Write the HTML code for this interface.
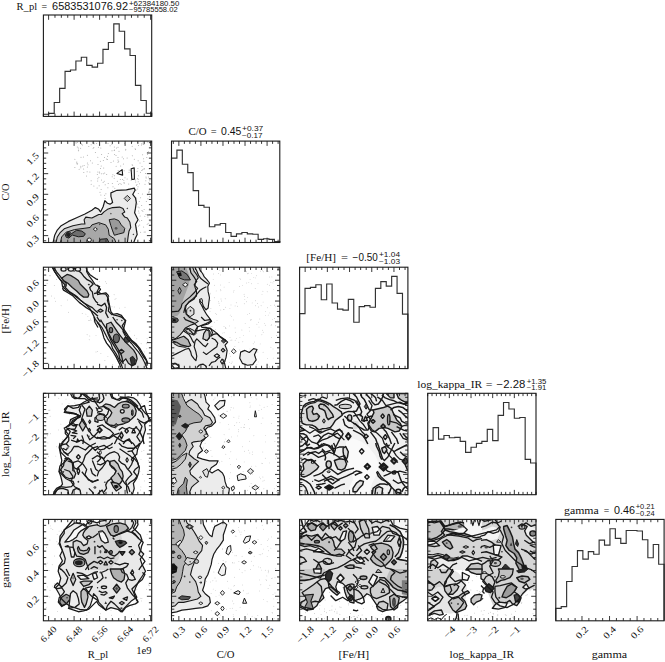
<!DOCTYPE html><html><head><meta charset="utf-8"><style>html,body{margin:0;padding:0;background:#fff;width:665px;height:662px;overflow:hidden;position:relative}</style></head><body><svg width="665" height="662" viewBox="0 0 665 662" style="position:absolute;left:0;top:0">
<rect width="665" height="662" fill="#fff"/>
<path d="M43.40,116.40L43.40,114.29L48.81,114.29L48.81,113.42L54.23,113.42L54.23,102.53L59.64,102.53L59.64,88.35L65.06,88.35L65.06,71.40L70.48,71.40L70.47,70.01L75.89,70.01L75.89,61.02L81.31,61.02L81.31,57.22L86.72,57.22L86.72,65.34L92.14,65.34L92.13,67.07L97.55,67.07L97.55,63.27L102.97,63.27L102.97,49.43L108.38,49.43L108.38,42.51L113.80,42.51L113.79,23.84L119.21,23.84L119.21,31.27L124.63,31.27L124.62,48.91L130.04,48.91L130.04,55.49L135.45,55.49L135.46,85.41L140.87,85.41L140.87,100.45L146.28,100.45L146.28,113.25L151.70,113.25L151.70,116.40" stroke="#333" stroke-width="1.15" fill="none" stroke-linejoin="miter"/>
<path d="M48.60,116.40v-4.8M48.60,15.00v4.8M54.97,116.40v-2.8M54.97,15.00v2.8M61.35,116.40v-2.8M61.35,15.00v2.8M67.72,116.40v-2.8M67.72,15.00v2.8M74.10,116.40v-4.8M74.10,15.00v4.8M80.47,116.40v-2.8M80.47,15.00v2.8M86.85,116.40v-2.8M86.85,15.00v2.8M93.22,116.40v-2.8M93.22,15.00v2.8M99.60,116.40v-4.8M99.60,15.00v4.8M105.97,116.40v-2.8M105.97,15.00v2.8M112.35,116.40v-2.8M112.35,15.00v2.8M118.72,116.40v-2.8M118.72,15.00v2.8M125.10,116.40v-4.8M125.10,15.00v4.8M131.47,116.40v-2.8M131.47,15.00v2.8M137.85,116.40v-2.8M137.85,15.00v2.8M144.22,116.40v-2.8M144.22,15.00v2.8M150.60,116.40v-4.8M150.60,15.00v4.8" stroke="#222" stroke-width="0.9" fill="none"/>
<rect x="43.40" y="15.00" width="108.3" height="101.4" fill="none" stroke="#1a1a1a" stroke-width="1.1"/>
<svg x="43.40" y="141.10" width="108.3" height="101.4" viewBox="43.40 141.10 108.3 101.4" overflow="hidden">
<circle cx="132.7" cy="165.3" r="0.5" fill="#a8a8a8"/><circle cx="112.3" cy="183.4" r="0.5" fill="#a8a8a8"/><circle cx="124.2" cy="215.1" r="0.5" fill="#a8a8a8"/><circle cx="81.7" cy="144.1" r="0.5" fill="#a8a8a8"/><circle cx="138.2" cy="181.8" r="0.5" fill="#a8a8a8"/><circle cx="132.6" cy="141.7" r="0.5" fill="#a8a8a8"/><circle cx="143.2" cy="144.3" r="0.5" fill="#a8a8a8"/><circle cx="146.0" cy="177.0" r="0.5" fill="#a8a8a8"/><circle cx="91.1" cy="180.8" r="0.5" fill="#a8a8a8"/><circle cx="76.8" cy="162.1" r="0.5" fill="#a8a8a8"/><circle cx="107.9" cy="187.7" r="0.5" fill="#a8a8a8"/><circle cx="92.3" cy="163.0" r="0.5" fill="#a8a8a8"/><circle cx="91.2" cy="184.3" r="0.5" fill="#a8a8a8"/><circle cx="96.6" cy="143.5" r="0.5" fill="#a8a8a8"/><circle cx="138.3" cy="193.4" r="0.5" fill="#a8a8a8"/><circle cx="123.5" cy="158.8" r="0.5" fill="#a8a8a8"/><circle cx="150.1" cy="221.7" r="0.5" fill="#a8a8a8"/><circle cx="83.8" cy="172.5" r="0.5" fill="#a8a8a8"/><circle cx="129.5" cy="207.8" r="0.5" fill="#a8a8a8"/><circle cx="145.8" cy="180.8" r="0.5" fill="#a8a8a8"/><circle cx="137.7" cy="204.0" r="0.5" fill="#a8a8a8"/><circle cx="141.7" cy="220.4" r="0.5" fill="#a8a8a8"/><circle cx="113.0" cy="196.4" r="0.5" fill="#a8a8a8"/><circle cx="77.2" cy="164.1" r="0.5" fill="#a8a8a8"/><circle cx="135.3" cy="180.1" r="0.5" fill="#a8a8a8"/><circle cx="128.1" cy="204.4" r="0.5" fill="#a8a8a8"/><circle cx="103.1" cy="182.4" r="0.5" fill="#a8a8a8"/><circle cx="114.2" cy="178.2" r="0.5" fill="#a8a8a8"/><circle cx="111.8" cy="144.2" r="0.5" fill="#a8a8a8"/><circle cx="149.4" cy="196.8" r="0.5" fill="#a8a8a8"/><circle cx="104.5" cy="157.4" r="0.5" fill="#a8a8a8"/><circle cx="133.2" cy="191.8" r="0.5" fill="#a8a8a8"/><circle cx="140.0" cy="163.1" r="0.5" fill="#a8a8a8"/><circle cx="118.5" cy="184.3" r="0.5" fill="#a8a8a8"/><circle cx="147.4" cy="142.0" r="0.5" fill="#a8a8a8"/><circle cx="134.2" cy="218.0" r="0.5" fill="#a8a8a8"/><circle cx="142.0" cy="210.6" r="0.5" fill="#a8a8a8"/><circle cx="136.1" cy="189.9" r="0.5" fill="#a8a8a8"/><circle cx="117.3" cy="181.2" r="0.5" fill="#a8a8a8"/><circle cx="118.0" cy="160.1" r="0.5" fill="#a8a8a8"/><circle cx="113.0" cy="186.7" r="0.5" fill="#a8a8a8"/><circle cx="101.7" cy="173.7" r="0.5" fill="#a8a8a8"/><circle cx="115.6" cy="199.6" r="0.5" fill="#a8a8a8"/><circle cx="121.2" cy="184.2" r="0.5" fill="#a8a8a8"/><circle cx="76.7" cy="162.9" r="0.5" fill="#a8a8a8"/><circle cx="140.1" cy="216.0" r="0.5" fill="#a8a8a8"/><circle cx="135.2" cy="217.6" r="0.5" fill="#a8a8a8"/><circle cx="125.8" cy="149.2" r="0.5" fill="#a8a8a8"/><circle cx="75.9" cy="142.8" r="0.5" fill="#a8a8a8"/><circle cx="132.1" cy="164.7" r="0.5" fill="#a8a8a8"/><circle cx="100.8" cy="147.9" r="0.5" fill="#a8a8a8"/><circle cx="87.4" cy="166.9" r="0.5" fill="#a8a8a8"/><circle cx="128.7" cy="183.9" r="0.5" fill="#a8a8a8"/><circle cx="99.1" cy="185.7" r="0.5" fill="#a8a8a8"/><circle cx="106.6" cy="159.0" r="0.5" fill="#a8a8a8"/><circle cx="113.4" cy="161.0" r="0.5" fill="#a8a8a8"/><circle cx="76.2" cy="143.1" r="0.5" fill="#a8a8a8"/><circle cx="126.2" cy="192.3" r="0.5" fill="#a8a8a8"/><circle cx="135.3" cy="189.7" r="0.5" fill="#a8a8a8"/><circle cx="104.6" cy="195.2" r="0.5" fill="#a8a8a8"/><circle cx="79.1" cy="169.3" r="0.5" fill="#a8a8a8"/><circle cx="148.2" cy="223.2" r="0.5" fill="#a8a8a8"/><circle cx="131.2" cy="180.3" r="0.5" fill="#a8a8a8"/><circle cx="93.8" cy="142.2" r="0.5" fill="#a8a8a8"/><circle cx="141.4" cy="145.0" r="0.5" fill="#a8a8a8"/><circle cx="136.9" cy="231.2" r="0.5" fill="#a8a8a8"/><circle cx="118.0" cy="157.5" r="0.5" fill="#a8a8a8"/><circle cx="140.6" cy="232.3" r="0.5" fill="#a8a8a8"/><circle cx="128.1" cy="188.9" r="0.5" fill="#a8a8a8"/><circle cx="103.3" cy="173.8" r="0.5" fill="#a8a8a8"/><circle cx="107.5" cy="159.6" r="0.5" fill="#a8a8a8"/><circle cx="97.1" cy="188.1" r="0.5" fill="#a8a8a8"/><circle cx="143.0" cy="143.1" r="0.5" fill="#a8a8a8"/><circle cx="89.9" cy="172.0" r="0.5" fill="#a8a8a8"/><circle cx="149.7" cy="214.5" r="0.5" fill="#a8a8a8"/><circle cx="100.4" cy="161.3" r="0.5" fill="#a8a8a8"/><circle cx="125.9" cy="219.6" r="0.5" fill="#a8a8a8"/><circle cx="145.5" cy="173.5" r="0.5" fill="#a8a8a8"/><circle cx="141.7" cy="205.6" r="0.5" fill="#a8a8a8"/><circle cx="81.0" cy="157.3" r="0.5" fill="#a8a8a8"/><circle cx="143.9" cy="161.3" r="0.5" fill="#a8a8a8"/><circle cx="132.3" cy="197.5" r="0.5" fill="#a8a8a8"/><circle cx="138.6" cy="175.8" r="0.5" fill="#a8a8a8"/><circle cx="100.5" cy="168.6" r="0.5" fill="#a8a8a8"/><circle cx="140.6" cy="197.8" r="0.5" fill="#a8a8a8"/><circle cx="147.2" cy="224.2" r="0.5" fill="#a8a8a8"/><circle cx="82.5" cy="145.1" r="0.5" fill="#a8a8a8"/><circle cx="134.5" cy="218.8" r="0.5" fill="#a8a8a8"/><circle cx="134.1" cy="176.7" r="0.5" fill="#a8a8a8"/><circle cx="118.0" cy="162.3" r="0.5" fill="#a8a8a8"/><circle cx="80.8" cy="166.3" r="0.5" fill="#a8a8a8"/><circle cx="142.4" cy="194.1" r="0.5" fill="#a8a8a8"/><circle cx="145.0" cy="184.2" r="0.5" fill="#a8a8a8"/><circle cx="137.6" cy="142.6" r="0.5" fill="#a8a8a8"/><circle cx="125.6" cy="150.0" r="0.5" fill="#a8a8a8"/><circle cx="77.6" cy="163.8" r="0.5" fill="#a8a8a8"/><circle cx="149.8" cy="180.7" r="0.5" fill="#a8a8a8"/><circle cx="83.4" cy="157.1" r="0.5" fill="#a8a8a8"/><circle cx="143.8" cy="168.9" r="0.5" fill="#a8a8a8"/><circle cx="93.9" cy="186.0" r="0.5" fill="#a8a8a8"/><circle cx="77.6" cy="142.4" r="0.5" fill="#a8a8a8"/><circle cx="149.3" cy="169.0" r="0.5" fill="#a8a8a8"/><circle cx="120.0" cy="183.4" r="0.5" fill="#a8a8a8"/><circle cx="98.4" cy="147.3" r="0.5" fill="#a8a8a8"/><circle cx="144.1" cy="232.0" r="0.5" fill="#a8a8a8"/><circle cx="148.4" cy="151.8" r="0.5" fill="#a8a8a8"/><circle cx="149.1" cy="192.1" r="0.5" fill="#a8a8a8"/><circle cx="126.9" cy="203.2" r="0.5" fill="#a8a8a8"/><circle cx="98.0" cy="164.4" r="0.5" fill="#a8a8a8"/><circle cx="80.8" cy="167.7" r="0.5" fill="#a8a8a8"/><circle cx="149.4" cy="183.3" r="0.5" fill="#a8a8a8"/><circle cx="124.2" cy="201.5" r="0.5" fill="#a8a8a8"/><circle cx="146.2" cy="177.9" r="0.5" fill="#a8a8a8"/><circle cx="97.9" cy="172.0" r="0.5" fill="#a8a8a8"/><circle cx="142.6" cy="169.7" r="0.5" fill="#a8a8a8"/><circle cx="100.0" cy="192.2" r="0.5" fill="#a8a8a8"/><circle cx="118.6" cy="197.1" r="0.5" fill="#a8a8a8"/><circle cx="93.2" cy="143.4" r="0.5" fill="#a8a8a8"/><circle cx="93.1" cy="148.2" r="0.5" fill="#a8a8a8"/><circle cx="116.5" cy="148.1" r="0.5" fill="#a8a8a8"/><circle cx="135.1" cy="148.7" r="0.5" fill="#a8a8a8"/><circle cx="146.8" cy="157.6" r="0.5" fill="#a8a8a8"/><circle cx="137.1" cy="171.3" r="0.5" fill="#a8a8a8"/><circle cx="144.5" cy="168.8" r="0.5" fill="#a8a8a8"/><circle cx="142.6" cy="154.7" r="0.5" fill="#a8a8a8"/><circle cx="143.9" cy="144.4" r="0.5" fill="#a8a8a8"/><circle cx="135.7" cy="226.1" r="0.5" fill="#a8a8a8"/><circle cx="138.6" cy="211.1" r="0.5" fill="#a8a8a8"/><circle cx="127.1" cy="158.1" r="0.5" fill="#a8a8a8"/><circle cx="107.5" cy="156.2" r="0.5" fill="#a8a8a8"/><circle cx="129.0" cy="203.8" r="0.5" fill="#a8a8a8"/><circle cx="93.8" cy="147.5" r="0.5" fill="#a8a8a8"/><circle cx="147.9" cy="216.9" r="0.5" fill="#a8a8a8"/><circle cx="116.4" cy="192.0" r="0.5" fill="#a8a8a8"/><circle cx="139.4" cy="183.8" r="0.5" fill="#a8a8a8"/><circle cx="104.7" cy="173.1" r="0.5" fill="#a8a8a8"/><circle cx="94.2" cy="143.7" r="0.5" fill="#a8a8a8"/><circle cx="123.8" cy="180.3" r="0.5" fill="#a8a8a8"/><circle cx="118.0" cy="147.3" r="0.5" fill="#a8a8a8"/><circle cx="101.6" cy="154.4" r="0.5" fill="#a8a8a8"/><circle cx="84.1" cy="165.6" r="0.5" fill="#a8a8a8"/><circle cx="137.7" cy="178.6" r="0.5" fill="#a8a8a8"/><circle cx="105.1" cy="198.6" r="0.5" fill="#a8a8a8"/><circle cx="92.4" cy="142.2" r="0.5" fill="#a8a8a8"/><circle cx="114.8" cy="188.2" r="0.5" fill="#a8a8a8"/><circle cx="124.0" cy="182.4" r="0.5" fill="#a8a8a8"/><circle cx="126.8" cy="209.7" r="0.5" fill="#a8a8a8"/><circle cx="111.0" cy="162.5" r="0.5" fill="#a8a8a8"/><circle cx="105.9" cy="193.7" r="0.5" fill="#a8a8a8"/><circle cx="143.6" cy="227.1" r="0.5" fill="#a8a8a8"/><circle cx="78.3" cy="148.1" r="0.5" fill="#a8a8a8"/><circle cx="141.8" cy="170.6" r="0.5" fill="#a8a8a8"/><circle cx="127.3" cy="220.7" r="0.5" fill="#a8a8a8"/><circle cx="130.6" cy="196.9" r="0.5" fill="#a8a8a8"/><circle cx="139.7" cy="225.1" r="0.5" fill="#a8a8a8"/><circle cx="147.6" cy="194.8" r="0.5" fill="#a8a8a8"/><circle cx="88.0" cy="164.8" r="0.5" fill="#a8a8a8"/><circle cx="132.2" cy="146.3" r="0.5" fill="#a8a8a8"/><circle cx="126.4" cy="208.4" r="0.5" fill="#a8a8a8"/><circle cx="101.1" cy="189.5" r="0.5" fill="#a8a8a8"/><circle cx="136.1" cy="200.1" r="0.5" fill="#a8a8a8"/><circle cx="147.6" cy="154.4" r="0.5" fill="#a8a8a8"/><circle cx="133.6" cy="220.0" r="0.5" fill="#a8a8a8"/><circle cx="124.8" cy="206.8" r="0.5" fill="#a8a8a8"/><circle cx="148.5" cy="177.1" r="0.5" fill="#a8a8a8"/><circle cx="135.7" cy="181.9" r="0.5" fill="#a8a8a8"/><circle cx="87.1" cy="171.8" r="0.5" fill="#a8a8a8"/><circle cx="147.6" cy="152.6" r="0.5" fill="#a8a8a8"/><circle cx="120.3" cy="179.5" r="0.5" fill="#a8a8a8"/><circle cx="83.6" cy="169.0" r="0.5" fill="#a8a8a8"/><circle cx="74.9" cy="159.2" r="0.5" fill="#a8a8a8"/><circle cx="108.0" cy="143.4" r="0.5" fill="#a8a8a8"/><circle cx="122.3" cy="198.0" r="0.5" fill="#a8a8a8"/><circle cx="138.1" cy="160.7" r="0.5" fill="#a8a8a8"/><circle cx="134.8" cy="216.9" r="0.5" fill="#a8a8a8"/><circle cx="148.7" cy="192.3" r="0.5" fill="#a8a8a8"/><circle cx="133.1" cy="194.7" r="0.5" fill="#a8a8a8"/><circle cx="103.7" cy="168.0" r="0.5" fill="#a8a8a8"/><circle cx="118.1" cy="170.5" r="0.5" fill="#a8a8a8"/><circle cx="112.9" cy="174.8" r="0.5" fill="#a8a8a8"/><circle cx="114.8" cy="141.5" r="0.5" fill="#a8a8a8"/><circle cx="108.2" cy="183.4" r="0.5" fill="#a8a8a8"/><circle cx="97.8" cy="178.7" r="0.5" fill="#a8a8a8"/><circle cx="134.2" cy="205.2" r="0.5" fill="#a8a8a8"/><circle cx="112.0" cy="201.9" r="0.5" fill="#a8a8a8"/><circle cx="103.3" cy="160.5" r="0.5" fill="#a8a8a8"/><circle cx="74.9" cy="167.4" r="0.5" fill="#a8a8a8"/><circle cx="137.7" cy="189.1" r="0.5" fill="#a8a8a8"/><circle cx="149.7" cy="184.5" r="0.5" fill="#a8a8a8"/><circle cx="138.1" cy="179.6" r="0.5" fill="#a8a8a8"/><circle cx="97.8" cy="157.3" r="0.5" fill="#a8a8a8"/><circle cx="121.8" cy="191.0" r="0.5" fill="#a8a8a8"/><circle cx="101.9" cy="141.8" r="0.5" fill="#a8a8a8"/><circle cx="104.2" cy="181.2" r="0.5" fill="#a8a8a8"/><circle cx="119.1" cy="209.9" r="0.5" fill="#a8a8a8"/><circle cx="142.9" cy="211.3" r="0.5" fill="#a8a8a8"/><circle cx="123.3" cy="202.0" r="0.5" fill="#a8a8a8"/><circle cx="122.5" cy="179.4" r="0.5" fill="#a8a8a8"/><circle cx="122.5" cy="200.6" r="0.5" fill="#a8a8a8"/><circle cx="145.9" cy="214.5" r="0.5" fill="#a8a8a8"/><circle cx="139.0" cy="213.1" r="0.5" fill="#a8a8a8"/><circle cx="136.6" cy="198.0" r="0.5" fill="#a8a8a8"/><circle cx="101.2" cy="166.1" r="0.5" fill="#a8a8a8"/><circle cx="116.0" cy="155.6" r="0.5" fill="#a8a8a8"/><circle cx="138.0" cy="186.7" r="0.5" fill="#a8a8a8"/><circle cx="110.1" cy="145.7" r="0.5" fill="#a8a8a8"/><circle cx="106.7" cy="174.6" r="0.5" fill="#a8a8a8"/><circle cx="124.6" cy="143.3" r="0.5" fill="#a8a8a8"/><circle cx="127.1" cy="179.0" r="0.5" fill="#a8a8a8"/><circle cx="127.0" cy="197.9" r="0.5" fill="#a8a8a8"/><circle cx="90.5" cy="160.8" r="0.5" fill="#a8a8a8"/><circle cx="142.0" cy="166.6" r="0.5" fill="#a8a8a8"/><circle cx="114.4" cy="175.8" r="0.5" fill="#a8a8a8"/><circle cx="128.9" cy="217.5" r="0.5" fill="#a8a8a8"/><circle cx="140.5" cy="172.2" r="0.5" fill="#a8a8a8"/><circle cx="128.4" cy="220.2" r="0.5" fill="#a8a8a8"/><circle cx="121.9" cy="171.0" r="0.5" fill="#a8a8a8"/><circle cx="134.3" cy="159.2" r="0.5" fill="#a8a8a8"/><circle cx="122.2" cy="156.9" r="0.5" fill="#a8a8a8"/><circle cx="148.6" cy="182.8" r="0.5" fill="#a8a8a8"/><circle cx="144.1" cy="209.4" r="0.5" fill="#a8a8a8"/><circle cx="120.7" cy="165.9" r="0.5" fill="#a8a8a8"/><circle cx="114.6" cy="154.4" r="0.5" fill="#a8a8a8"/><circle cx="129.2" cy="170.0" r="0.5" fill="#a8a8a8"/><circle cx="112.0" cy="150.8" r="0.5" fill="#a8a8a8"/><circle cx="88.8" cy="146.6" r="0.5" fill="#a8a8a8"/><circle cx="91.1" cy="144.7" r="0.5" fill="#a8a8a8"/><circle cx="128.1" cy="217.5" r="0.5" fill="#a8a8a8"/><circle cx="147.9" cy="198.7" r="0.5" fill="#a8a8a8"/><circle cx="112.2" cy="176.7" r="0.5" fill="#a8a8a8"/><circle cx="87.4" cy="163.1" r="0.5" fill="#a8a8a8"/><circle cx="137.0" cy="184.6" r="0.5" fill="#a8a8a8"/><circle cx="118.7" cy="161.2" r="0.5" fill="#a8a8a8"/><circle cx="129.0" cy="172.3" r="0.5" fill="#a8a8a8"/><circle cx="150.2" cy="145.8" r="0.5" fill="#a8a8a8"/><circle cx="135.3" cy="221.5" r="0.5" fill="#a8a8a8"/><circle cx="98.9" cy="177.2" r="0.5" fill="#a8a8a8"/><circle cx="132.3" cy="155.7" r="0.5" fill="#a8a8a8"/><circle cx="144.1" cy="142.9" r="0.5" fill="#a8a8a8"/><circle cx="138.5" cy="226.0" r="0.5" fill="#a8a8a8"/><circle cx="77.3" cy="147.1" r="0.5" fill="#a8a8a8"/><circle cx="138.5" cy="145.5" r="0.5" fill="#a8a8a8"/><circle cx="95.4" cy="152.4" r="0.5" fill="#a8a8a8"/><circle cx="81.5" cy="144.0" r="0.5" fill="#a8a8a8"/><circle cx="123.1" cy="210.9" r="0.5" fill="#a8a8a8"/><circle cx="126.8" cy="220.4" r="0.5" fill="#a8a8a8"/><circle cx="125.0" cy="177.8" r="0.5" fill="#a8a8a8"/><circle cx="123.4" cy="164.1" r="0.5" fill="#a8a8a8"/><circle cx="119.5" cy="174.1" r="0.5" fill="#a8a8a8"/><circle cx="120.6" cy="193.7" r="0.5" fill="#a8a8a8"/><circle cx="114.3" cy="147.1" r="0.5" fill="#a8a8a8"/><circle cx="101.5" cy="180.0" r="0.5" fill="#a8a8a8"/><circle cx="128.9" cy="210.8" r="0.5" fill="#a8a8a8"/><circle cx="129.5" cy="211.6" r="0.5" fill="#a8a8a8"/><circle cx="139.6" cy="221.0" r="0.5" fill="#a8a8a8"/><circle cx="78.6" cy="150.0" r="0.5" fill="#a8a8a8"/><circle cx="136.4" cy="185.2" r="0.5" fill="#a8a8a8"/><circle cx="108.3" cy="153.4" r="0.5" fill="#a8a8a8"/><circle cx="141.7" cy="143.8" r="0.5" fill="#a8a8a8"/><circle cx="114.5" cy="149.9" r="0.5" fill="#a8a8a8"/><circle cx="135.5" cy="149.5" r="0.5" fill="#a8a8a8"/><circle cx="130.3" cy="170.7" r="0.5" fill="#a8a8a8"/><circle cx="136.0" cy="221.3" r="0.5" fill="#a8a8a8"/><circle cx="97.7" cy="181.1" r="0.5" fill="#a8a8a8"/><circle cx="99.7" cy="173.1" r="0.5" fill="#a8a8a8"/><circle cx="119.0" cy="151.2" r="0.5" fill="#a8a8a8"/><circle cx="124.2" cy="183.3" r="0.5" fill="#a8a8a8"/><circle cx="149.8" cy="208.6" r="0.5" fill="#a8a8a8"/><circle cx="138.1" cy="206.9" r="0.5" fill="#a8a8a8"/><circle cx="137.9" cy="168.6" r="0.5" fill="#a8a8a8"/><circle cx="86.5" cy="176.0" r="0.5" fill="#a8a8a8"/><circle cx="114.2" cy="150.5" r="0.5" fill="#a8a8a8"/><circle cx="100.9" cy="195.1" r="0.5" fill="#a8a8a8"/><circle cx="124.1" cy="170.7" r="0.5" fill="#a8a8a8"/><circle cx="97.3" cy="174.4" r="0.5" fill="#a8a8a8"/><circle cx="112.7" cy="190.6" r="0.5" fill="#a8a8a8"/><circle cx="99.4" cy="172.0" r="0.5" fill="#a8a8a8"/><circle cx="145.2" cy="231.9" r="0.5" fill="#a8a8a8"/><circle cx="136.6" cy="227.8" r="0.5" fill="#a8a8a8"/><circle cx="144.8" cy="216.2" r="0.5" fill="#a8a8a8"/><circle cx="134.2" cy="207.0" r="0.5" fill="#a8a8a8"/><circle cx="131.4" cy="175.2" r="0.5" fill="#a8a8a8"/><circle cx="146.3" cy="201.5" r="0.5" fill="#a8a8a8"/><circle cx="105.2" cy="184.8" r="0.5" fill="#a8a8a8"/><circle cx="149.1" cy="191.1" r="0.5" fill="#a8a8a8"/><circle cx="87.4" cy="155.3" r="0.5" fill="#a8a8a8"/><circle cx="126.9" cy="194.0" r="0.5" fill="#a8a8a8"/><circle cx="143.6" cy="158.7" r="0.5" fill="#a8a8a8"/><circle cx="78.4" cy="150.7" r="0.5" fill="#a8a8a8"/><circle cx="116.1" cy="166.3" r="0.5" fill="#a8a8a8"/><circle cx="82.7" cy="165.9" r="0.5" fill="#a8a8a8"/><circle cx="122.7" cy="190.6" r="0.5" fill="#a8a8a8"/><circle cx="80.6" cy="148.3" r="0.5" fill="#a8a8a8"/><circle cx="139.3" cy="201.5" r="0.5" fill="#a8a8a8"/><circle cx="139.1" cy="207.7" r="0.5" fill="#a8a8a8"/><polygon points="52.97,243.02 54.70,235.25 57.29,230.06 60.75,226.09 68.53,221.42 77.18,217.45 84.96,213.99 91.88,210.19 95.33,207.60 98.79,209.33 100.52,211.92 103.12,206.74 104.85,200.69 107.44,203.28 110.03,204.14 112.63,202.42 110.90,196.37 110.90,192.91 116.95,190.32 126.46,189.80 134.24,188.07 135.11,190.32 132.69,194.47 135.45,197.92 136.32,202.42 135.45,208.46 134.59,212.78 138.05,219.70 135.45,224.19 136.32,229.37 137.18,234.56 135.45,238.01 133.55,243.02" fill="#ececec" stroke="#1a1a1a" stroke-width="1.2" stroke-linejoin="round"/><polygon points="55.91,243.02 57.29,236.98 60.40,232.31 64.21,228.85 72.85,225.74 81.50,224.02 84.96,224.02 84.09,219.70 85.82,217.10 91.88,217.97 98.79,214.51 101.39,214.51 103.98,211.92 107.44,209.33 112.63,207.60 119.54,207.08 123.00,208.46 124.73,211.92 122.14,213.65 124.73,217.10 127.32,217.97 129.92,222.29 130.78,227.47 129.05,230.93 128.19,236.11 127.32,243.02" fill="#cdcdcd" stroke="#1a1a1a" stroke-width="1.1" stroke-linejoin="round"/><polygon points="60.40,243.02 61.62,236.98 65.94,232.31 74.58,229.55 84.09,228.34 90.15,227.47 91.88,224.88 98.79,222.63 105.71,224.88 108.30,229.20 109.17,235.25 114.36,238.70 116.09,243.02" fill="#a8a8a8" stroke="#1a1a1a" stroke-width="1.0" stroke-linejoin="round"/><polygon points="109.17,219.70 114.36,218.83 118.68,220.56 121.27,224.88 124.73,228.34 123.87,232.66 118.68,234.04 114.36,235.25 112.63,230.93 110.90,225.74" fill="#9a9a9a" stroke="#1a1a1a" stroke-width="1.0" stroke-linejoin="round"/><polygon points="65.29,234.61 68.78,231.12 71.40,233.74 76.63,230.25 81.86,231.12 85.35,233.74 83.61,236.35 78.37,236.79 72.27,235.04 68.78,238.10 66.16,237.22" fill="#6e6e6e" stroke="#1a1a1a" stroke-width="1.0" stroke-linejoin="round"/><polygon points="65.73,235.04 68.34,231.99 70.96,234.17 68.78,237.66" fill="#1e1e1e"/><polygon points="98.45,243.02 100.52,239.22 107.09,238.70 109.17,243.02" fill="#6a6a6a" stroke="#1a1a1a" stroke-width="1.0" stroke-linejoin="round"/><ellipse cx="89.28" cy="239.91" rx="2.08" ry="1.90" fill="#efefef" stroke="#1a1a1a" stroke-width="0.9"/><polygon points="93.26,229.20 95.33,227.47 97.41,229.20 95.33,230.93" fill="#eeeeee" stroke="#1a1a1a" stroke-width="0.9" stroke-linejoin="round"/><ellipse cx="116.09" cy="228.34" rx="1.38" ry="1.38" fill="#555"/><polygon points="110.03,213.65 110.90,212.78 111.76,213.65 110.90,214.51" fill="#444"/><polygon points="126.46,208.46 127.32,207.60 128.19,208.46 127.32,209.33" fill="#444"/><polygon points="98.79,224.36 99.66,223.50 100.52,224.36 99.66,225.23" fill="#444"/><polygon points="132.51,234.38 133.38,233.52 134.24,234.38 133.38,235.25" fill="#444"/><polygon points="124.21,198.44 127.32,195.33 130.44,198.44 127.32,201.55" fill="#c4c4c4" stroke="#1a1a1a" stroke-width="0.9" stroke-linejoin="round"/><polygon points="116.95,173.42 122.14,169.62 122.66,175.15" fill="#f4f4f4" stroke="#1a1a1a" stroke-width="1.1" stroke-linejoin="round"/><polygon points="131.13,168.76 134.24,167.89 134.41,179.13 131.82,179.47" fill="#f4f4f4" stroke="#1a1a1a" stroke-width="1.1" stroke-linejoin="round"/>
</svg>
<path d="M48.60,242.50v-4.8M48.60,141.10v4.8M54.97,242.50v-2.8M54.97,141.10v2.8M61.35,242.50v-2.8M61.35,141.10v2.8M67.72,242.50v-2.8M67.72,141.10v2.8M74.10,242.50v-4.8M74.10,141.10v4.8M80.47,242.50v-2.8M80.47,141.10v2.8M86.85,242.50v-2.8M86.85,141.10v2.8M93.22,242.50v-2.8M93.22,141.10v2.8M99.60,242.50v-4.8M99.60,141.10v4.8M105.97,242.50v-2.8M105.97,141.10v2.8M112.35,242.50v-2.8M112.35,141.10v2.8M118.72,242.50v-2.8M118.72,141.10v2.8M125.10,242.50v-4.8M125.10,141.10v4.8M131.47,242.50v-2.8M131.47,141.10v2.8M137.85,242.50v-2.8M137.85,141.10v2.8M144.22,242.50v-2.8M144.22,141.10v2.8M150.60,242.50v-4.8M150.60,141.10v4.8M43.40,240.78h2.8M151.70,240.78h-2.8M43.40,235.62h4.8M151.70,235.62h-4.8M43.40,230.45h2.8M151.70,230.45h-2.8M43.40,225.29h2.8M151.70,225.29h-2.8M43.40,220.13h2.8M151.70,220.13h-2.8M43.40,214.96h4.8M151.70,214.96h-4.8M43.40,209.80h2.8M151.70,209.80h-2.8M43.40,204.64h2.8M151.70,204.64h-2.8M43.40,199.48h2.8M151.70,199.48h-2.8M43.40,194.31h4.8M151.70,194.31h-4.8M43.40,189.15h2.8M151.70,189.15h-2.8M43.40,183.99h2.8M151.70,183.99h-2.8M43.40,178.82h2.8M151.70,178.82h-2.8M43.40,173.66h4.8M151.70,173.66h-4.8M43.40,168.50h2.8M151.70,168.50h-2.8M43.40,163.34h2.8M151.70,163.34h-2.8M43.40,158.17h2.8M151.70,158.17h-2.8M43.40,153.01h4.8M151.70,153.01h-4.8M43.40,147.85h2.8M151.70,147.85h-2.8M43.40,142.68h2.8M151.70,142.68h-2.8" stroke="#222" stroke-width="0.9" fill="none"/>
<rect x="43.40" y="141.10" width="108.3" height="101.4" fill="none" stroke="#1a1a1a" stroke-width="1.1"/>
<path d="M171.50,242.50L171.50,158.10L176.91,158.10L176.91,150.16L182.33,150.16L182.33,164.24L187.75,164.24L187.75,172.55L193.16,172.55L193.16,190.60L198.57,190.60L198.57,205.40L203.99,205.40L203.99,207.20L209.41,207.20L209.41,226.70L214.82,226.70L214.82,224.89L220.23,224.89L220.24,223.45L225.65,223.45L225.65,232.47L231.06,232.47L231.06,236.44L236.48,236.44L236.48,233.92L241.90,233.92L241.89,232.47L247.31,232.47L247.31,233.92L252.72,233.92L252.72,234.28L258.14,234.28L258.14,239.33L263.56,239.33L263.56,238.79L268.97,238.79L268.97,239.33L274.39,239.33L274.38,241.50L279.80,241.50L279.80,242.50" stroke="#333" stroke-width="1.15" fill="none" stroke-linejoin="miter"/>
<path d="M173.34,242.50v-2.8M173.34,141.10v2.8M178.85,242.50v-4.8M178.85,141.10v4.8M184.37,242.50v-2.8M184.37,141.10v2.8M189.88,242.50v-2.8M189.88,141.10v2.8M195.40,242.50v-2.8M195.40,141.10v2.8M200.91,242.50v-4.8M200.91,141.10v4.8M206.42,242.50v-2.8M206.42,141.10v2.8M211.94,242.50v-2.8M211.94,141.10v2.8M217.45,242.50v-2.8M217.45,141.10v2.8M222.97,242.50v-4.8M222.97,141.10v4.8M228.48,242.50v-2.8M228.48,141.10v2.8M233.99,242.50v-2.8M233.99,141.10v2.8M239.51,242.50v-2.8M239.51,141.10v2.8M245.02,242.50v-4.8M245.02,141.10v4.8M250.54,242.50v-2.8M250.54,141.10v2.8M256.05,242.50v-2.8M256.05,141.10v2.8M261.57,242.50v-2.8M261.57,141.10v2.8M267.08,242.50v-4.8M267.08,141.10v4.8M272.59,242.50v-2.8M272.59,141.10v2.8M278.11,242.50v-2.8M278.11,141.10v2.8" stroke="#222" stroke-width="0.9" fill="none"/>
<rect x="171.50" y="141.10" width="108.3" height="101.4" fill="none" stroke="#1a1a1a" stroke-width="1.1"/>
<svg x="43.40" y="267.20" width="108.3" height="101.4" viewBox="43.40 267.20 108.3 101.4" overflow="hidden">
<circle cx="146.9" cy="363.3" r="0.45" fill="#b0b0b0"/><circle cx="49.6" cy="275.7" r="0.45" fill="#b0b0b0"/><circle cx="133.9" cy="341.8" r="0.45" fill="#b0b0b0"/><circle cx="116.0" cy="298.4" r="0.45" fill="#b0b0b0"/><circle cx="109.1" cy="328.7" r="0.45" fill="#b0b0b0"/><circle cx="106.4" cy="283.2" r="0.45" fill="#b0b0b0"/><circle cx="90.1" cy="307.0" r="0.45" fill="#b0b0b0"/><circle cx="121.7" cy="368.0" r="0.45" fill="#b0b0b0"/><circle cx="91.6" cy="294.3" r="0.45" fill="#b0b0b0"/><circle cx="47.3" cy="269.9" r="0.45" fill="#b0b0b0"/><circle cx="93.8" cy="299.4" r="0.45" fill="#b0b0b0"/><circle cx="100.4" cy="324.0" r="0.45" fill="#b0b0b0"/><circle cx="69.0" cy="269.5" r="0.45" fill="#b0b0b0"/><circle cx="78.7" cy="281.0" r="0.45" fill="#b0b0b0"/><circle cx="140.2" cy="347.9" r="0.45" fill="#b0b0b0"/><circle cx="123.0" cy="359.1" r="0.45" fill="#b0b0b0"/><circle cx="126.0" cy="347.2" r="0.45" fill="#b0b0b0"/><circle cx="125.1" cy="339.7" r="0.45" fill="#b0b0b0"/><circle cx="93.4" cy="320.9" r="0.45" fill="#b0b0b0"/><circle cx="97.7" cy="351.5" r="0.45" fill="#b0b0b0"/><circle cx="104.9" cy="360.5" r="0.45" fill="#b0b0b0"/><circle cx="121.8" cy="316.5" r="0.45" fill="#b0b0b0"/><circle cx="67.5" cy="300.0" r="0.45" fill="#b0b0b0"/><circle cx="147.1" cy="338.7" r="0.45" fill="#b0b0b0"/><circle cx="98.0" cy="319.6" r="0.45" fill="#b0b0b0"/><circle cx="114.0" cy="326.7" r="0.45" fill="#b0b0b0"/><circle cx="77.2" cy="288.2" r="0.45" fill="#b0b0b0"/><circle cx="132.3" cy="340.7" r="0.45" fill="#b0b0b0"/><circle cx="114.1" cy="294.8" r="0.45" fill="#b0b0b0"/><circle cx="89.2" cy="339.8" r="0.45" fill="#b0b0b0"/><circle cx="85.2" cy="271.5" r="0.45" fill="#b0b0b0"/><circle cx="110.1" cy="342.4" r="0.45" fill="#b0b0b0"/><circle cx="55.7" cy="301.3" r="0.45" fill="#b0b0b0"/><circle cx="126.4" cy="342.2" r="0.45" fill="#b0b0b0"/><circle cx="141.1" cy="343.8" r="0.45" fill="#b0b0b0"/><circle cx="136.8" cy="338.7" r="0.45" fill="#b0b0b0"/><circle cx="94.6" cy="290.0" r="0.45" fill="#b0b0b0"/><circle cx="115.0" cy="299.2" r="0.45" fill="#b0b0b0"/><circle cx="106.8" cy="307.0" r="0.45" fill="#b0b0b0"/><circle cx="99.2" cy="281.7" r="0.45" fill="#b0b0b0"/><circle cx="109.1" cy="309.7" r="0.45" fill="#b0b0b0"/><circle cx="58.7" cy="272.9" r="0.45" fill="#b0b0b0"/><circle cx="47.1" cy="283.5" r="0.45" fill="#b0b0b0"/><circle cx="144.6" cy="368.0" r="0.45" fill="#b0b0b0"/><circle cx="68.6" cy="312.2" r="0.45" fill="#b0b0b0"/><circle cx="111.0" cy="348.3" r="0.45" fill="#b0b0b0"/><circle cx="89.2" cy="320.5" r="0.45" fill="#b0b0b0"/><circle cx="44.0" cy="270.7" r="0.45" fill="#b0b0b0"/><circle cx="87.7" cy="278.4" r="0.45" fill="#b0b0b0"/><circle cx="54.3" cy="285.5" r="0.45" fill="#b0b0b0"/><circle cx="68.5" cy="289.2" r="0.45" fill="#b0b0b0"/><circle cx="99.8" cy="314.2" r="0.45" fill="#b0b0b0"/><circle cx="147.7" cy="341.0" r="0.45" fill="#b0b0b0"/><circle cx="90.4" cy="319.0" r="0.45" fill="#b0b0b0"/><circle cx="88.7" cy="320.4" r="0.45" fill="#b0b0b0"/><circle cx="63.1" cy="276.6" r="0.45" fill="#b0b0b0"/><circle cx="109.5" cy="296.5" r="0.45" fill="#b0b0b0"/><circle cx="54.4" cy="298.1" r="0.45" fill="#b0b0b0"/><circle cx="134.5" cy="335.3" r="0.45" fill="#b0b0b0"/><circle cx="87.9" cy="316.4" r="0.45" fill="#b0b0b0"/><circle cx="51.4" cy="296.0" r="0.45" fill="#b0b0b0"/><circle cx="85.9" cy="314.1" r="0.45" fill="#b0b0b0"/><circle cx="125.0" cy="307.2" r="0.45" fill="#b0b0b0"/><circle cx="56.6" cy="279.5" r="0.45" fill="#b0b0b0"/><circle cx="112.8" cy="364.5" r="0.45" fill="#b0b0b0"/><circle cx="114.8" cy="345.9" r="0.45" fill="#b0b0b0"/><circle cx="121.8" cy="317.6" r="0.45" fill="#b0b0b0"/><circle cx="82.2" cy="313.5" r="0.45" fill="#b0b0b0"/><circle cx="100.4" cy="315.6" r="0.45" fill="#b0b0b0"/><circle cx="146.8" cy="348.7" r="0.45" fill="#b0b0b0"/><circle cx="144.4" cy="351.9" r="0.45" fill="#b0b0b0"/><circle cx="75.6" cy="290.6" r="0.45" fill="#b0b0b0"/><circle cx="96.4" cy="293.4" r="0.45" fill="#b0b0b0"/><circle cx="89.8" cy="336.0" r="0.45" fill="#b0b0b0"/><circle cx="50.7" cy="275.8" r="0.45" fill="#b0b0b0"/><circle cx="140.4" cy="367.4" r="0.45" fill="#b0b0b0"/><circle cx="75.5" cy="290.6" r="0.45" fill="#b0b0b0"/><circle cx="116.1" cy="336.2" r="0.45" fill="#b0b0b0"/><circle cx="91.0" cy="320.3" r="0.45" fill="#b0b0b0"/><circle cx="146.3" cy="343.8" r="0.45" fill="#b0b0b0"/><circle cx="119.6" cy="308.1" r="0.45" fill="#b0b0b0"/><circle cx="151.2" cy="346.5" r="0.45" fill="#b0b0b0"/><circle cx="105.5" cy="281.8" r="0.45" fill="#b0b0b0"/><circle cx="91.2" cy="270.1" r="0.45" fill="#b0b0b0"/><circle cx="107.9" cy="356.6" r="0.45" fill="#b0b0b0"/><circle cx="95.7" cy="308.2" r="0.45" fill="#b0b0b0"/><circle cx="120.4" cy="362.1" r="0.45" fill="#b0b0b0"/><circle cx="119.8" cy="315.0" r="0.45" fill="#b0b0b0"/><circle cx="124.2" cy="333.9" r="0.45" fill="#b0b0b0"/><circle cx="125.9" cy="353.5" r="0.45" fill="#b0b0b0"/><circle cx="87.1" cy="334.8" r="0.45" fill="#b0b0b0"/><circle cx="120.5" cy="356.7" r="0.45" fill="#b0b0b0"/><circle cx="113.8" cy="349.9" r="0.45" fill="#b0b0b0"/><circle cx="122.4" cy="328.6" r="0.45" fill="#b0b0b0"/><circle cx="141.5" cy="356.8" r="0.45" fill="#b0b0b0"/><circle cx="124.0" cy="326.6" r="0.45" fill="#b0b0b0"/><circle cx="90.5" cy="292.8" r="0.45" fill="#b0b0b0"/><circle cx="104.7" cy="314.5" r="0.45" fill="#b0b0b0"/><circle cx="51.3" cy="267.4" r="0.45" fill="#b0b0b0"/><circle cx="96.0" cy="352.0" r="0.45" fill="#b0b0b0"/><circle cx="114.7" cy="343.7" r="0.45" fill="#b0b0b0"/><circle cx="96.0" cy="335.6" r="0.45" fill="#b0b0b0"/><circle cx="79.7" cy="294.2" r="0.45" fill="#b0b0b0"/><circle cx="116.5" cy="347.0" r="0.45" fill="#b0b0b0"/><circle cx="61.1" cy="305.8" r="0.45" fill="#b0b0b0"/><circle cx="93.8" cy="297.0" r="0.45" fill="#b0b0b0"/><circle cx="101.7" cy="305.9" r="0.45" fill="#b0b0b0"/><circle cx="95.8" cy="321.7" r="0.45" fill="#b0b0b0"/><circle cx="113.4" cy="347.8" r="0.45" fill="#b0b0b0"/><circle cx="114.2" cy="307.0" r="0.45" fill="#b0b0b0"/><circle cx="112.0" cy="306.8" r="0.45" fill="#b0b0b0"/><circle cx="100.9" cy="353.4" r="0.45" fill="#b0b0b0"/><circle cx="129.8" cy="330.9" r="0.45" fill="#b0b0b0"/><circle cx="76.8" cy="290.7" r="0.45" fill="#b0b0b0"/><polygon points="52.10,265.73 54.70,271.78 58.16,276.96 61.62,281.28 62.48,286.46 65.94,289.92 71.13,293.38 77.18,297.70 81.50,301.15 85.82,304.61 90.15,308.93 92.74,314.11 95.33,319.30 98.79,323.62 102.25,327.94 104.85,333.12 107.44,338.30 110.90,343.49 112.63,348.67 116.09,353.86 118.68,359.04 121.27,364.22 123.00,369.75 147.56,369.75 144.62,362.50 142.02,357.31 138.56,352.13 134.24,346.94 131.65,343.49 128.19,340.03 125.60,336.58 123.00,331.39 125.60,321.02 123.00,317.57 117.81,315.84 113.49,314.98 110.90,311.52 109.17,303.74 108.30,298.56 105.71,294.24 100.52,293.38 97.06,291.65 99.66,286.46 95.33,284.74 91.88,279.55 89.28,276.10 86.69,271.78 86.69,265.73" fill="#e6e6e6"/><polyline points="52.21,267.49 54.83,271.85 58.32,277.08 60.93,280.57 63.55,283.19 65.29,284.93 62.68,288.42 63.55,290.16 67.91,292.78 72.27,295.40 75.76,298.89 79.25,302.37 82.74,304.99 86.22,307.61 90.58,310.22 94.07,312.84 98.00,316.33" fill="none" stroke="#1a1a1a" stroke-width="1.3" stroke-linejoin="round"/><polyline points="53.95,267.49 56.57,271.85 60.06,276.21 62.68,279.70 66.16,283.19 66.16,285.80 65.29,287.55 69.65,291.91 74.01,294.53 77.50,297.14 80.99,300.63 84.48,303.25 88.84,305.86 92.33,307.61 95.82,311.10 98.00,312.84" fill="none" stroke="#1a1a1a" stroke-width="1.3" stroke-linejoin="round"/><polyline points="86.22,267.49 87.10,270.98 89.71,274.47 93.20,277.08 95.82,278.83 98.00,279.70" fill="none" stroke="#1a1a1a" stroke-width="1.3" stroke-linejoin="round"/><polyline points="70.53,267.49 76.63,269.23 80.99,272.72 83.61,276.21 87.10,279.70 90.58,281.44 93.20,284.06 89.71,287.55 90.58,290.16 92.33,291.91 93.20,297.14 95.82,301.50 98.00,303.25" fill="none" stroke="#1a1a1a" stroke-width="1.3" stroke-linejoin="round"/><polyline points="94.07,293.65 96.69,292.78 98.00,293.65" fill="none" stroke="#1a1a1a" stroke-width="1.3" stroke-linejoin="round"/><polygon points="61.80,277.95 67.04,274.47 70.53,275.34 74.89,277.95 78.37,280.57 80.12,284.06 83.61,287.55 87.10,291.04 88.84,294.53 87.97,297.14 83.61,297.14 80.12,294.53 76.63,291.04 72.27,287.55 67.91,283.19 63.55,280.57" fill="#ababab" stroke="#1a1a1a" stroke-width="1.3" stroke-linejoin="round"/><ellipse cx="63.55" cy="269.23" rx="2.62" ry="1.92" fill="#f4f4f4" stroke="#1a1a1a" stroke-width="1.2"/><ellipse cx="70.96" cy="269.23" rx="2.62" ry="1.92" fill="#f4f4f4" stroke="#1a1a1a" stroke-width="1.2"/><ellipse cx="77.94" cy="269.23" rx="2.62" ry="1.92" fill="#f4f4f4" stroke="#1a1a1a" stroke-width="1.2"/><ellipse cx="88.84" cy="284.50" rx="1.05" ry="0.87" fill="#333"/><polyline points="97.00,284.93 100.49,289.29 98.74,291.91 97.00,292.78" fill="none" stroke="#1a1a1a" stroke-width="1.3" stroke-linejoin="round"/><polyline points="97.00,294.53 105.72,292.78 108.34,295.40 107.47,300.63 109.21,305.86 108.34,311.10 111.83,314.58 117.06,313.71 121.42,315.46 123.16,317.99" fill="none" stroke="#1a1a1a" stroke-width="1.3" stroke-linejoin="round"/><polyline points="97.00,304.12 101.36,305.86 104.85,303.25 106.59,307.61 105.72,312.84 108.34,317.99" fill="none" stroke="#1a1a1a" stroke-width="1.3" stroke-linejoin="round"/><polygon points="97.87,310.66 100.49,309.09 103.11,310.66 100.49,312.23" fill="#bbb" stroke="#1a1a1a" stroke-width="1.2" stroke-linejoin="round"/><polyline points="94.07,317.00 94.95,322.23 98.00,327.47" fill="none" stroke="#1a1a1a" stroke-width="1.3" stroke-linejoin="round"/><polygon points="106.59,323.98 110.95,322.23 114.44,327.47 117.93,332.70 121.42,337.06 124.91,341.42 128.40,344.91 133.63,350.14 136.25,354.50 137.12,358.86 135.37,364.10 131.89,365.84 128.40,363.22 125.78,358.86 122.29,362.35 119.68,358.86 118.80,353.63 116.19,349.27 113.57,344.91 110.95,340.55 108.34,334.44 106.59,329.21" fill="#bdbdbd" stroke="#1a1a1a" stroke-width="1.3" stroke-linejoin="round"/><polyline points="97.00,322.23 99.62,325.72 102.23,331.83 103.98,337.93 106.59,343.16 110.08,347.53 113.57,352.76 116.19,357.12 117.93,360.61 119.68,364.10 120.55,367.58" fill="none" stroke="#1a1a1a" stroke-width="1.3" stroke-linejoin="round"/><polyline points="100.49,319.62 103.11,323.98 106.59,329.21 109.21,334.44 111.83,339.68 114.44,343.16 117.06,347.53 119.68,351.89 121.42,355.37 122.29,358.86 123.16,364.10" fill="none" stroke="#1a1a1a" stroke-width="1.3" stroke-linejoin="round"/><polyline points="112.70,317.00 116.19,322.23 119.68,325.72 123.16,330.08 125.78,334.44 128.40,337.93 131.89,341.42 134.50,344.04 137.99,347.53 140.61,351.89 143.22,356.25 145.84,359.74 147.58,362.35 146.71,365.84" fill="none" stroke="#1a1a1a" stroke-width="1.3" stroke-linejoin="round"/><polyline points="121.42,317.00 125.78,320.49 122.29,325.72 124.91,330.95 128.40,336.19 131.89,340.55 136.25,344.04 139.74,348.40 142.35,352.76 144.97,357.12 146.71,360.61 145.84,364.10" fill="none" stroke="#1a1a1a" stroke-width="1.3" stroke-linejoin="round"/><polyline points="97.00,317.00 98.74,319.62 100.49,322.23" fill="none" stroke="#1a1a1a" stroke-width="1.3" stroke-linejoin="round"/><ellipse cx="110.95" cy="330.08" rx="1.74" ry="2.62" fill="#777" stroke="#1a1a1a" stroke-width="1.1"/><ellipse cx="116.36" cy="338.37" rx="3.05" ry="4.36" fill="#666" stroke="#1a1a1a" stroke-width="1.1"/><polygon points="124.04,337.93 127.53,337.06 130.14,339.68 128.40,342.29 124.91,341.86" fill="#444" stroke="#1a1a1a" stroke-width="1.0" stroke-linejoin="round"/><polygon points="118.80,351.45 121.42,349.27 124.04,351.45 121.42,353.63" fill="#999" stroke="#1a1a1a" stroke-width="1.2" stroke-linejoin="round"/><polygon points="130.14,357.99 132.76,356.25 135.37,359.74 134.50,364.10 131.45,364.53" fill="#333" stroke="#1a1a1a" stroke-width="1.0" stroke-linejoin="round"/><ellipse cx="117.06" cy="319.79" rx="0.70" ry="0.70" fill="#222"/><ellipse cx="121.86" cy="320.49" rx="0.70" ry="0.70" fill="#222"/><polygon points="52.10,265.73 54.70,271.78 58.16,276.96 61.62,281.28 62.48,286.46 65.94,289.92 71.13,293.38 77.18,297.70 81.50,301.15 85.82,304.61 90.15,308.93 92.74,314.11 95.33,319.30 98.79,323.62 102.25,327.94 104.85,333.12 107.44,338.30 110.90,343.49 112.63,348.67 116.09,353.86 118.68,359.04 121.27,364.22 123.00,369.75 147.56,369.75 144.62,362.50 142.02,357.31 138.56,352.13 134.24,346.94 131.65,343.49 128.19,340.03 125.60,336.58 123.00,331.39 125.60,321.02 123.00,317.57 117.81,315.84 113.49,314.98 110.90,311.52 109.17,303.74 108.30,298.56 105.71,294.24 100.52,293.38 97.06,291.65 99.66,286.46 95.33,284.74 91.88,279.55 89.28,276.10 86.69,271.78 86.69,265.73" fill="none" stroke="#1a1a1a" stroke-width="1.2" stroke-linejoin="round"/>
</svg>
<path d="M48.60,368.60v-4.8M48.60,267.20v4.8M54.97,368.60v-2.8M54.97,267.20v2.8M61.35,368.60v-2.8M61.35,267.20v2.8M67.72,368.60v-2.8M67.72,267.20v2.8M74.10,368.60v-4.8M74.10,267.20v4.8M80.47,368.60v-2.8M80.47,267.20v2.8M86.85,368.60v-2.8M86.85,267.20v2.8M93.22,368.60v-2.8M93.22,267.20v2.8M99.60,368.60v-4.8M99.60,267.20v4.8M105.97,368.60v-2.8M105.97,267.20v2.8M112.35,368.60v-2.8M112.35,267.20v2.8M118.72,368.60v-2.8M118.72,267.20v2.8M125.10,368.60v-4.8M125.10,267.20v4.8M131.47,368.60v-2.8M131.47,267.20v2.8M137.85,368.60v-2.8M137.85,267.20v2.8M144.22,368.60v-2.8M144.22,267.20v2.8M150.60,368.60v-4.8M150.60,267.20v4.8M43.40,368.60h2.8M151.70,368.60h-2.8M43.40,363.40h4.8M151.70,363.40h-4.8M43.40,358.21h2.8M151.70,358.21h-2.8M43.40,353.01h2.8M151.70,353.01h-2.8M43.40,347.81h2.8M151.70,347.81h-2.8M43.40,342.62h4.8M151.70,342.62h-4.8M43.40,337.42h2.8M151.70,337.42h-2.8M43.40,332.22h2.8M151.70,332.22h-2.8M43.40,327.03h2.8M151.70,327.03h-2.8M43.40,321.83h4.8M151.70,321.83h-4.8M43.40,316.64h2.8M151.70,316.64h-2.8M43.40,311.44h2.8M151.70,311.44h-2.8M43.40,306.24h2.8M151.70,306.24h-2.8M43.40,301.05h4.8M151.70,301.05h-4.8M43.40,295.85h2.8M151.70,295.85h-2.8M43.40,290.65h2.8M151.70,290.65h-2.8M43.40,285.46h2.8M151.70,285.46h-2.8M43.40,280.26h4.8M151.70,280.26h-4.8M43.40,275.06h2.8M151.70,275.06h-2.8M43.40,269.87h2.8M151.70,269.87h-2.8" stroke="#222" stroke-width="0.9" fill="none"/>
<rect x="43.40" y="267.20" width="108.3" height="101.4" fill="none" stroke="#1a1a1a" stroke-width="1.1"/>
<svg x="171.50" y="267.20" width="108.3" height="101.4" viewBox="171.50 267.20 108.3 101.4" overflow="hidden">
<circle cx="214.3" cy="322.3" r="0.45" fill="#b8b8b8"/><circle cx="225.7" cy="328.4" r="0.45" fill="#b8b8b8"/><circle cx="247.6" cy="273.8" r="0.45" fill="#b8b8b8"/><circle cx="195.1" cy="352.1" r="0.45" fill="#b8b8b8"/><circle cx="216.2" cy="290.9" r="0.45" fill="#b8b8b8"/><circle cx="279.3" cy="314.8" r="0.45" fill="#b8b8b8"/><circle cx="265.7" cy="315.4" r="0.45" fill="#b8b8b8"/><circle cx="248.8" cy="282.4" r="0.45" fill="#b8b8b8"/><circle cx="248.4" cy="355.2" r="0.45" fill="#b8b8b8"/><circle cx="238.8" cy="342.3" r="0.45" fill="#b8b8b8"/><circle cx="251.5" cy="273.6" r="0.45" fill="#b8b8b8"/><circle cx="259.0" cy="327.1" r="0.45" fill="#b8b8b8"/><circle cx="219.8" cy="270.3" r="0.45" fill="#b8b8b8"/><circle cx="268.2" cy="315.1" r="0.45" fill="#b8b8b8"/><circle cx="255.6" cy="356.3" r="0.45" fill="#b8b8b8"/><circle cx="255.2" cy="360.5" r="0.45" fill="#b8b8b8"/><circle cx="227.8" cy="348.3" r="0.45" fill="#b8b8b8"/><circle cx="232.1" cy="362.0" r="0.45" fill="#b8b8b8"/><circle cx="269.3" cy="277.0" r="0.45" fill="#b8b8b8"/><circle cx="205.6" cy="289.1" r="0.45" fill="#b8b8b8"/><circle cx="276.7" cy="311.4" r="0.45" fill="#b8b8b8"/><circle cx="247.7" cy="297.6" r="0.45" fill="#b8b8b8"/><circle cx="237.4" cy="306.3" r="0.45" fill="#b8b8b8"/><circle cx="224.0" cy="326.5" r="0.45" fill="#b8b8b8"/><circle cx="244.0" cy="358.8" r="0.45" fill="#b8b8b8"/><circle cx="252.4" cy="361.3" r="0.45" fill="#b8b8b8"/><circle cx="267.4" cy="367.6" r="0.45" fill="#b8b8b8"/><circle cx="251.5" cy="283.7" r="0.45" fill="#b8b8b8"/><circle cx="267.8" cy="365.0" r="0.45" fill="#b8b8b8"/><circle cx="271.5" cy="324.8" r="0.45" fill="#b8b8b8"/><circle cx="255.2" cy="288.5" r="0.45" fill="#b8b8b8"/><circle cx="265.3" cy="325.3" r="0.45" fill="#b8b8b8"/><circle cx="218.4" cy="273.5" r="0.45" fill="#b8b8b8"/><circle cx="267.2" cy="367.5" r="0.45" fill="#b8b8b8"/><circle cx="201.5" cy="348.3" r="0.45" fill="#b8b8b8"/><circle cx="229.1" cy="282.4" r="0.45" fill="#b8b8b8"/><circle cx="219.1" cy="345.1" r="0.45" fill="#b8b8b8"/><circle cx="268.8" cy="271.6" r="0.45" fill="#b8b8b8"/><circle cx="246.6" cy="271.7" r="0.45" fill="#b8b8b8"/><circle cx="255.6" cy="300.7" r="0.45" fill="#b8b8b8"/><circle cx="269.5" cy="366.6" r="0.45" fill="#b8b8b8"/><circle cx="237.3" cy="368.4" r="0.45" fill="#b8b8b8"/><circle cx="220.5" cy="274.9" r="0.45" fill="#b8b8b8"/><circle cx="245.4" cy="270.3" r="0.45" fill="#b8b8b8"/><circle cx="210.9" cy="308.5" r="0.45" fill="#b8b8b8"/><circle cx="246.3" cy="283.0" r="0.45" fill="#b8b8b8"/><circle cx="197.6" cy="355.1" r="0.45" fill="#b8b8b8"/><circle cx="220.9" cy="364.4" r="0.45" fill="#b8b8b8"/><circle cx="270.8" cy="305.4" r="0.45" fill="#b8b8b8"/><circle cx="233.4" cy="319.9" r="0.45" fill="#b8b8b8"/><circle cx="249.2" cy="327.5" r="0.45" fill="#b8b8b8"/><circle cx="241.9" cy="330.0" r="0.45" fill="#b8b8b8"/><circle cx="274.6" cy="318.5" r="0.45" fill="#b8b8b8"/><circle cx="230.9" cy="340.2" r="0.45" fill="#b8b8b8"/><circle cx="214.3" cy="297.7" r="0.45" fill="#b8b8b8"/><circle cx="277.8" cy="320.0" r="0.45" fill="#b8b8b8"/><circle cx="241.0" cy="268.3" r="0.45" fill="#b8b8b8"/><circle cx="229.6" cy="325.9" r="0.45" fill="#b8b8b8"/><circle cx="195.7" cy="329.6" r="0.45" fill="#b8b8b8"/><circle cx="248.2" cy="273.2" r="0.45" fill="#b8b8b8"/><circle cx="247.7" cy="314.4" r="0.45" fill="#b8b8b8"/><circle cx="252.2" cy="302.9" r="0.45" fill="#b8b8b8"/><circle cx="254.6" cy="342.0" r="0.45" fill="#b8b8b8"/><circle cx="195.8" cy="273.3" r="0.45" fill="#b8b8b8"/><circle cx="251.9" cy="364.8" r="0.45" fill="#b8b8b8"/><circle cx="215.5" cy="313.4" r="0.45" fill="#b8b8b8"/><circle cx="244.8" cy="299.6" r="0.45" fill="#b8b8b8"/><circle cx="225.2" cy="298.8" r="0.45" fill="#b8b8b8"/><circle cx="225.6" cy="327.5" r="0.45" fill="#b8b8b8"/><circle cx="219.7" cy="305.4" r="0.45" fill="#b8b8b8"/><circle cx="260.2" cy="269.8" r="0.45" fill="#b8b8b8"/><circle cx="242.8" cy="341.7" r="0.45" fill="#b8b8b8"/><circle cx="220.5" cy="289.7" r="0.45" fill="#b8b8b8"/><circle cx="262.9" cy="291.3" r="0.45" fill="#b8b8b8"/><circle cx="210.0" cy="311.3" r="0.45" fill="#b8b8b8"/><circle cx="253.8" cy="277.4" r="0.45" fill="#b8b8b8"/><circle cx="221.6" cy="301.0" r="0.45" fill="#b8b8b8"/><circle cx="265.4" cy="311.6" r="0.45" fill="#b8b8b8"/><circle cx="267.3" cy="284.3" r="0.45" fill="#b8b8b8"/><circle cx="222.8" cy="333.1" r="0.45" fill="#b8b8b8"/><circle cx="269.8" cy="312.9" r="0.45" fill="#b8b8b8"/><circle cx="213.2" cy="279.4" r="0.45" fill="#b8b8b8"/><circle cx="239.4" cy="286.5" r="0.45" fill="#b8b8b8"/><circle cx="263.1" cy="352.2" r="0.45" fill="#b8b8b8"/><circle cx="209.7" cy="295.4" r="0.45" fill="#b8b8b8"/><circle cx="263.2" cy="332.2" r="0.45" fill="#b8b8b8"/><circle cx="263.1" cy="302.1" r="0.45" fill="#b8b8b8"/><circle cx="205.1" cy="296.7" r="0.45" fill="#b8b8b8"/><circle cx="262.0" cy="294.6" r="0.45" fill="#b8b8b8"/><circle cx="223.6" cy="309.4" r="0.45" fill="#b8b8b8"/><circle cx="229.9" cy="308.6" r="0.45" fill="#b8b8b8"/><circle cx="272.9" cy="282.9" r="0.45" fill="#b8b8b8"/><circle cx="194.3" cy="362.8" r="0.45" fill="#b8b8b8"/><circle cx="269.4" cy="367.2" r="0.45" fill="#b8b8b8"/><circle cx="231.2" cy="363.5" r="0.45" fill="#b8b8b8"/><circle cx="273.5" cy="289.6" r="0.45" fill="#b8b8b8"/><circle cx="257.9" cy="352.0" r="0.45" fill="#b8b8b8"/><circle cx="250.8" cy="319.8" r="0.45" fill="#b8b8b8"/><circle cx="218.7" cy="301.7" r="0.45" fill="#b8b8b8"/><circle cx="213.4" cy="274.0" r="0.45" fill="#b8b8b8"/><circle cx="244.4" cy="296.2" r="0.45" fill="#b8b8b8"/><circle cx="263.4" cy="271.7" r="0.45" fill="#b8b8b8"/><circle cx="271.4" cy="337.5" r="0.45" fill="#b8b8b8"/><circle cx="273.2" cy="358.1" r="0.45" fill="#b8b8b8"/><circle cx="271.1" cy="325.6" r="0.45" fill="#b8b8b8"/><circle cx="195.1" cy="342.7" r="0.45" fill="#b8b8b8"/><circle cx="208.7" cy="297.5" r="0.45" fill="#b8b8b8"/><circle cx="250.8" cy="320.4" r="0.45" fill="#b8b8b8"/><circle cx="229.4" cy="362.4" r="0.45" fill="#b8b8b8"/><circle cx="246.4" cy="301.7" r="0.45" fill="#b8b8b8"/><circle cx="215.6" cy="354.5" r="0.45" fill="#b8b8b8"/><circle cx="234.9" cy="346.5" r="0.45" fill="#b8b8b8"/><circle cx="224.1" cy="287.1" r="0.45" fill="#b8b8b8"/><circle cx="239.8" cy="350.0" r="0.45" fill="#b8b8b8"/><circle cx="208.6" cy="347.4" r="0.45" fill="#b8b8b8"/><circle cx="273.0" cy="348.9" r="0.45" fill="#b8b8b8"/><circle cx="264.6" cy="267.9" r="0.45" fill="#b8b8b8"/><circle cx="247.9" cy="354.6" r="0.45" fill="#b8b8b8"/><circle cx="198.2" cy="294.6" r="0.45" fill="#b8b8b8"/><circle cx="217.0" cy="320.6" r="0.45" fill="#b8b8b8"/><circle cx="230.2" cy="315.1" r="0.45" fill="#b8b8b8"/><circle cx="260.5" cy="267.3" r="0.45" fill="#b8b8b8"/><circle cx="198.6" cy="280.0" r="0.45" fill="#b8b8b8"/><circle cx="204.6" cy="274.1" r="0.45" fill="#b8b8b8"/><circle cx="277.5" cy="353.8" r="0.45" fill="#b8b8b8"/><circle cx="201.3" cy="318.0" r="0.45" fill="#b8b8b8"/><circle cx="221.0" cy="299.0" r="0.45" fill="#b8b8b8"/><circle cx="224.1" cy="332.7" r="0.45" fill="#b8b8b8"/><circle cx="244.3" cy="303.7" r="0.45" fill="#b8b8b8"/><circle cx="210.3" cy="300.5" r="0.45" fill="#b8b8b8"/><circle cx="204.6" cy="323.5" r="0.45" fill="#b8b8b8"/><circle cx="255.4" cy="305.7" r="0.45" fill="#b8b8b8"/><circle cx="200.8" cy="285.2" r="0.45" fill="#b8b8b8"/><circle cx="226.0" cy="328.4" r="0.45" fill="#b8b8b8"/><circle cx="261.1" cy="305.7" r="0.45" fill="#b8b8b8"/><circle cx="262.7" cy="330.3" r="0.45" fill="#b8b8b8"/><circle cx="231.0" cy="304.9" r="0.45" fill="#b8b8b8"/><circle cx="236.5" cy="338.4" r="0.45" fill="#b8b8b8"/><circle cx="230.0" cy="337.5" r="0.45" fill="#b8b8b8"/><circle cx="233.5" cy="292.0" r="0.45" fill="#b8b8b8"/><circle cx="239.9" cy="337.6" r="0.45" fill="#b8b8b8"/><circle cx="200.1" cy="310.2" r="0.45" fill="#b8b8b8"/><circle cx="230.5" cy="356.3" r="0.45" fill="#b8b8b8"/><circle cx="274.3" cy="305.1" r="0.45" fill="#b8b8b8"/><circle cx="270.9" cy="347.3" r="0.45" fill="#b8b8b8"/><circle cx="216.4" cy="314.2" r="0.45" fill="#b8b8b8"/><circle cx="204.5" cy="349.6" r="0.45" fill="#b8b8b8"/><circle cx="250.7" cy="357.1" r="0.45" fill="#b8b8b8"/><circle cx="261.9" cy="334.8" r="0.45" fill="#b8b8b8"/><circle cx="256.9" cy="324.3" r="0.45" fill="#b8b8b8"/><circle cx="202.8" cy="326.7" r="0.45" fill="#b8b8b8"/><circle cx="194.4" cy="281.7" r="0.45" fill="#b8b8b8"/><circle cx="260.3" cy="271.6" r="0.45" fill="#b8b8b8"/><circle cx="201.8" cy="277.2" r="0.45" fill="#b8b8b8"/><circle cx="269.5" cy="285.3" r="0.45" fill="#b8b8b8"/><circle cx="196.0" cy="352.5" r="0.45" fill="#b8b8b8"/><circle cx="204.3" cy="352.7" r="0.45" fill="#b8b8b8"/><circle cx="251.7" cy="351.9" r="0.45" fill="#b8b8b8"/><circle cx="275.6" cy="325.8" r="0.45" fill="#b8b8b8"/><circle cx="262.4" cy="270.8" r="0.45" fill="#b8b8b8"/><circle cx="259.8" cy="319.0" r="0.45" fill="#b8b8b8"/><circle cx="255.3" cy="277.9" r="0.45" fill="#b8b8b8"/><circle cx="258.2" cy="361.9" r="0.45" fill="#b8b8b8"/><circle cx="199.2" cy="300.0" r="0.45" fill="#b8b8b8"/><circle cx="242.3" cy="351.1" r="0.45" fill="#b8b8b8"/><circle cx="214.7" cy="285.3" r="0.45" fill="#b8b8b8"/><circle cx="215.4" cy="329.6" r="0.45" fill="#b8b8b8"/><circle cx="258.6" cy="307.0" r="0.45" fill="#b8b8b8"/><circle cx="225.5" cy="307.3" r="0.45" fill="#b8b8b8"/><circle cx="224.0" cy="309.5" r="0.45" fill="#b8b8b8"/><circle cx="201.1" cy="317.9" r="0.45" fill="#b8b8b8"/><circle cx="277.4" cy="309.0" r="0.45" fill="#b8b8b8"/><circle cx="258.0" cy="283.4" r="0.45" fill="#b8b8b8"/><circle cx="253.2" cy="343.8" r="0.45" fill="#b8b8b8"/><circle cx="251.7" cy="319.6" r="0.45" fill="#b8b8b8"/><circle cx="235.4" cy="332.3" r="0.45" fill="#b8b8b8"/><circle cx="270.9" cy="282.3" r="0.45" fill="#b8b8b8"/><circle cx="202.2" cy="343.0" r="0.45" fill="#b8b8b8"/><circle cx="272.6" cy="319.6" r="0.45" fill="#b8b8b8"/><circle cx="231.9" cy="340.0" r="0.45" fill="#b8b8b8"/><circle cx="209.9" cy="294.2" r="0.45" fill="#b8b8b8"/><circle cx="211.0" cy="326.5" r="0.45" fill="#b8b8b8"/><circle cx="220.9" cy="290.7" r="0.45" fill="#b8b8b8"/><circle cx="253.2" cy="363.8" r="0.45" fill="#b8b8b8"/><circle cx="219.3" cy="338.7" r="0.45" fill="#b8b8b8"/><circle cx="229.4" cy="353.7" r="0.45" fill="#b8b8b8"/><circle cx="244.1" cy="294.2" r="0.45" fill="#b8b8b8"/><circle cx="212.6" cy="269.5" r="0.45" fill="#b8b8b8"/><circle cx="235.1" cy="305.9" r="0.45" fill="#b8b8b8"/><circle cx="208.7" cy="303.7" r="0.45" fill="#b8b8b8"/><circle cx="221.6" cy="345.6" r="0.45" fill="#b8b8b8"/><circle cx="206.3" cy="367.7" r="0.45" fill="#b8b8b8"/><circle cx="235.1" cy="327.9" r="0.45" fill="#b8b8b8"/><circle cx="234.1" cy="351.8" r="0.45" fill="#b8b8b8"/><circle cx="264.4" cy="323.6" r="0.45" fill="#b8b8b8"/><circle cx="235.2" cy="340.2" r="0.45" fill="#b8b8b8"/><circle cx="267.4" cy="307.7" r="0.45" fill="#b8b8b8"/><circle cx="256.9" cy="364.5" r="0.45" fill="#b8b8b8"/><circle cx="234.0" cy="290.4" r="0.45" fill="#b8b8b8"/><circle cx="214.1" cy="339.9" r="0.45" fill="#b8b8b8"/><circle cx="251.9" cy="364.4" r="0.45" fill="#b8b8b8"/><circle cx="267.2" cy="291.7" r="0.45" fill="#b8b8b8"/><circle cx="210.2" cy="293.3" r="0.45" fill="#b8b8b8"/><circle cx="210.0" cy="338.6" r="0.45" fill="#b8b8b8"/><circle cx="267.6" cy="358.4" r="0.45" fill="#b8b8b8"/><circle cx="215.8" cy="354.9" r="0.45" fill="#b8b8b8"/><circle cx="220.8" cy="310.0" r="0.45" fill="#b8b8b8"/><circle cx="256.5" cy="275.8" r="0.45" fill="#b8b8b8"/><circle cx="201.9" cy="351.7" r="0.45" fill="#b8b8b8"/><circle cx="219.0" cy="303.3" r="0.45" fill="#b8b8b8"/><circle cx="243.7" cy="335.6" r="0.45" fill="#b8b8b8"/><circle cx="194.5" cy="301.1" r="0.45" fill="#b8b8b8"/><circle cx="231.4" cy="316.4" r="0.45" fill="#b8b8b8"/><circle cx="212.0" cy="326.5" r="0.45" fill="#b8b8b8"/><circle cx="275.9" cy="306.8" r="0.45" fill="#b8b8b8"/><circle cx="240.6" cy="279.2" r="0.45" fill="#b8b8b8"/><circle cx="217.5" cy="334.6" r="0.45" fill="#b8b8b8"/><circle cx="203.6" cy="357.1" r="0.45" fill="#b8b8b8"/><circle cx="271.9" cy="276.9" r="0.45" fill="#b8b8b8"/><circle cx="274.7" cy="305.1" r="0.45" fill="#b8b8b8"/><circle cx="260.2" cy="343.9" r="0.45" fill="#b8b8b8"/><circle cx="219.3" cy="335.7" r="0.45" fill="#b8b8b8"/><circle cx="250.0" cy="348.9" r="0.45" fill="#b8b8b8"/><circle cx="216.7" cy="343.6" r="0.45" fill="#b8b8b8"/><circle cx="276.4" cy="335.4" r="0.45" fill="#b8b8b8"/><circle cx="239.9" cy="278.6" r="0.45" fill="#b8b8b8"/><circle cx="236.3" cy="302.8" r="0.45" fill="#b8b8b8"/><circle cx="255.5" cy="335.9" r="0.45" fill="#b8b8b8"/><circle cx="242.5" cy="285.6" r="0.45" fill="#b8b8b8"/><circle cx="249.3" cy="331.1" r="0.45" fill="#b8b8b8"/><circle cx="209.3" cy="357.4" r="0.45" fill="#b8b8b8"/><circle cx="250.1" cy="279.6" r="0.45" fill="#b8b8b8"/><circle cx="273.9" cy="281.5" r="0.45" fill="#b8b8b8"/><circle cx="222.4" cy="340.2" r="0.45" fill="#b8b8b8"/><circle cx="245.2" cy="323.4" r="0.45" fill="#b8b8b8"/><circle cx="249.5" cy="313.5" r="0.45" fill="#b8b8b8"/><circle cx="220.7" cy="285.0" r="0.45" fill="#b8b8b8"/><circle cx="199.8" cy="339.7" r="0.45" fill="#b8b8b8"/><circle cx="258.6" cy="322.2" r="0.45" fill="#b8b8b8"/><circle cx="257.4" cy="303.5" r="0.45" fill="#b8b8b8"/><polygon points="198.26,265.73 199.99,270.05 202.58,273.50 204.31,276.96 206.91,279.55 209.50,283.01 207.77,286.46 208.12,291.65 209.50,297.70 208.64,303.74 208.12,308.06 206.04,309.79 203.45,306.34 201.72,301.15 199.99,299.42 199.64,302.02 201.72,305.47 204.31,310.66 206.91,314.98 210.37,319.30 211.23,321.02 206.04,323.62 197.40,327.07 194.80,331.39 202.58,329.66 209.50,328.28 213.31,330.53 216.76,333.12 219.88,336.23 225.06,339.69 227.66,342.11 225.06,345.22 227.14,350.40 226.10,357.31 224.37,362.50 226.10,369.75 169.73,369.75 169.73,265.73" fill="#ebebeb" stroke="#1a1a1a" stroke-width="1.15" stroke-linejoin="round"/><polygon points="192.21,265.73 193.94,270.91 196.53,274.37 198.26,277.82 195.67,281.28 194.80,286.46 196.53,291.65 196.53,295.97 193.07,298.56 188.75,302.02 186.16,305.47 185.29,309.79 186.16,314.11 189.62,317.57 193.07,319.30 196.53,320.16 198.26,321.37 194.80,323.62 190.48,325.34 185.29,327.94 183.22,331.05 180.10,334.85 175.78,338.65 169.73,340.03 169.73,265.73" fill="#c8c8c8" stroke="#1a1a1a" stroke-width="1.1" stroke-linejoin="round"/><polygon points="169.73,265.73 185.29,265.73 187.89,271.78 190.13,277.82 188.75,284.74 186.16,291.65 183.56,298.56 181.49,305.47 180.10,312.38 177.51,315.84 169.73,317.57" fill="#a2a2a2"/><polygon points="176.65,271.78 181.83,270.91 187.02,274.37 190.48,279.90 184.43,279.90 179.76,278.17" fill="#777" stroke="#1a1a1a" stroke-width="1.0" stroke-linejoin="round"/><polygon points="177.51,272.99 180.97,272.29 181.83,275.75 178.72,276.44" fill="#111"/><polygon points="182.53,284.74 185.29,282.66 188.06,284.74 185.29,286.81" fill="#f4f4f4" stroke="#1a1a1a" stroke-width="0.9" stroke-linejoin="round"/><polygon points="177.86,290.78 179.59,287.33 181.31,290.78 179.59,294.24" fill="#999" stroke="#1a1a1a" stroke-width="0.9" stroke-linejoin="round"/><ellipse cx="174.57" cy="320.16" rx="3.80" ry="2.42" fill="#555" stroke="#1a1a1a" stroke-width="0.9"/><ellipse cx="174.23" cy="320.16" rx="1.73" ry="1.04" fill="#111"/><polygon points="173.19,340.90 180.10,337.96 185.29,337.09 190.83,345.22 185.29,347.29 178.38,346.25 174.05,343.83" fill="#b0b0b0" stroke="#1a1a1a" stroke-width="1.0" stroke-linejoin="round"/><polygon points="178.38,340.03 182.70,338.65 185.29,342.62 181.83,343.49" fill="#777"/><polygon points="185.29,330.53 189.62,328.28 193.94,330.53 196.53,333.12 193.94,335.19 188.75,333.12" fill="#d0d0d0" stroke="#1a1a1a" stroke-width="1.0" stroke-linejoin="round"/><ellipse cx="175.78" cy="365.95" rx="3.46" ry="2.07" fill="#f6f6f6" stroke="#1a1a1a" stroke-width="0.9"/><polygon points="186.68,309.79 190.13,306.34 193.94,309.27 193.94,314.11 190.13,316.70 186.68,314.11" fill="#dcdcdc" stroke="#1a1a1a" stroke-width="1.0" stroke-linejoin="round"/><ellipse cx="190.48" cy="310.66" rx="0.86" ry="0.86" fill="#333"/><polygon points="199.64,299.42 201.72,298.56 202.58,301.15 201.20,302.88" fill="#f2f2f2" stroke="#1a1a1a" stroke-width="1.0" stroke-linejoin="round"/><polygon points="203.45,338.30 205.18,332.26 208.64,329.32 210.37,332.26 209.50,338.30 206.04,340.90" fill="#d0d0d0" stroke="#1a1a1a" stroke-width="1.0" stroke-linejoin="round"/><polygon points="221.26,340.90 223.68,338.82 226.10,340.90 223.68,342.97" fill="#555" stroke="#1a1a1a" stroke-width="0.9" stroke-linejoin="round"/><polygon points="221.61,350.40 223.33,348.67 225.06,350.40 223.33,352.13" fill="#bbb" stroke="#1a1a1a" stroke-width="0.9" stroke-linejoin="round"/><polygon points="214.86,355.58 217.28,353.86 219.70,355.58 217.28,357.31" fill="#ddd" stroke="#1a1a1a" stroke-width="0.9" stroke-linejoin="round"/><polygon points="221.26,361.63 222.99,359.21 224.72,361.63 222.99,364.05" fill="#ccc" stroke="#1a1a1a" stroke-width="0.9" stroke-linejoin="round"/><polygon points="231.29,351.26 233.71,348.85 236.13,351.26 233.71,353.68" fill="#f2f2f2" stroke="#1a1a1a" stroke-width="0.9" stroke-linejoin="round"/><polygon points="240.63,352.13 244.95,350.40 249.27,352.47 253.60,348.67 257.05,349.54 254.46,354.72 256.19,359.90 252.73,364.57 247.54,365.26 242.36,363.36 239.76,358.18" fill="#efefef" stroke="#1a1a1a" stroke-width="1.15" stroke-linejoin="round"/><polyline points="195.04,267.49 196.78,270.98 198.53,275.34 201.14,278.83 204.63,281.44 208.12,284.06" fill="none" stroke="#1a1a1a" stroke-width="1.2" stroke-linejoin="round"/><polyline points="183.70,312.84 185.44,305.86 188.93,302.37 194.16,298.89 195.91,295.40 200.27,290.16 202.89,288.42 206.37,286.68" fill="none" stroke="#1a1a1a" stroke-width="1.2" stroke-linejoin="round"/><polyline points="189.80,267.49 190.85,272.72 194.16,277.08 196.78,281.44 194.16,284.93 197.65,288.42 194.16,292.78 189.80,297.14 185.44,300.63 181.95,304.12 181.08,307.61 178.47,311.10 171.49,311.97" fill="none" stroke="#1a1a1a" stroke-width="1.2" stroke-linejoin="round"/><polygon points="171.49,340.55 176.72,338.80 183.70,336.19 188.06,339.68 190.68,345.78 188.06,346.65 181.08,344.91 176.72,342.29" fill="#b4b4b4" stroke="#1a1a1a" stroke-width="1.2" stroke-linejoin="round"/><polygon points="202.89,338.80 203.76,333.57 206.37,329.65 208.99,330.95 209.43,337.06 207.25,340.55" fill="#d0d0d0" stroke="#1a1a1a" stroke-width="1.2" stroke-linejoin="round"/><polyline points="183.70,317.00 185.44,319.62 189.80,321.36 194.16,323.11 197.65,326.59 196.78,330.08 195.04,332.70 193.29,334.44 190.68,330.95 188.06,328.34 184.57,329.21 183.70,330.95 186.32,332.70 188.93,334.44 190.68,337.06 192.42,340.55 194.16,343.16" fill="none" stroke="#1a1a1a" stroke-width="1.2" stroke-linejoin="round"/><polyline points="171.49,356.25 176.72,353.63 181.95,351.01 185.44,349.27 188.93,348.40 190.68,351.89 191.55,355.37 194.16,358.86 195.91,360.61 196.78,356.25 195.91,351.89 194.16,346.65 195.04,341.42 196.78,338.80 199.40,341.42 202.89,344.91 205.50,346.65 208.12,343.16" fill="none" stroke="#1a1a1a" stroke-width="1.2" stroke-linejoin="round"/><polyline points="201.14,317.00 204.63,320.49 209.86,319.62 211.61,321.36 208.12,323.98 204.63,324.85 201.14,325.72 202.01,327.47 206.37,327.47 210.74,328.34 212.48,332.70 210.74,336.19 213.35,334.44 216.84,333.57 220.33,337.06 223.82,339.68 226.00,340.55" fill="none" stroke="#1a1a1a" stroke-width="1.2" stroke-linejoin="round"/><polyline points="202.89,351.89 206.37,354.50 209.86,351.89 213.35,349.27 216.84,346.65 217.71,343.16 215.10,339.68 211.61,337.93" fill="none" stroke="#1a1a1a" stroke-width="1.2" stroke-linejoin="round"/><polyline points="196.78,367.58 199.40,364.97 202.89,364.10 205.50,365.84 206.37,367.58" fill="none" stroke="#1a1a1a" stroke-width="1.2" stroke-linejoin="round"/><polyline points="208.99,365.84 211.61,362.35 215.10,361.48 217.71,358.86 220.33,357.12" fill="none" stroke="#1a1a1a" stroke-width="1.2" stroke-linejoin="round"/><polyline points="171.49,364.10 174.98,363.22 178.47,365.84 179.34,368.46" fill="none" stroke="#1a1a1a" stroke-width="1.2" stroke-linejoin="round"/><polygon points="214.22,355.81 216.84,353.89 219.46,355.81 216.84,357.73" fill="#eee" stroke="#1a1a1a" stroke-width="1.1" stroke-linejoin="round"/><polygon points="221.20,350.14 222.95,348.40 224.69,350.14 222.95,351.89" fill="#eee" stroke="#1a1a1a" stroke-width="1.1" stroke-linejoin="round"/><polygon points="220.50,361.48 222.07,359.04 223.64,361.48 222.07,363.92" fill="#eee" stroke="#1a1a1a" stroke-width="1.1" stroke-linejoin="round"/><ellipse cx="189.80" cy="330.52" rx="0.78" ry="0.78" fill="#333"/>
</svg>
<path d="M173.34,368.60v-2.8M173.34,267.20v2.8M178.85,368.60v-4.8M178.85,267.20v4.8M184.37,368.60v-2.8M184.37,267.20v2.8M189.88,368.60v-2.8M189.88,267.20v2.8M195.40,368.60v-2.8M195.40,267.20v2.8M200.91,368.60v-4.8M200.91,267.20v4.8M206.42,368.60v-2.8M206.42,267.20v2.8M211.94,368.60v-2.8M211.94,267.20v2.8M217.45,368.60v-2.8M217.45,267.20v2.8M222.97,368.60v-4.8M222.97,267.20v4.8M228.48,368.60v-2.8M228.48,267.20v2.8M233.99,368.60v-2.8M233.99,267.20v2.8M239.51,368.60v-2.8M239.51,267.20v2.8M245.02,368.60v-4.8M245.02,267.20v4.8M250.54,368.60v-2.8M250.54,267.20v2.8M256.05,368.60v-2.8M256.05,267.20v2.8M261.57,368.60v-2.8M261.57,267.20v2.8M267.08,368.60v-4.8M267.08,267.20v4.8M272.59,368.60v-2.8M272.59,267.20v2.8M278.11,368.60v-2.8M278.11,267.20v2.8M171.50,368.60h2.8M279.80,368.60h-2.8M171.50,363.40h4.8M279.80,363.40h-4.8M171.50,358.21h2.8M279.80,358.21h-2.8M171.50,353.01h2.8M279.80,353.01h-2.8M171.50,347.81h2.8M279.80,347.81h-2.8M171.50,342.62h4.8M279.80,342.62h-4.8M171.50,337.42h2.8M279.80,337.42h-2.8M171.50,332.22h2.8M279.80,332.22h-2.8M171.50,327.03h2.8M279.80,327.03h-2.8M171.50,321.83h4.8M279.80,321.83h-4.8M171.50,316.64h2.8M279.80,316.64h-2.8M171.50,311.44h2.8M279.80,311.44h-2.8M171.50,306.24h2.8M279.80,306.24h-2.8M171.50,301.05h4.8M279.80,301.05h-4.8M171.50,295.85h2.8M279.80,295.85h-2.8M171.50,290.65h2.8M279.80,290.65h-2.8M171.50,285.46h2.8M279.80,285.46h-2.8M171.50,280.26h4.8M279.80,280.26h-4.8M171.50,275.06h2.8M279.80,275.06h-2.8M171.50,269.87h2.8M279.80,269.87h-2.8" stroke="#222" stroke-width="0.9" fill="none"/>
<rect x="171.50" y="267.20" width="108.3" height="101.4" fill="none" stroke="#1a1a1a" stroke-width="1.1"/>
<path d="M299.60,368.60L299.60,313.61L305.01,313.61L305.01,288.34L310.43,288.34L310.43,287.44L315.84,287.44L315.84,284.73L321.26,284.73L321.26,299.71L326.68,299.71L326.67,284.01L332.09,284.01L332.09,302.96L337.50,302.96L337.50,309.10L342.92,309.10L342.92,310.18L348.33,310.18L348.33,299.35L353.75,299.35L353.75,322.27L359.16,322.27L359.16,306.57L364.58,306.57L364.58,305.67L370.00,305.67L369.99,307.29L375.41,307.29L375.41,288.34L380.82,288.34L380.82,281.66L386.24,281.66L386.24,286.17L391.65,286.17L391.65,276.43L397.07,276.43L397.07,293.39L402.48,293.39L402.48,314.15L407.90,314.15L407.90,368.60" stroke="#333" stroke-width="1.15" fill="none" stroke-linejoin="miter"/>
<path d="M299.60,368.60v-2.8M299.60,267.20v2.8M305.15,368.60v-4.8M305.15,267.20v4.8M310.70,368.60v-2.8M310.70,267.20v2.8M316.25,368.60v-2.8M316.25,267.20v2.8M321.80,368.60v-2.8M321.80,267.20v2.8M327.35,368.60v-4.8M327.35,267.20v4.8M332.90,368.60v-2.8M332.90,267.20v2.8M338.45,368.60v-2.8M338.45,267.20v2.8M344.00,368.60v-2.8M344.00,267.20v2.8M349.55,368.60v-4.8M349.55,267.20v4.8M355.10,368.60v-2.8M355.10,267.20v2.8M360.65,368.60v-2.8M360.65,267.20v2.8M366.20,368.60v-2.8M366.20,267.20v2.8M371.75,368.60v-4.8M371.75,267.20v4.8M377.30,368.60v-2.8M377.30,267.20v2.8M382.85,368.60v-2.8M382.85,267.20v2.8M388.40,368.60v-2.8M388.40,267.20v2.8M393.95,368.60v-4.8M393.95,267.20v4.8M399.50,368.60v-2.8M399.50,267.20v2.8M405.05,368.60v-2.8M405.05,267.20v2.8" stroke="#222" stroke-width="0.9" fill="none"/>
<rect x="299.60" y="267.20" width="108.3" height="101.4" fill="none" stroke="#1a1a1a" stroke-width="1.1"/>
<svg x="43.40" y="393.30" width="108.3" height="101.4" viewBox="43.40 393.30 108.3 101.4" overflow="hidden">
<circle cx="69.0" cy="403.6" r="0.45" fill="#b0b0b0"/><circle cx="86.3" cy="408.8" r="0.45" fill="#b0b0b0"/><circle cx="50.7" cy="433.8" r="0.45" fill="#b0b0b0"/><circle cx="142.8" cy="474.3" r="0.45" fill="#b0b0b0"/><circle cx="126.3" cy="415.6" r="0.45" fill="#b0b0b0"/><circle cx="101.6" cy="421.2" r="0.45" fill="#b0b0b0"/><circle cx="62.1" cy="403.9" r="0.45" fill="#b0b0b0"/><circle cx="66.7" cy="487.2" r="0.45" fill="#b0b0b0"/><circle cx="133.2" cy="474.9" r="0.45" fill="#b0b0b0"/><circle cx="130.1" cy="412.7" r="0.45" fill="#b0b0b0"/><circle cx="77.0" cy="456.7" r="0.45" fill="#b0b0b0"/><circle cx="122.7" cy="479.8" r="0.45" fill="#b0b0b0"/><circle cx="138.7" cy="401.9" r="0.45" fill="#b0b0b0"/><circle cx="109.0" cy="461.2" r="0.45" fill="#b0b0b0"/><circle cx="98.2" cy="411.1" r="0.45" fill="#b0b0b0"/><circle cx="94.7" cy="402.2" r="0.45" fill="#b0b0b0"/><circle cx="144.6" cy="480.9" r="0.45" fill="#b0b0b0"/><circle cx="102.7" cy="423.6" r="0.45" fill="#b0b0b0"/><circle cx="141.8" cy="451.2" r="0.45" fill="#b0b0b0"/><circle cx="139.0" cy="479.1" r="0.45" fill="#b0b0b0"/><circle cx="98.5" cy="435.1" r="0.45" fill="#b0b0b0"/><circle cx="108.3" cy="436.8" r="0.45" fill="#b0b0b0"/><circle cx="60.9" cy="424.1" r="0.45" fill="#b0b0b0"/><circle cx="131.4" cy="397.5" r="0.45" fill="#b0b0b0"/><circle cx="48.5" cy="456.6" r="0.45" fill="#b0b0b0"/><circle cx="73.8" cy="447.3" r="0.45" fill="#b0b0b0"/><circle cx="94.5" cy="427.9" r="0.45" fill="#b0b0b0"/><circle cx="151.4" cy="412.9" r="0.45" fill="#b0b0b0"/><circle cx="88.1" cy="413.7" r="0.45" fill="#b0b0b0"/><circle cx="111.9" cy="421.1" r="0.45" fill="#b0b0b0"/><circle cx="82.0" cy="468.9" r="0.45" fill="#b0b0b0"/><circle cx="78.2" cy="449.8" r="0.45" fill="#b0b0b0"/><circle cx="141.3" cy="403.4" r="0.45" fill="#b0b0b0"/><circle cx="50.1" cy="416.3" r="0.45" fill="#b0b0b0"/><circle cx="126.3" cy="455.5" r="0.45" fill="#b0b0b0"/><circle cx="69.2" cy="426.7" r="0.45" fill="#b0b0b0"/><circle cx="62.7" cy="439.7" r="0.45" fill="#b0b0b0"/><circle cx="48.1" cy="463.8" r="0.45" fill="#b0b0b0"/><circle cx="140.4" cy="490.0" r="0.45" fill="#b0b0b0"/><circle cx="123.0" cy="490.5" r="0.45" fill="#b0b0b0"/><circle cx="45.4" cy="422.4" r="0.45" fill="#b0b0b0"/><circle cx="148.0" cy="471.7" r="0.45" fill="#b0b0b0"/><circle cx="87.9" cy="488.8" r="0.45" fill="#b0b0b0"/><circle cx="110.6" cy="476.1" r="0.45" fill="#b0b0b0"/><circle cx="75.2" cy="412.5" r="0.45" fill="#b0b0b0"/><circle cx="91.5" cy="406.9" r="0.45" fill="#b0b0b0"/><circle cx="84.8" cy="490.7" r="0.45" fill="#b0b0b0"/><circle cx="79.3" cy="394.1" r="0.45" fill="#b0b0b0"/><circle cx="48.3" cy="410.3" r="0.45" fill="#b0b0b0"/><circle cx="128.3" cy="429.9" r="0.45" fill="#b0b0b0"/><circle cx="74.9" cy="403.0" r="0.45" fill="#b0b0b0"/><circle cx="149.7" cy="436.1" r="0.45" fill="#b0b0b0"/><circle cx="66.0" cy="399.1" r="0.45" fill="#b0b0b0"/><circle cx="49.4" cy="410.2" r="0.45" fill="#b0b0b0"/><circle cx="116.7" cy="408.3" r="0.45" fill="#b0b0b0"/><circle cx="47.9" cy="442.9" r="0.45" fill="#b0b0b0"/><circle cx="70.4" cy="494.3" r="0.45" fill="#b0b0b0"/><circle cx="56.7" cy="446.8" r="0.45" fill="#b0b0b0"/><circle cx="127.2" cy="434.6" r="0.45" fill="#b0b0b0"/><circle cx="150.4" cy="441.6" r="0.45" fill="#b0b0b0"/><circle cx="69.6" cy="434.8" r="0.45" fill="#b0b0b0"/><circle cx="47.4" cy="435.8" r="0.45" fill="#b0b0b0"/><circle cx="70.4" cy="483.3" r="0.45" fill="#b0b0b0"/><circle cx="133.4" cy="443.7" r="0.45" fill="#b0b0b0"/><circle cx="46.9" cy="418.9" r="0.45" fill="#b0b0b0"/><circle cx="69.7" cy="414.2" r="0.45" fill="#b0b0b0"/><circle cx="68.5" cy="481.3" r="0.45" fill="#b0b0b0"/><circle cx="58.8" cy="398.3" r="0.45" fill="#b0b0b0"/><circle cx="143.9" cy="450.5" r="0.45" fill="#b0b0b0"/><circle cx="150.7" cy="434.0" r="0.45" fill="#b0b0b0"/><circle cx="141.0" cy="459.4" r="0.45" fill="#b0b0b0"/><circle cx="129.1" cy="468.7" r="0.45" fill="#b0b0b0"/><circle cx="97.0" cy="402.5" r="0.45" fill="#b0b0b0"/><circle cx="66.3" cy="481.7" r="0.45" fill="#b0b0b0"/><circle cx="140.9" cy="486.9" r="0.45" fill="#b0b0b0"/><circle cx="79.9" cy="459.7" r="0.45" fill="#b0b0b0"/><circle cx="130.0" cy="458.3" r="0.45" fill="#b0b0b0"/><circle cx="131.7" cy="446.7" r="0.45" fill="#b0b0b0"/><circle cx="114.3" cy="462.7" r="0.45" fill="#b0b0b0"/><circle cx="72.5" cy="486.7" r="0.45" fill="#b0b0b0"/><circle cx="147.0" cy="400.7" r="0.45" fill="#b0b0b0"/><circle cx="148.6" cy="490.7" r="0.45" fill="#b0b0b0"/><circle cx="115.8" cy="397.6" r="0.45" fill="#b0b0b0"/><circle cx="140.8" cy="406.1" r="0.45" fill="#b0b0b0"/><circle cx="148.3" cy="460.8" r="0.45" fill="#b0b0b0"/><circle cx="50.0" cy="410.1" r="0.45" fill="#b0b0b0"/><circle cx="112.2" cy="450.8" r="0.45" fill="#b0b0b0"/><circle cx="124.3" cy="487.2" r="0.45" fill="#b0b0b0"/><circle cx="67.1" cy="393.4" r="0.45" fill="#b0b0b0"/><circle cx="143.3" cy="394.4" r="0.45" fill="#b0b0b0"/><circle cx="138.3" cy="404.9" r="0.45" fill="#b0b0b0"/><circle cx="131.1" cy="472.5" r="0.45" fill="#b0b0b0"/><circle cx="138.5" cy="449.0" r="0.45" fill="#b0b0b0"/><circle cx="138.6" cy="413.6" r="0.45" fill="#b0b0b0"/><circle cx="116.1" cy="426.6" r="0.45" fill="#b0b0b0"/><circle cx="140.0" cy="471.6" r="0.45" fill="#b0b0b0"/><circle cx="94.5" cy="446.5" r="0.45" fill="#b0b0b0"/><circle cx="46.3" cy="396.6" r="0.45" fill="#b0b0b0"/><circle cx="107.8" cy="442.7" r="0.45" fill="#b0b0b0"/><circle cx="137.1" cy="454.8" r="0.45" fill="#b0b0b0"/><circle cx="58.5" cy="429.9" r="0.45" fill="#b0b0b0"/><circle cx="126.5" cy="446.2" r="0.45" fill="#b0b0b0"/><circle cx="44.6" cy="478.1" r="0.45" fill="#b0b0b0"/><circle cx="133.0" cy="401.7" r="0.45" fill="#b0b0b0"/><circle cx="102.3" cy="431.8" r="0.45" fill="#b0b0b0"/><circle cx="128.7" cy="424.7" r="0.45" fill="#b0b0b0"/><circle cx="68.8" cy="442.5" r="0.45" fill="#b0b0b0"/><circle cx="148.1" cy="402.8" r="0.45" fill="#b0b0b0"/><circle cx="55.8" cy="456.1" r="0.45" fill="#b0b0b0"/><circle cx="139.3" cy="445.1" r="0.45" fill="#b0b0b0"/><polygon points="71.99,391.73 73.72,396.91 78.91,398.64 84.96,398.64 89.28,402.10 83.23,403.82 74.58,405.55 67.67,406.42 64.21,412.46 70.26,413.33 76.31,414.19 79.77,415.92 76.31,419.38 72.85,422.83 68.53,426.29 64.21,428.02 65.94,431.47 68.53,434.93 65.94,438.38 62.48,441.84 59.89,447.02 60.75,452.21 64.21,455.66 67.67,459.12 64.21,462.58 59.89,466.03 59.02,471.22 60.75,476.40 61.62,479.86 62.48,484.18 59.02,488.50 54.70,491.95 52.45,495.75 131.99,495.75 134.24,488.50 133.38,483.31 136.84,478.13 138.56,472.94 139.43,467.76 137.70,462.58 133.38,457.39 136.84,453.94 137.70,448.75 140.29,443.57 142.89,440.11 143.75,434.93 145.48,429.74 144.62,424.56 148.94,420.24 148.08,415.92 144.62,412.46 142.02,409.01 139.43,403.82 136.84,400.37 133.38,397.78 128.19,396.91 123.00,397.78 119.54,400.37 116.09,399.50 112.63,396.91 110.90,391.73" fill="#ededed"/><polyline points="70.53,393.49 72.27,396.98 74.89,398.72 78.37,398.29 80.99,396.11 81.86,393.49" fill="none" stroke="#1a1a1a" stroke-width="1.3" stroke-linejoin="round"/><polyline points="81.86,393.49 86.22,396.98 88.84,399.59 92.33,401.34 98.00,402.21" fill="none" stroke="#1a1a1a" stroke-width="1.3" stroke-linejoin="round"/><polyline points="83.61,393.49 87.10,396.11 90.58,398.72 94.07,399.59 98.00,400.03" fill="none" stroke="#1a1a1a" stroke-width="1.3" stroke-linejoin="round"/><polyline points="98.00,397.85 92.33,398.72 87.10,400.47 83.61,402.21 80.12,404.83 78.37,407.44 73.14,408.32 67.91,405.70 64.42,409.19 66.16,411.80 71.40,412.68 76.63,414.42 78.37,416.16 74.01,417.91 70.53,419.65 69.65,423.14 73.14,425.76 76.63,425.76 74.89,429.25 71.40,429.25 68.78,428.37 65.29,430.99 65.29,433.61 68.78,437.10 68.78,440.58 66.16,443.99" fill="none" stroke="#1a1a1a" stroke-width="1.3" stroke-linejoin="round"/><polyline points="80.99,405.70 79.25,410.06 80.99,414.42 80.12,417.04 75.76,418.78 72.27,420.53 71.40,423.14 74.89,424.45 78.37,424.89" fill="none" stroke="#1a1a1a" stroke-width="1.3" stroke-linejoin="round"/><polyline points="71.40,429.25 76.63,430.99 72.27,432.74 77.50,433.61" fill="none" stroke="#1a1a1a" stroke-width="1.3" stroke-linejoin="round"/><polyline points="70.53,435.35 75.76,436.22 73.14,438.84" fill="none" stroke="#1a1a1a" stroke-width="1.3" stroke-linejoin="round"/><polyline points="81.86,435.35 83.61,440.58 82.74,443.99" fill="none" stroke="#1a1a1a" stroke-width="1.3" stroke-linejoin="round"/><polyline points="87.10,434.48 89.71,439.71 94.07,436.22 98.00,431.86" fill="none" stroke="#1a1a1a" stroke-width="1.3" stroke-linejoin="round"/><polyline points="95.82,407.44 98.00,410.06" fill="none" stroke="#1a1a1a" stroke-width="1.3" stroke-linejoin="round"/><polygon points="79.25,424.89 82.74,418.78 86.22,424.89 82.74,430.99" fill="#c6c6c6" stroke="#1a1a1a" stroke-width="1.3" stroke-linejoin="round"/><polygon points="86.22,410.06 89.28,406.13 92.33,410.06 91.46,416.16 87.10,416.16" fill="#c6c6c6" stroke="#1a1a1a" stroke-width="1.3" stroke-linejoin="round"/><polygon points="94.95,417.91 98.00,416.16 98.00,422.27 94.95,421.40" fill="#c6c6c6" stroke="#1a1a1a" stroke-width="1.3" stroke-linejoin="round"/><polygon points="88.67,421.83 89.71,420.09 90.76,421.83 89.71,423.58" fill="#f4f4f4" stroke="#1a1a1a" stroke-width="1.1" stroke-linejoin="round"/><polygon points="88.06,430.12 89.28,428.37 90.50,430.12 89.28,431.86" fill="#f4f4f4" stroke="#1a1a1a" stroke-width="1.1" stroke-linejoin="round"/><ellipse cx="89.01" cy="436.22" rx="0.78" ry="0.78" fill="#333"/><polygon points="77.50,438.84 79.25,441.46 76.63,442.33" fill="#f4f4f4" stroke="#1a1a1a" stroke-width="1.1" stroke-linejoin="round"/><polyline points="110.08,393.49 111.83,397.85 117.06,399.59 121.42,397.85 126.65,398.72 131.89,402.21 136.25,405.70 138.86,410.06 142.35,406.57 144.53,405.70 145.84,410.93 147.58,415.29 150.20,419.65 151.51,420.53" fill="none" stroke="#1a1a1a" stroke-width="1.3" stroke-linejoin="round"/><polyline points="119.68,396.98 124.91,397.41 130.14,399.59 134.50,403.08 137.99,406.57" fill="none" stroke="#1a1a1a" stroke-width="1.3" stroke-linejoin="round"/><polyline points="137.12,418.78 140.61,421.40 144.10,423.14 147.58,421.40 151.51,419.65" fill="none" stroke="#1a1a1a" stroke-width="1.3" stroke-linejoin="round"/><polyline points="97.00,401.34 99.62,403.08 102.23,401.34 103.98,398.72 103.11,395.23 102.23,393.49" fill="none" stroke="#1a1a1a" stroke-width="1.3" stroke-linejoin="round"/><polyline points="98.74,393.49 99.62,398.72 97.87,401.34" fill="none" stroke="#1a1a1a" stroke-width="1.3" stroke-linejoin="round"/><polyline points="97.00,426.63 102.23,424.89 105.72,427.50 110.08,430.12 113.57,433.61 110.08,437.10 105.72,438.84 101.36,438.84 97.00,437.10" fill="none" stroke="#1a1a1a" stroke-width="1.3" stroke-linejoin="round"/><polyline points="118.80,430.12 122.29,427.50 125.78,429.25 129.27,427.50 133.63,429.25 137.12,426.63" fill="none" stroke="#1a1a1a" stroke-width="1.3" stroke-linejoin="round"/><polyline points="135.37,426.63 138.86,430.12 140.61,433.61 142.35,437.10 144.10,443.99" fill="none" stroke="#1a1a1a" stroke-width="1.3" stroke-linejoin="round"/><polyline points="114.44,443.99 117.06,438.84 119.68,435.35" fill="none" stroke="#1a1a1a" stroke-width="1.3" stroke-linejoin="round"/><polyline points="97.00,412.68 100.49,413.55 103.98,414.42 106.59,417.91" fill="none" stroke="#1a1a1a" stroke-width="1.3" stroke-linejoin="round"/><polyline points="123.16,443.99 125.78,440.58 129.27,438.84 131.89,443.99" fill="none" stroke="#1a1a1a" stroke-width="1.3" stroke-linejoin="round"/><polygon points="103.11,405.70 105.72,403.95 110.08,404.83 114.44,407.44 117.93,403.95 121.42,402.21 125.78,401.34 131.01,403.08 134.50,406.57 136.25,410.93 135.37,415.29 131.89,418.78 127.53,422.27 123.16,424.01 118.80,424.89 114.44,425.76 109.21,424.89 106.59,423.14 107.47,418.78 110.08,416.16 111.83,412.68 110.08,410.06 105.72,408.32" fill="#c9c9c9" stroke="#1a1a1a" stroke-width="1.3" stroke-linejoin="round"/><ellipse cx="125.78" cy="406.13" rx="3.49" ry="1.92" fill="#8c8c8c" stroke="#1a1a1a" stroke-width="1.1"/><ellipse cx="132.32" cy="412.68" rx="0.87" ry="3.05" fill="#555" stroke="#1a1a1a" stroke-width="1.0"/><ellipse cx="125.78" cy="420.09" rx="3.92" ry="2.18" fill="#8c8c8c" stroke="#1a1a1a" stroke-width="1.1"/><polygon points="114.27,425.32 116.19,423.40 118.11,425.32 116.19,427.24" fill="#555" stroke="#1a1a1a" stroke-width="1.0" stroke-linejoin="round"/><ellipse cx="122.29" cy="411.37" rx="1.92" ry="1.74" fill="#f4f4f4" stroke="#1a1a1a" stroke-width="1.3"/><ellipse cx="99.62" cy="410.06" rx="2.62" ry="1.57" fill="#f4f4f4" stroke="#1a1a1a" stroke-width="1.1"/><ellipse cx="100.49" cy="417.47" rx="4.36" ry="3.05" fill="#cacaca" stroke="#1a1a1a" stroke-width="1.1"/><polygon points="97.00,430.12 99.62,427.50 102.23,430.12 99.62,432.74" fill="#2a2a2a" stroke="#1a1a1a" stroke-width="1.3" stroke-linejoin="round"/><polygon points="98.74,430.12 99.62,429.25 100.49,430.12 99.62,430.99" fill="#eee"/><polygon points="119.68,435.35 121.42,431.86 123.16,435.35 121.42,438.84" fill="#c4c4c4" stroke="#1a1a1a" stroke-width="1.3" stroke-linejoin="round"/><polygon points="124.91,430.99 126.65,428.81 128.40,430.99 126.65,433.17" fill="#eee" stroke="#1a1a1a" stroke-width="1.3" stroke-linejoin="round"/><polygon points="131.89,432.74 133.63,428.81 135.37,432.74" fill="#eee" stroke="#1a1a1a" stroke-width="1.3" stroke-linejoin="round"/><polyline points="60.06,443.00 59.19,447.36 60.06,451.72 60.93,456.08 61.80,460.44 60.93,464.80 62.68,467.42 59.19,471.78 62.68,475.27 66.16,478.76 69.65,480.50 73.14,481.37 74.01,483.99 71.40,486.61 66.16,487.48 60.06,486.61 56.57,488.35 53.95,491.84 53.95,495.33" fill="none" stroke="#1a1a1a" stroke-width="1.3" stroke-linejoin="round"/><polyline points="63.55,451.72 67.91,454.34 71.40,450.85 74.01,446.49 78.37,446.49 81.86,448.23 85.35,449.98 88.84,446.49 92.33,444.74 95.82,443.00" fill="none" stroke="#1a1a1a" stroke-width="1.3" stroke-linejoin="round"/><polyline points="64.42,458.70 67.91,457.83 71.40,460.44 73.14,463.93 74.01,467.42 76.63,469.16 79.25,466.55 81.86,463.93 83.61,460.44 85.35,455.21 88.84,451.72 92.33,448.23 98.00,446.49" fill="none" stroke="#1a1a1a" stroke-width="1.3" stroke-linejoin="round"/><polyline points="81.86,471.78 85.35,476.14 88.84,479.63 92.33,482.25 95.82,480.50 98.00,479.63" fill="none" stroke="#1a1a1a" stroke-width="1.3" stroke-linejoin="round"/><polyline points="92.33,460.44 94.07,464.80 95.82,469.16 98.00,470.91" fill="none" stroke="#1a1a1a" stroke-width="1.3" stroke-linejoin="round"/><polyline points="90.58,468.29 92.33,473.53 95.82,476.14" fill="none" stroke="#1a1a1a" stroke-width="1.3" stroke-linejoin="round"/><polyline points="53.95,495.33 57.44,489.22 62.68,488.35 67.91,490.10 68.78,495.33" fill="none" stroke="#1a1a1a" stroke-width="1.3" stroke-linejoin="round"/><polyline points="71.40,495.33 73.14,490.10 76.63,488.35 80.12,490.10 80.99,495.33" fill="none" stroke="#1a1a1a" stroke-width="1.3" stroke-linejoin="round"/><polyline points="61.80,444.74 66.16,443.87 68.78,446.49 66.16,449.98 62.68,448.23" fill="none" stroke="#1a1a1a" stroke-width="1.3" stroke-linejoin="round"/><polyline points="88.84,488.35 92.33,491.84 94.07,495.33" fill="none" stroke="#1a1a1a" stroke-width="1.3" stroke-linejoin="round"/><polygon points="64.42,460.44 68.78,458.70 72.27,463.06 73.14,469.16 75.76,473.53 74.01,477.89 69.65,478.76 65.29,477.01 61.80,472.65 60.93,469.16 63.55,465.68" fill="#d4d4d4" stroke="#1a1a1a" stroke-width="1.3" stroke-linejoin="round"/><polygon points="76.46,456.95 78.37,454.77 80.29,456.95 78.37,459.13" fill="#f4f4f4" stroke="#1a1a1a" stroke-width="1.3" stroke-linejoin="round"/><polygon points="77.07,470.91 78.37,467.42 79.68,470.91 78.37,474.40" fill="#e8e8e8" stroke="#1a1a1a" stroke-width="1.3" stroke-linejoin="round"/><polygon points="72.71,470.91 73.14,462.19 74.01,470.91" fill="#aaa" stroke="#1a1a1a" stroke-width="1.0" stroke-linejoin="round"/><ellipse cx="78.37" cy="481.81" rx="0.87" ry="1.05" fill="#333"/><polygon points="60.93,471.78 64.42,470.91 63.55,473.09" fill="#222"/><polygon points="93.72,487.48 94.95,486.61 96.17,487.48 94.95,488.35" fill="#eee" stroke="#1a1a1a" stroke-width="1.0" stroke-linejoin="round"/><ellipse cx="67.91" cy="447.36" rx="1.05" ry="1.22" fill="#888"/><polyline points="97.00,448.23 100.49,449.98 103.98,449.11 107.47,446.49 110.95,444.74 112.70,443.00" fill="none" stroke="#1a1a1a" stroke-width="1.3" stroke-linejoin="round"/><polyline points="97.00,451.72 99.62,454.34 100.49,458.70 97.00,462.19" fill="none" stroke="#1a1a1a" stroke-width="1.3" stroke-linejoin="round"/><polyline points="105.72,456.08 109.21,453.47 114.44,451.72 117.93,453.47 119.68,456.95 118.80,460.44 121.42,463.06 124.91,464.80 127.53,469.16 130.14,471.78 131.89,474.40 128.40,477.89 125.78,481.37 126.65,485.74 126.65,489.22 127.53,493.58" fill="none" stroke="#1a1a1a" stroke-width="1.3" stroke-linejoin="round"/><polyline points="118.80,443.00 122.29,446.49 127.53,448.23 133.63,448.23 137.99,445.62 139.74,443.00" fill="none" stroke="#1a1a1a" stroke-width="1.3" stroke-linejoin="round"/><polyline points="127.53,451.72 131.89,450.85 134.50,455.21 137.12,460.44 138.86,466.55 135.37,469.16 133.63,471.78 137.12,476.14 134.50,479.63 130.14,482.25 127.53,484.86" fill="none" stroke="#1a1a1a" stroke-width="1.3" stroke-linejoin="round"/><polyline points="97.00,463.93 100.49,464.80 103.98,463.06 107.47,460.44 109.21,461.32 110.08,464.80 111.83,467.42 114.44,469.16 116.19,471.78 114.44,476.14 110.95,478.76 107.47,481.37 105.72,484.86 106.59,488.35 103.98,491.84" fill="none" stroke="#1a1a1a" stroke-width="1.3" stroke-linejoin="round"/><polyline points="97.00,495.33 99.62,491.84 102.23,490.10 104.85,495.33" fill="none" stroke="#1a1a1a" stroke-width="1.3" stroke-linejoin="round"/><polyline points="131.89,450.85 136.25,446.49 140.61,443.00" fill="none" stroke="#1a1a1a" stroke-width="1.3" stroke-linejoin="round"/><polyline points="99.62,456.95 103.98,458.70 105.72,456.08" fill="none" stroke="#1a1a1a" stroke-width="1.3" stroke-linejoin="round"/><polygon points="110.08,461.32 114.44,460.44 117.93,463.93 119.68,468.29 122.29,471.78 123.16,476.14 122.29,480.50 119.68,483.99 116.19,483.99 112.70,481.37 110.95,477.89 114.44,474.40 116.19,470.91 113.57,467.42 110.08,464.80" fill="#c8c8c8" stroke="#1a1a1a" stroke-width="1.3" stroke-linejoin="round"/><polygon points="110.95,482.25 117.06,483.12 121.42,487.48 116.19,490.97 113.57,487.48" fill="#bdbdbd" stroke="#1a1a1a" stroke-width="1.3" stroke-linejoin="round"/><polygon points="114.01,485.30 117.06,484.86 118.80,487.04 116.19,488.79 114.44,487.48" fill="#111"/><polygon points="125.87,460.01 127.09,457.83 128.31,460.01 127.09,462.19" fill="#eee" stroke="#1a1a1a" stroke-width="1.1" stroke-linejoin="round"/><polygon points="131.36,459.57 132.58,457.39 133.80,459.57 132.58,461.75" fill="#eee" stroke="#1a1a1a" stroke-width="1.1" stroke-linejoin="round"/><ellipse cx="100.31" cy="452.59" rx="1.05" ry="1.57" fill="#eee" stroke="#1a1a1a" stroke-width="1.0"/><ellipse cx="104.85" cy="482.25" rx="1.05" ry="0.70" fill="#555"/><polyline points="65.94,412.46 74.58,413.33 79.77,415.92 74.58,420.24 70.26,423.70 65.94,427.15 70.26,431.47 67.67,436.66 63.34,441.84 60.75,447.02 64.21,452.21 68.53,455.66" fill="none" stroke="#1a1a1a" stroke-width="1.25" stroke-linejoin="round"/><polyline points="81.50,404.69 84.96,409.01 83.23,414.19 81.50,419.38 84.96,424.56 88.42,429.74 91.88,434.93 97.06,438.38 103.98,436.66 109.17,438.38 114.36,434.93 119.54,433.20" fill="none" stroke="#1a1a1a" stroke-width="1.25" stroke-linejoin="round"/><polyline points="91.88,396.91 95.33,402.10 98.79,407.28 103.98,406.42 109.17,409.01 107.44,414.19 103.98,417.65 105.71,422.83 110.90,426.29 116.09,428.02" fill="none" stroke="#1a1a1a" stroke-width="1.25" stroke-linejoin="round"/><polyline points="71.13,440.11 76.31,441.84 81.50,440.11 86.69,443.57 91.88,447.02 95.33,450.48 98.79,447.02 103.98,445.30 109.17,448.75 112.63,447.02" fill="none" stroke="#1a1a1a" stroke-width="1.25" stroke-linejoin="round"/><polyline points="67.67,460.85 72.85,462.58 78.04,460.85 83.23,464.30 86.69,469.49 84.96,474.67 88.42,479.86 93.61,481.58 98.79,479.86" fill="none" stroke="#1a1a1a" stroke-width="1.25" stroke-linejoin="round"/><polyline points="91.88,459.12 97.06,455.66 102.25,457.39 105.71,462.58 102.25,467.76 98.79,471.22 97.06,476.40" fill="none" stroke="#1a1a1a" stroke-width="1.25" stroke-linejoin="round"/><polyline points="112.63,434.93 117.81,438.38 123.00,441.84 128.19,440.11 133.38,443.57 136.84,448.75" fill="none" stroke="#1a1a1a" stroke-width="1.25" stroke-linejoin="round"/><polyline points="119.54,448.75 124.73,452.21 129.92,455.66 133.38,459.12 131.65,464.30 128.19,469.49" fill="none" stroke="#1a1a1a" stroke-width="1.25" stroke-linejoin="round"/><polyline points="64.21,469.49 69.40,471.22 72.85,476.40 71.13,481.58 74.58,486.77 79.77,489.36" fill="none" stroke="#1a1a1a" stroke-width="1.25" stroke-linejoin="round"/><polyline points="126.46,400.37 131.65,403.82 136.84,407.28 142.02,412.46 143.75,417.65" fill="none" stroke="#1a1a1a" stroke-width="1.25" stroke-linejoin="round"/><polyline points="138.56,421.10 142.02,426.29 140.29,431.47 136.84,436.66 140.29,441.84" fill="none" stroke="#1a1a1a" stroke-width="1.25" stroke-linejoin="round"/><polyline points="117.81,472.94 121.27,478.13 124.73,483.31 128.19,486.77 129.92,491.95" fill="none" stroke="#1a1a1a" stroke-width="1.25" stroke-linejoin="round"/><polygon points="71.99,391.73 73.72,396.91 78.91,398.64 84.96,398.64 89.28,402.10 83.23,403.82 74.58,405.55 67.67,406.42 64.21,412.46 70.26,413.33 76.31,414.19 79.77,415.92 76.31,419.38 72.85,422.83 68.53,426.29 64.21,428.02 65.94,431.47 68.53,434.93 65.94,438.38 62.48,441.84 59.89,447.02 60.75,452.21 64.21,455.66 67.67,459.12 64.21,462.58 59.89,466.03 59.02,471.22 60.75,476.40 61.62,479.86 62.48,484.18 59.02,488.50 54.70,491.95 52.45,495.75 131.99,495.75 134.24,488.50 133.38,483.31 136.84,478.13 138.56,472.94 139.43,467.76 137.70,462.58 133.38,457.39 136.84,453.94 137.70,448.75 140.29,443.57 142.89,440.11 143.75,434.93 145.48,429.74 144.62,424.56 148.94,420.24 148.08,415.92 144.62,412.46 142.02,409.01 139.43,403.82 136.84,400.37 133.38,397.78 128.19,396.91 123.00,397.78 119.54,400.37 116.09,399.50 112.63,396.91 110.90,391.73" fill="none" stroke="#1a1a1a" stroke-width="1.25" stroke-linejoin="round"/>
</svg>
<path d="M48.60,494.70v-4.8M48.60,393.30v4.8M54.97,494.70v-2.8M54.97,393.30v2.8M61.35,494.70v-2.8M61.35,393.30v2.8M67.72,494.70v-2.8M67.72,393.30v2.8M74.10,494.70v-4.8M74.10,393.30v4.8M80.47,494.70v-2.8M80.47,393.30v2.8M86.85,494.70v-2.8M86.85,393.30v2.8M93.22,494.70v-2.8M93.22,393.30v2.8M99.60,494.70v-4.8M99.60,393.30v4.8M105.97,494.70v-2.8M105.97,393.30v2.8M112.35,494.70v-2.8M112.35,393.30v2.8M118.72,494.70v-2.8M118.72,393.30v2.8M125.10,494.70v-4.8M125.10,393.30v4.8M131.47,494.70v-2.8M131.47,393.30v2.8M137.85,494.70v-2.8M137.85,393.30v2.8M144.22,494.70v-2.8M144.22,393.30v2.8M150.60,494.70v-4.8M150.60,393.30v4.8M43.40,494.70h2.8M151.70,494.70h-2.8M43.40,490.64h2.8M151.70,490.64h-2.8M43.40,486.59h2.8M151.70,486.59h-2.8M43.40,482.53h2.8M151.70,482.53h-2.8M43.40,478.48h2.8M151.70,478.48h-2.8M43.40,474.42h4.8M151.70,474.42h-4.8M43.40,470.36h2.8M151.70,470.36h-2.8M43.40,466.31h2.8M151.70,466.31h-2.8M43.40,462.25h2.8M151.70,462.25h-2.8M43.40,458.20h2.8M151.70,458.20h-2.8M43.40,454.14h4.8M151.70,454.14h-4.8M43.40,450.08h2.8M151.70,450.08h-2.8M43.40,446.03h2.8M151.70,446.03h-2.8M43.40,441.97h2.8M151.70,441.97h-2.8M43.40,437.92h2.8M151.70,437.92h-2.8M43.40,433.86h4.8M151.70,433.86h-4.8M43.40,429.80h2.8M151.70,429.80h-2.8M43.40,425.75h2.8M151.70,425.75h-2.8M43.40,421.69h2.8M151.70,421.69h-2.8M43.40,417.64h2.8M151.70,417.64h-2.8M43.40,413.58h4.8M151.70,413.58h-4.8M43.40,409.52h2.8M151.70,409.52h-2.8M43.40,405.47h2.8M151.70,405.47h-2.8M43.40,401.41h2.8M151.70,401.41h-2.8M43.40,397.36h2.8M151.70,397.36h-2.8M43.40,393.30h2.8M151.70,393.30h-2.8" stroke="#222" stroke-width="0.9" fill="none"/>
<rect x="43.40" y="393.30" width="108.3" height="101.4" fill="none" stroke="#1a1a1a" stroke-width="1.1"/>
<svg x="171.50" y="393.30" width="108.3" height="101.4" viewBox="171.50 393.30 108.3 101.4" overflow="hidden">
<circle cx="250.6" cy="468.4" r="0.45" fill="#b8b8b8"/><circle cx="263.9" cy="488.7" r="0.45" fill="#b8b8b8"/><circle cx="259.6" cy="486.7" r="0.45" fill="#b8b8b8"/><circle cx="204.8" cy="440.3" r="0.45" fill="#b8b8b8"/><circle cx="275.3" cy="458.9" r="0.45" fill="#b8b8b8"/><circle cx="272.1" cy="404.6" r="0.45" fill="#b8b8b8"/><circle cx="238.8" cy="418.1" r="0.45" fill="#b8b8b8"/><circle cx="244.5" cy="451.3" r="0.45" fill="#b8b8b8"/><circle cx="203.6" cy="415.1" r="0.45" fill="#b8b8b8"/><circle cx="224.1" cy="486.1" r="0.45" fill="#b8b8b8"/><circle cx="261.6" cy="409.3" r="0.45" fill="#b8b8b8"/><circle cx="264.1" cy="407.2" r="0.45" fill="#b8b8b8"/><circle cx="250.2" cy="406.0" r="0.45" fill="#b8b8b8"/><circle cx="202.7" cy="481.5" r="0.45" fill="#b8b8b8"/><circle cx="218.7" cy="415.0" r="0.45" fill="#b8b8b8"/><circle cx="278.4" cy="481.6" r="0.45" fill="#b8b8b8"/><circle cx="224.9" cy="490.6" r="0.45" fill="#b8b8b8"/><circle cx="244.2" cy="461.9" r="0.45" fill="#b8b8b8"/><circle cx="218.4" cy="488.6" r="0.45" fill="#b8b8b8"/><circle cx="255.8" cy="491.2" r="0.45" fill="#b8b8b8"/><circle cx="271.5" cy="423.4" r="0.45" fill="#b8b8b8"/><circle cx="230.4" cy="409.9" r="0.45" fill="#b8b8b8"/><circle cx="213.8" cy="399.7" r="0.45" fill="#b8b8b8"/><circle cx="225.8" cy="454.3" r="0.45" fill="#b8b8b8"/><circle cx="202.8" cy="461.9" r="0.45" fill="#b8b8b8"/><circle cx="228.6" cy="424.6" r="0.45" fill="#b8b8b8"/><circle cx="265.7" cy="441.9" r="0.45" fill="#b8b8b8"/><circle cx="226.9" cy="441.9" r="0.45" fill="#b8b8b8"/><circle cx="256.9" cy="398.9" r="0.45" fill="#b8b8b8"/><circle cx="277.8" cy="395.4" r="0.45" fill="#b8b8b8"/><circle cx="260.4" cy="478.8" r="0.45" fill="#b8b8b8"/><circle cx="204.0" cy="473.0" r="0.45" fill="#b8b8b8"/><circle cx="230.8" cy="451.8" r="0.45" fill="#b8b8b8"/><circle cx="203.3" cy="397.9" r="0.45" fill="#b8b8b8"/><circle cx="216.5" cy="490.0" r="0.45" fill="#b8b8b8"/><circle cx="217.7" cy="469.8" r="0.45" fill="#b8b8b8"/><circle cx="274.3" cy="488.7" r="0.45" fill="#b8b8b8"/><circle cx="229.1" cy="429.1" r="0.45" fill="#b8b8b8"/><circle cx="243.1" cy="471.8" r="0.45" fill="#b8b8b8"/><circle cx="210.9" cy="469.0" r="0.45" fill="#b8b8b8"/><circle cx="264.1" cy="480.3" r="0.45" fill="#b8b8b8"/><circle cx="205.4" cy="489.0" r="0.45" fill="#b8b8b8"/><circle cx="209.6" cy="427.7" r="0.45" fill="#b8b8b8"/><circle cx="249.7" cy="486.2" r="0.45" fill="#b8b8b8"/><circle cx="228.8" cy="486.9" r="0.45" fill="#b8b8b8"/><circle cx="244.6" cy="424.8" r="0.45" fill="#b8b8b8"/><circle cx="227.0" cy="411.1" r="0.45" fill="#b8b8b8"/><circle cx="208.6" cy="408.2" r="0.45" fill="#b8b8b8"/><circle cx="255.7" cy="494.2" r="0.45" fill="#b8b8b8"/><circle cx="215.0" cy="398.0" r="0.45" fill="#b8b8b8"/><circle cx="278.7" cy="447.2" r="0.45" fill="#b8b8b8"/><circle cx="233.9" cy="417.2" r="0.45" fill="#b8b8b8"/><circle cx="248.4" cy="476.9" r="0.45" fill="#b8b8b8"/><circle cx="237.7" cy="435.9" r="0.45" fill="#b8b8b8"/><circle cx="206.9" cy="486.0" r="0.45" fill="#b8b8b8"/><circle cx="205.1" cy="443.2" r="0.45" fill="#b8b8b8"/><circle cx="267.2" cy="406.4" r="0.45" fill="#b8b8b8"/><circle cx="259.0" cy="489.5" r="0.45" fill="#b8b8b8"/><circle cx="251.2" cy="473.0" r="0.45" fill="#b8b8b8"/><circle cx="210.8" cy="437.2" r="0.45" fill="#b8b8b8"/><circle cx="214.1" cy="478.8" r="0.45" fill="#b8b8b8"/><circle cx="225.3" cy="439.1" r="0.45" fill="#b8b8b8"/><circle cx="279.7" cy="479.6" r="0.45" fill="#b8b8b8"/><circle cx="277.9" cy="439.1" r="0.45" fill="#b8b8b8"/><circle cx="240.2" cy="467.1" r="0.45" fill="#b8b8b8"/><circle cx="239.5" cy="422.6" r="0.45" fill="#b8b8b8"/><circle cx="233.7" cy="408.0" r="0.45" fill="#b8b8b8"/><circle cx="231.7" cy="493.4" r="0.45" fill="#b8b8b8"/><circle cx="276.6" cy="456.7" r="0.45" fill="#b8b8b8"/><circle cx="241.1" cy="427.4" r="0.45" fill="#b8b8b8"/><circle cx="209.5" cy="420.7" r="0.45" fill="#b8b8b8"/><circle cx="262.9" cy="481.1" r="0.45" fill="#b8b8b8"/><circle cx="230.5" cy="472.8" r="0.45" fill="#b8b8b8"/><circle cx="262.3" cy="463.6" r="0.45" fill="#b8b8b8"/><circle cx="253.8" cy="470.2" r="0.45" fill="#b8b8b8"/><circle cx="230.6" cy="464.6" r="0.45" fill="#b8b8b8"/><circle cx="224.2" cy="442.4" r="0.45" fill="#b8b8b8"/><circle cx="261.9" cy="463.2" r="0.45" fill="#b8b8b8"/><circle cx="225.2" cy="489.0" r="0.45" fill="#b8b8b8"/><circle cx="252.7" cy="452.0" r="0.45" fill="#b8b8b8"/><circle cx="203.5" cy="448.6" r="0.45" fill="#b8b8b8"/><circle cx="221.9" cy="461.2" r="0.45" fill="#b8b8b8"/><circle cx="238.3" cy="475.9" r="0.45" fill="#b8b8b8"/><circle cx="252.5" cy="474.0" r="0.45" fill="#b8b8b8"/><circle cx="229.4" cy="458.4" r="0.45" fill="#b8b8b8"/><circle cx="259.5" cy="477.1" r="0.45" fill="#b8b8b8"/><circle cx="229.6" cy="478.6" r="0.45" fill="#b8b8b8"/><circle cx="269.7" cy="462.9" r="0.45" fill="#b8b8b8"/><circle cx="277.9" cy="490.1" r="0.45" fill="#b8b8b8"/><circle cx="242.5" cy="446.8" r="0.45" fill="#b8b8b8"/><circle cx="215.4" cy="478.0" r="0.45" fill="#b8b8b8"/><circle cx="274.9" cy="441.5" r="0.45" fill="#b8b8b8"/><circle cx="255.9" cy="466.1" r="0.45" fill="#b8b8b8"/><circle cx="258.9" cy="410.5" r="0.45" fill="#b8b8b8"/><circle cx="262.8" cy="452.0" r="0.45" fill="#b8b8b8"/><circle cx="253.9" cy="435.8" r="0.45" fill="#b8b8b8"/><circle cx="250.7" cy="471.7" r="0.45" fill="#b8b8b8"/><circle cx="251.7" cy="466.2" r="0.45" fill="#b8b8b8"/><circle cx="204.7" cy="409.3" r="0.45" fill="#b8b8b8"/><circle cx="236.6" cy="459.1" r="0.45" fill="#b8b8b8"/><circle cx="219.5" cy="462.7" r="0.45" fill="#b8b8b8"/><circle cx="251.2" cy="397.4" r="0.45" fill="#b8b8b8"/><circle cx="239.0" cy="416.1" r="0.45" fill="#b8b8b8"/><circle cx="206.8" cy="406.7" r="0.45" fill="#b8b8b8"/><circle cx="227.1" cy="411.5" r="0.45" fill="#b8b8b8"/><circle cx="217.5" cy="396.7" r="0.45" fill="#b8b8b8"/><circle cx="238.5" cy="431.7" r="0.45" fill="#b8b8b8"/><circle cx="249.8" cy="453.0" r="0.45" fill="#b8b8b8"/><circle cx="220.9" cy="484.7" r="0.45" fill="#b8b8b8"/><circle cx="202.6" cy="434.2" r="0.45" fill="#b8b8b8"/><circle cx="224.1" cy="434.7" r="0.45" fill="#b8b8b8"/><circle cx="211.5" cy="477.4" r="0.45" fill="#b8b8b8"/><circle cx="231.4" cy="396.8" r="0.45" fill="#b8b8b8"/><circle cx="249.9" cy="402.7" r="0.45" fill="#b8b8b8"/><circle cx="244.6" cy="427.5" r="0.45" fill="#b8b8b8"/><circle cx="247.4" cy="490.3" r="0.45" fill="#b8b8b8"/><circle cx="265.7" cy="435.6" r="0.45" fill="#b8b8b8"/><circle cx="265.3" cy="458.3" r="0.45" fill="#b8b8b8"/><circle cx="231.1" cy="407.5" r="0.45" fill="#b8b8b8"/><circle cx="248.5" cy="450.3" r="0.45" fill="#b8b8b8"/><circle cx="276.4" cy="491.3" r="0.45" fill="#b8b8b8"/><circle cx="249.5" cy="428.7" r="0.45" fill="#b8b8b8"/><circle cx="271.5" cy="393.2" r="0.45" fill="#b8b8b8"/><circle cx="210.9" cy="450.5" r="0.45" fill="#b8b8b8"/><circle cx="250.0" cy="407.4" r="0.45" fill="#b8b8b8"/><circle cx="251.1" cy="483.5" r="0.45" fill="#b8b8b8"/><circle cx="231.6" cy="436.9" r="0.45" fill="#b8b8b8"/><circle cx="220.0" cy="422.7" r="0.45" fill="#b8b8b8"/><circle cx="277.6" cy="431.6" r="0.45" fill="#b8b8b8"/><circle cx="276.7" cy="485.8" r="0.45" fill="#b8b8b8"/><circle cx="248.5" cy="419.5" r="0.45" fill="#b8b8b8"/><circle cx="278.2" cy="443.5" r="0.45" fill="#b8b8b8"/><circle cx="234.6" cy="425.5" r="0.45" fill="#b8b8b8"/><circle cx="278.5" cy="443.0" r="0.45" fill="#b8b8b8"/><circle cx="224.7" cy="441.5" r="0.45" fill="#b8b8b8"/><circle cx="212.0" cy="456.2" r="0.45" fill="#b8b8b8"/><circle cx="236.8" cy="422.8" r="0.45" fill="#b8b8b8"/><circle cx="262.9" cy="477.0" r="0.45" fill="#b8b8b8"/><circle cx="203.6" cy="447.1" r="0.45" fill="#b8b8b8"/><circle cx="223.7" cy="488.0" r="0.45" fill="#b8b8b8"/><circle cx="262.9" cy="418.0" r="0.45" fill="#b8b8b8"/><circle cx="223.2" cy="408.8" r="0.45" fill="#b8b8b8"/><circle cx="278.8" cy="422.8" r="0.45" fill="#b8b8b8"/><circle cx="249.5" cy="441.3" r="0.45" fill="#b8b8b8"/><circle cx="252.3" cy="454.4" r="0.45" fill="#b8b8b8"/><circle cx="259.9" cy="405.1" r="0.45" fill="#b8b8b8"/><circle cx="261.2" cy="423.6" r="0.45" fill="#b8b8b8"/><circle cx="243.7" cy="427.2" r="0.45" fill="#b8b8b8"/><circle cx="225.5" cy="446.9" r="0.45" fill="#b8b8b8"/><circle cx="238.4" cy="429.7" r="0.45" fill="#b8b8b8"/><polygon points="203.45,391.73 205.18,396.91 206.04,402.10 209.50,405.55 207.77,409.01 211.23,412.46 214.69,417.65 215.55,421.97 211.23,426.29 207.77,427.15 205.18,429.74 207.77,434.93 205.18,438.38 201.72,441.84 199.99,446.16 202.58,450.48 198.26,453.94 197.40,457.39 202.58,459.12 209.50,460.85 218.15,460.85 216.42,464.30 211.23,467.76 209.50,471.22 212.09,472.94 214.69,471.22 218.15,469.49 222.47,472.94 224.20,476.40 225.06,481.58 226.79,486.77 229.39,488.50 228.52,495.75 169.73,495.75 169.73,391.73" fill="#ececec" stroke="#1a1a1a" stroke-width="1.15" stroke-linejoin="round"/><polygon points="178.38,391.73 180.28,397.78 185.46,403.13 188.92,400.54 191.52,399.50 197.57,404.00 199.47,407.45 202.58,410.91 204.66,415.23 209.85,417.82 212.44,422.31 210.71,424.91 205.52,425.77 203.79,428.36 206.04,431.82 206.91,435.27 204.31,438.73 200.85,440.98 193.94,441.84 191.52,443.05 193.25,446.51 189.79,450.83 188.92,454.28 194.11,458.77 198.61,461.37 194.11,465.69 189.79,470.87 190.65,474.33 194.98,477.96 198.61,481.41 194.11,484.87 191.52,487.46 189.79,491.78 190.65,495.75 169.73,495.75 169.73,391.73" fill="#d2d2d2" stroke="#1a1a1a" stroke-width="1.1" stroke-linejoin="round"/><polygon points="169.73,391.73 180.97,391.73 183.56,398.64 187.02,405.55 193.94,410.74 199.13,414.19 202.58,418.51 200.85,421.97 193.94,422.83 188.75,424.56 185.29,431.47 181.83,434.93 185.29,440.11 187.02,445.30 185.29,450.48 180.10,455.66 176.65,459.12 169.73,460.85" fill="#acacac" stroke="#1a1a1a" stroke-width="1.0" stroke-linejoin="round"/><polygon points="169.73,398.64 177.51,400.37 180.97,406.42 180.10,410.74 178.38,415.92 175.78,424.56 169.73,425.42" fill="#5a5a5a"/><polygon points="181.49,425.77 185.29,423.35 189.10,425.77 185.29,428.19" fill="#1e1e1e" stroke="#1a1a1a" stroke-width="0.9" stroke-linejoin="round"/><polygon points="176.13,436.31 179.24,432.51 182.35,436.31 179.24,440.11" fill="#1e1e1e" stroke="#1a1a1a" stroke-width="0.9" stroke-linejoin="round"/><polygon points="178.72,445.30 179.76,443.22 180.80,445.30 179.76,447.37" fill="#333" stroke="#1a1a1a" stroke-width="0.9" stroke-linejoin="round"/><polygon points="178.38,416.27 179.76,414.88 181.14,416.27 179.76,417.65" fill="#333" stroke="#1a1a1a" stroke-width="0.9" stroke-linejoin="round"/><polygon points="188.58,464.65 189.96,461.89 191.34,464.65 189.96,467.41" fill="#444" stroke="#1a1a1a" stroke-width="0.9" stroke-linejoin="round"/><polygon points="169.73,464.30 176.65,460.85 181.83,455.66 187.02,453.07 185.29,459.12 180.97,464.30 176.65,467.76 169.73,469.83" fill="#c0c0c0" stroke="#1a1a1a" stroke-width="1.0" stroke-linejoin="round"/><polygon points="171.80,478.99 174.92,477.26 176.65,481.58 174.05,484.18 171.80,483.31" fill="#f6f6f6" stroke="#1a1a1a" stroke-width="1.0" stroke-linejoin="round"/><polygon points="176.65,495.75 178.38,488.50 183.56,483.31 185.29,477.26 187.37,479.86 186.33,486.77 187.37,495.75" fill="#9a9a9a" stroke="#1a1a1a" stroke-width="1.0" stroke-linejoin="round"/><polygon points="214.69,405.55 219.88,400.71 225.06,400.37 224.20,405.55 218.15,409.87" fill="#f0f0f0" stroke="#1a1a1a" stroke-width="1.1" stroke-linejoin="round"/><polygon points="219.88,415.92 223.33,413.50 226.79,415.92 223.33,418.34" fill="#f2f2f2" stroke="#1a1a1a" stroke-width="0.9" stroke-linejoin="round"/><polygon points="254.46,416.78 255.32,410.74 256.54,416.78" fill="#f2f2f2" stroke="#1a1a1a" stroke-width="1.0" stroke-linejoin="round"/><polygon points="198.78,431.47 200.85,429.74 202.93,431.47 200.85,433.20" fill="#e8e8e8" stroke="#1a1a1a" stroke-width="0.9" stroke-linejoin="round"/><polygon points="203.62,435.79 206.04,433.72 208.46,435.79 206.04,437.87" fill="#e8e8e8" stroke="#1a1a1a" stroke-width="0.9" stroke-linejoin="round"/><polygon points="204.31,451.34 206.39,449.62 208.46,451.34 206.39,453.07" fill="#e8e8e8" stroke="#1a1a1a" stroke-width="0.9" stroke-linejoin="round"/><polygon points="221.78,447.02 223.33,445.47 224.89,447.02 223.33,448.58" fill="#e8e8e8" stroke="#1a1a1a" stroke-width="0.9" stroke-linejoin="round"/><polygon points="226.97,441.32 228.52,439.77 230.08,441.32 228.52,442.88" fill="#e8e8e8" stroke="#1a1a1a" stroke-width="0.9" stroke-linejoin="round"/><polygon points="237.17,466.90 238.90,465.17 240.63,466.90 238.90,468.62" fill="#e8e8e8" stroke="#1a1a1a" stroke-width="0.9" stroke-linejoin="round"/><polygon points="247.37,471.22 250.48,468.45 253.60,471.22 250.48,473.98" fill="#e8e8e8" stroke="#1a1a1a" stroke-width="0.9" stroke-linejoin="round"/><polygon points="251.87,487.63 255.32,485.21 258.78,487.63 255.32,490.05" fill="#e8e8e8" stroke="#1a1a1a" stroke-width="0.9" stroke-linejoin="round"/><polygon points="221.61,487.63 223.33,486.25 225.06,487.63 223.33,489.02" fill="#e8e8e8" stroke="#1a1a1a" stroke-width="0.9" stroke-linejoin="round"/><polygon points="199.47,477.26 200.51,476.23 201.55,477.26 200.51,478.30" fill="#e8e8e8" stroke="#1a1a1a" stroke-width="0.9" stroke-linejoin="round"/><polygon points="237.17,475.54 240.63,473.81 245.47,475.54 246.16,478.99 240.63,479.86 238.03,480.72" fill="#f2f2f2" stroke="#1a1a1a" stroke-width="1.0" stroke-linejoin="round"/><polygon points="202.58,471.22 206.91,468.62 208.64,472.08 207.43,477.26 205.18,476.40" fill="#e0e0e0" stroke="#1a1a1a" stroke-width="1.0" stroke-linejoin="round"/><polygon points="231.12,487.63 233.71,485.90 234.57,488.50 232.33,491.09" fill="#f0f0f0" stroke="#1a1a1a" stroke-width="1.0" stroke-linejoin="round"/>
</svg>
<path d="M173.34,494.70v-2.8M173.34,393.30v2.8M178.85,494.70v-4.8M178.85,393.30v4.8M184.37,494.70v-2.8M184.37,393.30v2.8M189.88,494.70v-2.8M189.88,393.30v2.8M195.40,494.70v-2.8M195.40,393.30v2.8M200.91,494.70v-4.8M200.91,393.30v4.8M206.42,494.70v-2.8M206.42,393.30v2.8M211.94,494.70v-2.8M211.94,393.30v2.8M217.45,494.70v-2.8M217.45,393.30v2.8M222.97,494.70v-4.8M222.97,393.30v4.8M228.48,494.70v-2.8M228.48,393.30v2.8M233.99,494.70v-2.8M233.99,393.30v2.8M239.51,494.70v-2.8M239.51,393.30v2.8M245.02,494.70v-4.8M245.02,393.30v4.8M250.54,494.70v-2.8M250.54,393.30v2.8M256.05,494.70v-2.8M256.05,393.30v2.8M261.57,494.70v-2.8M261.57,393.30v2.8M267.08,494.70v-4.8M267.08,393.30v4.8M272.59,494.70v-2.8M272.59,393.30v2.8M278.11,494.70v-2.8M278.11,393.30v2.8M171.50,494.70h2.8M279.80,494.70h-2.8M171.50,490.64h2.8M279.80,490.64h-2.8M171.50,486.59h2.8M279.80,486.59h-2.8M171.50,482.53h2.8M279.80,482.53h-2.8M171.50,478.48h2.8M279.80,478.48h-2.8M171.50,474.42h4.8M279.80,474.42h-4.8M171.50,470.36h2.8M279.80,470.36h-2.8M171.50,466.31h2.8M279.80,466.31h-2.8M171.50,462.25h2.8M279.80,462.25h-2.8M171.50,458.20h2.8M279.80,458.20h-2.8M171.50,454.14h4.8M279.80,454.14h-4.8M171.50,450.08h2.8M279.80,450.08h-2.8M171.50,446.03h2.8M279.80,446.03h-2.8M171.50,441.97h2.8M279.80,441.97h-2.8M171.50,437.92h2.8M279.80,437.92h-2.8M171.50,433.86h4.8M279.80,433.86h-4.8M171.50,429.80h2.8M279.80,429.80h-2.8M171.50,425.75h2.8M279.80,425.75h-2.8M171.50,421.69h2.8M279.80,421.69h-2.8M171.50,417.64h2.8M279.80,417.64h-2.8M171.50,413.58h4.8M279.80,413.58h-4.8M171.50,409.52h2.8M279.80,409.52h-2.8M171.50,405.47h2.8M279.80,405.47h-2.8M171.50,401.41h2.8M279.80,401.41h-2.8M171.50,397.36h2.8M279.80,397.36h-2.8M171.50,393.30h2.8M279.80,393.30h-2.8" stroke="#222" stroke-width="0.9" fill="none"/>
<rect x="171.50" y="393.30" width="108.3" height="101.4" fill="none" stroke="#1a1a1a" stroke-width="1.1"/>
<svg x="299.60" y="393.30" width="108.3" height="101.4" viewBox="299.60 393.30 108.3 101.4" overflow="hidden">
<circle cx="385.3" cy="476.5" r="0.45" fill="#aaa"/><circle cx="352.0" cy="419.6" r="0.45" fill="#aaa"/><circle cx="299.5" cy="460.3" r="0.45" fill="#aaa"/><circle cx="350.4" cy="470.2" r="0.45" fill="#aaa"/><circle cx="339.9" cy="471.2" r="0.45" fill="#aaa"/><circle cx="329.0" cy="474.5" r="0.45" fill="#aaa"/><circle cx="378.5" cy="435.1" r="0.45" fill="#aaa"/><circle cx="357.7" cy="462.3" r="0.45" fill="#aaa"/><circle cx="320.3" cy="449.3" r="0.45" fill="#aaa"/><circle cx="386.6" cy="420.0" r="0.45" fill="#aaa"/><circle cx="386.4" cy="462.7" r="0.45" fill="#aaa"/><circle cx="390.9" cy="427.1" r="0.45" fill="#aaa"/><circle cx="309.5" cy="474.3" r="0.45" fill="#aaa"/><circle cx="386.6" cy="438.3" r="0.45" fill="#aaa"/><circle cx="309.6" cy="413.1" r="0.45" fill="#aaa"/><circle cx="368.2" cy="422.6" r="0.45" fill="#aaa"/><circle cx="402.4" cy="452.8" r="0.45" fill="#aaa"/><circle cx="321.2" cy="459.6" r="0.45" fill="#aaa"/><circle cx="338.5" cy="487.7" r="0.45" fill="#aaa"/><circle cx="397.9" cy="445.3" r="0.45" fill="#aaa"/><circle cx="369.2" cy="463.9" r="0.45" fill="#aaa"/><circle cx="386.7" cy="492.1" r="0.45" fill="#aaa"/><circle cx="302.5" cy="429.8" r="0.45" fill="#aaa"/><circle cx="364.6" cy="424.0" r="0.45" fill="#aaa"/><circle cx="363.2" cy="402.2" r="0.45" fill="#aaa"/><circle cx="394.7" cy="446.4" r="0.45" fill="#aaa"/><circle cx="312.1" cy="460.3" r="0.45" fill="#aaa"/><circle cx="333.3" cy="413.0" r="0.45" fill="#aaa"/><circle cx="351.8" cy="407.1" r="0.45" fill="#aaa"/><circle cx="322.2" cy="480.9" r="0.45" fill="#aaa"/><circle cx="375.0" cy="394.4" r="0.45" fill="#aaa"/><circle cx="383.7" cy="394.8" r="0.45" fill="#aaa"/><circle cx="335.5" cy="484.9" r="0.45" fill="#aaa"/><circle cx="366.6" cy="424.2" r="0.45" fill="#aaa"/><circle cx="340.3" cy="432.6" r="0.45" fill="#aaa"/><circle cx="313.2" cy="494.5" r="0.45" fill="#aaa"/><circle cx="305.3" cy="436.0" r="0.45" fill="#aaa"/><circle cx="380.2" cy="433.5" r="0.45" fill="#aaa"/><circle cx="405.6" cy="418.0" r="0.45" fill="#aaa"/><circle cx="405.5" cy="483.6" r="0.45" fill="#aaa"/><circle cx="372.0" cy="483.3" r="0.45" fill="#aaa"/><circle cx="347.9" cy="477.4" r="0.45" fill="#aaa"/><circle cx="385.6" cy="445.5" r="0.45" fill="#aaa"/><circle cx="350.4" cy="464.7" r="0.45" fill="#aaa"/><circle cx="343.7" cy="401.8" r="0.45" fill="#aaa"/><circle cx="380.3" cy="420.1" r="0.45" fill="#aaa"/><circle cx="352.2" cy="472.6" r="0.45" fill="#aaa"/><circle cx="318.1" cy="395.3" r="0.45" fill="#aaa"/><circle cx="312.8" cy="452.9" r="0.45" fill="#aaa"/><circle cx="338.5" cy="419.1" r="0.45" fill="#aaa"/><circle cx="348.3" cy="487.2" r="0.45" fill="#aaa"/><circle cx="327.0" cy="434.8" r="0.45" fill="#aaa"/><circle cx="394.6" cy="455.2" r="0.45" fill="#aaa"/><circle cx="328.5" cy="441.3" r="0.45" fill="#aaa"/><circle cx="351.3" cy="407.5" r="0.45" fill="#aaa"/><circle cx="340.3" cy="424.1" r="0.45" fill="#aaa"/><circle cx="386.6" cy="425.9" r="0.45" fill="#aaa"/><circle cx="370.8" cy="491.6" r="0.45" fill="#aaa"/><circle cx="399.4" cy="431.3" r="0.45" fill="#aaa"/><circle cx="364.7" cy="425.6" r="0.45" fill="#aaa"/><circle cx="342.6" cy="442.6" r="0.45" fill="#aaa"/><circle cx="385.3" cy="488.1" r="0.45" fill="#aaa"/><circle cx="330.9" cy="393.7" r="0.45" fill="#aaa"/><circle cx="348.1" cy="398.9" r="0.45" fill="#aaa"/><circle cx="302.7" cy="471.6" r="0.45" fill="#aaa"/><circle cx="311.6" cy="466.0" r="0.45" fill="#aaa"/><circle cx="338.6" cy="488.3" r="0.45" fill="#aaa"/><circle cx="391.8" cy="399.4" r="0.45" fill="#aaa"/><circle cx="320.3" cy="489.2" r="0.45" fill="#aaa"/><circle cx="365.9" cy="435.9" r="0.45" fill="#aaa"/><circle cx="384.1" cy="475.6" r="0.45" fill="#aaa"/><circle cx="352.7" cy="440.7" r="0.45" fill="#aaa"/><circle cx="310.3" cy="429.8" r="0.45" fill="#aaa"/><circle cx="315.1" cy="456.6" r="0.45" fill="#aaa"/><circle cx="365.1" cy="407.7" r="0.45" fill="#aaa"/><circle cx="367.4" cy="403.0" r="0.45" fill="#aaa"/><circle cx="310.9" cy="458.6" r="0.45" fill="#aaa"/><circle cx="349.5" cy="484.4" r="0.45" fill="#aaa"/><circle cx="367.6" cy="464.3" r="0.45" fill="#aaa"/><circle cx="313.2" cy="477.6" r="0.45" fill="#aaa"/><circle cx="308.5" cy="455.8" r="0.45" fill="#aaa"/><circle cx="398.1" cy="485.2" r="0.45" fill="#aaa"/><circle cx="396.2" cy="439.0" r="0.45" fill="#aaa"/><circle cx="374.6" cy="473.4" r="0.45" fill="#aaa"/><circle cx="314.3" cy="488.8" r="0.45" fill="#aaa"/><circle cx="397.8" cy="437.8" r="0.45" fill="#aaa"/><circle cx="383.7" cy="438.5" r="0.45" fill="#aaa"/><circle cx="329.4" cy="465.4" r="0.45" fill="#aaa"/><circle cx="306.4" cy="474.3" r="0.45" fill="#aaa"/><circle cx="405.3" cy="422.1" r="0.45" fill="#aaa"/><polygon points="297.73,391.73 407.71,391.73 407.71,495.75 297.73,495.75" fill="#f1f1f1"/><polygon points="346.15,441.84 353.06,438.38 361.71,441.84 368.63,447.02 375.54,455.66 379.00,464.30 377.27,472.94 372.09,483.31 368.63,495.75 347.88,495.75 349.61,486.77 353.06,479.86 351.33,471.22 347.88,464.30 344.42,455.66" fill="#fafafa"/><polygon points="303.41,406.13 305.59,403.95 309.95,402.21 314.32,401.34 318.24,399.16 322.16,400.47 325.65,401.77 330.01,403.95 333.50,406.57 336.99,408.75 341.35,411.80 342.22,415.29 338.74,417.91 335.25,420.53 332.63,424.89 330.45,427.50 326.53,428.37 322.16,428.81 318.68,430.12 316.93,428.37 315.19,426.63 312.57,425.32 309.52,424.89 306.47,424.89 303.85,424.01 302.11,423.14 301.23,418.78 301.23,413.55" fill="#dedede" stroke="#1a1a1a" stroke-width="1.45" stroke-linejoin="round"/><polyline points="304.29,407.44 306.47,405.26 310.39,403.52 314.75,402.65 318.24,400.64 322.16,401.77 325.22,403.08 329.14,405.26" fill="none" stroke="#1a1a1a" stroke-width="1.1" stroke-linejoin="round"/><polygon points="306.47,409.19 309.08,407.01 312.13,406.13 313.44,408.32 312.13,411.80 313.44,414.42 316.93,413.55 319.55,416.16 317.80,419.22 315.19,420.53 312.57,421.40 309.08,420.53 307.34,417.91 306.90,413.55" fill="#c6c6c6" stroke="#1a1a1a" stroke-width="1.45" stroke-linejoin="round"/><polygon points="320.42,403.95 323.91,404.39 327.40,407.44 330.01,410.93 332.63,414.42 333.50,417.04 330.89,417.91 328.27,419.65 326.53,417.04 325.65,413.55 324.78,410.93 322.16,409.19 319.55,408.32 318.68,405.70" fill="#cecece" stroke="#1a1a1a" stroke-width="1.45" stroke-linejoin="round"/><polygon points="322.51,420.96 323.91,419.04 325.30,420.96 323.91,422.88" fill="#f4f4f4" stroke="#1a1a1a" stroke-width="1.1" stroke-linejoin="round"/><ellipse cx="318.24" cy="416.16" rx="0.78" ry="0.70" fill="#333"/><ellipse cx="313.01" cy="420.53" rx="0.70" ry="0.70" fill="#333"/><ellipse cx="323.91" cy="405.70" rx="0.61" ry="0.61" fill="#333"/><polyline points="334.37,405.26 336.99,404.83 341.35,401.34 345.71,399.16 350.07,400.47 354.00,403.08" fill="none" stroke="#1a1a1a" stroke-width="1.45" stroke-linejoin="round"/><ellipse cx="345.28" cy="406.40" rx="6.11" ry="2.18" fill="#cfcfcf" stroke="#1a1a1a" stroke-width="1.1"/><ellipse cx="349.64" cy="417.91" rx="2.18" ry="3.05" fill="#c8c8c8" stroke="#1a1a1a" stroke-width="1.45"/><polyline points="342.22,414.42 344.84,412.68 348.33,411.37 354.00,411.80" fill="none" stroke="#1a1a1a" stroke-width="1.45" stroke-linejoin="round"/><polyline points="343.10,418.78 344.84,424.89 348.33,427.50 354.00,428.37" fill="none" stroke="#1a1a1a" stroke-width="1.45" stroke-linejoin="round"/><polyline points="299.49,426.63 302.11,428.37 304.72,430.12 301.23,430.99 299.49,431.86" fill="none" stroke="#1a1a1a" stroke-width="1.45" stroke-linejoin="round"/><polyline points="299.49,433.61 302.98,433.61 306.47,435.35 308.21,438.84 306.47,443.99" fill="none" stroke="#1a1a1a" stroke-width="1.45" stroke-linejoin="round"/><polyline points="316.93,443.99 320.42,438.84 323.91,435.35 328.27,433.17 332.63,434.48 336.12,430.99 339.61,429.25 343.10,433.61 341.35,437.10 339.61,438.84 336.12,437.10 332.63,434.48" fill="none" stroke="#1a1a1a" stroke-width="1.45" stroke-linejoin="round"/><polyline points="309.08,426.63 313.44,428.37 316.93,430.12 318.68,431.86 322.16,430.99" fill="none" stroke="#1a1a1a" stroke-width="1.1" stroke-linejoin="round"/><ellipse cx="329.14" cy="436.22" rx="0.70" ry="0.70" fill="#333"/><polygon points="345.71,436.22 348.33,432.74 350.95,436.22 348.33,439.71" fill="#2a2a2a" stroke="#1a1a1a" stroke-width="1.45" stroke-linejoin="round"/><polygon points="347.28,436.22 348.33,435.00 349.38,436.22 348.33,437.44" fill="#ddd"/><polyline points="299.49,395.23 302.98,396.11 306.47,395.23" fill="none" stroke="#1a1a1a" stroke-width="1.0" stroke-linejoin="round"/><polygon points="373.06,410.06 378.29,408.75 383.53,407.44 387.89,406.13 391.37,408.32 393.12,412.68 394.86,416.16 396.61,419.65 400.10,423.14 401.84,426.63 399.22,430.99 394.86,431.86 391.37,430.12 387.89,428.37 384.40,427.50 379.16,428.37 374.80,431.86 371.32,430.99 368.70,426.63 367.83,423.14 370.44,419.65 372.19,416.16 373.93,412.68" fill="#c9c9c9" stroke="#1a1a1a" stroke-width="1.45" stroke-linejoin="round"/><polygon points="396.61,393.49 408.82,393.49 408.82,403.08 405.33,402.21 401.84,400.47 398.35,397.85" fill="#c8c8c8" stroke="#1a1a1a" stroke-width="1.45" stroke-linejoin="round"/><polygon points="386.14,393.49 393.99,393.49 393.99,397.85 390.50,397.85" fill="#bdbdbd" stroke="#1a1a1a" stroke-width="1.1" stroke-linejoin="round"/><polygon points="353.00,420.53 358.23,421.40 359.11,426.63 356.49,429.25 353.00,429.25" fill="#d8d8d8"/><polyline points="353.00,393.49 356.49,396.98 358.23,400.47 359.98,403.95 358.23,407.44 356.49,410.93 353.00,411.80" fill="none" stroke="#1a1a1a" stroke-width="1.45" stroke-linejoin="round"/><polyline points="360.85,393.49 361.72,396.98 364.34,399.59 366.08,403.08 367.83,407.44 369.57,410.06 373.06,410.06" fill="none" stroke="#1a1a1a" stroke-width="1.45" stroke-linejoin="round"/><polyline points="366.08,393.49 367.83,396.11 370.44,398.72 372.19,402.21 374.80,404.83 378.29,403.95 380.91,400.47 382.65,396.98 383.53,393.49" fill="none" stroke="#1a1a1a" stroke-width="1.45" stroke-linejoin="round"/><polyline points="370.44,393.49 373.06,395.23 375.68,397.85 376.55,401.34" fill="none" stroke="#1a1a1a" stroke-width="1.45" stroke-linejoin="round"/><polyline points="381.78,395.23 385.27,397.85 389.63,399.59 393.12,400.47 396.61,402.21 400.10,403.08 403.58,403.95 407.95,403.08" fill="none" stroke="#1a1a1a" stroke-width="1.45" stroke-linejoin="round"/><polyline points="353.00,416.16 356.49,415.29 359.98,414.42 362.59,417.04 361.72,420.53 364.34,421.40 366.95,417.91 370.44,416.16 373.06,416.16" fill="none" stroke="#1a1a1a" stroke-width="1.45" stroke-linejoin="round"/><polyline points="353.00,423.14 355.62,424.01 358.23,426.63 361.72,428.37 364.34,430.12 367.83,430.12 369.57,426.63" fill="none" stroke="#1a1a1a" stroke-width="1.45" stroke-linejoin="round"/><polyline points="353.00,430.12 356.49,431.86 359.98,433.61 362.59,435.35 365.21,438.84 367.83,443.99" fill="none" stroke="#1a1a1a" stroke-width="1.45" stroke-linejoin="round"/><polyline points="370.44,431.86 373.06,435.35 375.68,438.84 377.42,443.99" fill="none" stroke="#1a1a1a" stroke-width="1.45" stroke-linejoin="round"/><polyline points="390.50,410.06 393.99,407.44 398.35,406.57 402.71,407.44 406.20,410.06 408.82,412.68" fill="none" stroke="#1a1a1a" stroke-width="1.45" stroke-linejoin="round"/><polyline points="393.12,414.42 396.61,416.16 400.10,417.91 401.84,421.40 405.33,423.14 408.82,423.14" fill="none" stroke="#1a1a1a" stroke-width="1.45" stroke-linejoin="round"/><polyline points="396.61,426.63 400.10,428.37 403.58,430.12 407.07,430.99" fill="none" stroke="#1a1a1a" stroke-width="1.45" stroke-linejoin="round"/><polyline points="383.53,429.25 386.14,431.86 387.89,435.35 389.63,438.84 391.37,443.99" fill="none" stroke="#1a1a1a" stroke-width="1.45" stroke-linejoin="round"/><polyline points="391.37,431.86 393.99,435.35 396.61,438.84 398.35,443.99" fill="none" stroke="#1a1a1a" stroke-width="1.45" stroke-linejoin="round"/><polyline points="402.71,433.61 405.33,436.22 407.95,438.84" fill="none" stroke="#1a1a1a" stroke-width="1.45" stroke-linejoin="round"/><polyline points="356.49,400.47 359.98,407.44 361.72,411.80 359.98,416.16" fill="none" stroke="#1a1a1a" stroke-width="1.45" stroke-linejoin="round"/><polyline points="398.35,410.06 401.84,412.68 405.33,416.16 408.82,418.78" fill="none" stroke="#1a1a1a" stroke-width="1.45" stroke-linejoin="round"/><polygon points="380.91,416.16 382.65,413.98 384.40,416.16 382.65,418.34" fill="#ddd" stroke="#1a1a1a" stroke-width="1.45" stroke-linejoin="round"/><ellipse cx="388.76" cy="419.65" rx="1.22" ry="5.23" fill="#bbb" stroke="#1a1a1a" stroke-width="1.45"/><polygon points="371.14,421.40 373.06,419.65 374.98,421.40 373.06,423.14" fill="#eee" stroke="#1a1a1a" stroke-width="1.45" stroke-linejoin="round"/><polygon points="363.47,420.53 365.65,416.16 367.39,420.53" fill="#f4f4f4" stroke="#1a1a1a" stroke-width="1.45" stroke-linejoin="round"/><polygon points="380.91,426.19 383.09,424.01 385.27,426.19 383.09,428.37" fill="#2a2a2a" stroke="#1a1a1a" stroke-width="1.45" stroke-linejoin="round"/><polygon points="382.22,426.19 383.09,425.32 383.96,426.19 383.09,427.07" fill="#ccc"/><polygon points="363.90,436.22 366.08,434.30 368.26,436.22 366.08,438.14" fill="#eee" stroke="#1a1a1a" stroke-width="1.45" stroke-linejoin="round"/><polygon points="383.35,437.10 385.27,434.65 387.19,437.10 385.27,439.54" fill="#ddd" stroke="#1a1a1a" stroke-width="1.45" stroke-linejoin="round"/><polygon points="364.34,406.57 366.08,403.95 367.83,406.57 366.08,409.19" fill="#555" stroke="#1a1a1a" stroke-width="1.0" stroke-linejoin="round"/><polygon points="302.98,463.93 306.47,460.44 310.83,459.57 315.19,463.06 318.68,466.55 316.93,469.16 313.44,471.78 309.95,474.40 306.47,476.14 303.85,477.01 301.23,476.14 301.23,472.65 303.85,469.16" fill="#d2d2d2" stroke="#1a1a1a" stroke-width="1.45" stroke-linejoin="round"/><polygon points="334.37,460.44 339.61,458.70 344.84,459.57 346.58,463.93 344.84,468.29 341.35,470.04 337.86,469.16 336.12,465.68" fill="#d0d0d0" stroke="#1a1a1a" stroke-width="1.45" stroke-linejoin="round"/><polygon points="343.10,448.23 345.71,446.49 348.33,451.72 347.46,456.95 345.71,460.44 343.97,456.95 343.10,451.72" fill="#dddddd" stroke="#1a1a1a" stroke-width="1.45" stroke-linejoin="round"/><ellipse cx="328.71" cy="464.37" rx="2.62" ry="3.49" fill="#cccccc" stroke="#1a1a1a" stroke-width="1.45"/><ellipse cx="328.71" cy="471.78" rx="1.57" ry="0.87" fill="#ddd" stroke="#1a1a1a" stroke-width="1.0"/><polyline points="299.49,452.59 302.98,450.85 306.47,448.23 310.83,447.36 314.32,449.11 317.80,448.23 321.29,446.49 324.78,444.74 328.27,445.62 330.89,448.23 333.50,451.72 334.37,455.21" fill="none" stroke="#1a1a1a" stroke-width="1.45" stroke-linejoin="round"/><polyline points="307.34,455.21 310.83,452.59 315.19,451.72 318.68,453.47 322.16,450.85 324.78,453.47 325.65,457.83 324.78,460.44" fill="none" stroke="#1a1a1a" stroke-width="1.45" stroke-linejoin="round"/><polyline points="301.23,460.44 304.72,458.70 308.21,460.44 311.70,459.57 314.32,461.32 316.06,460.44" fill="none" stroke="#1a1a1a" stroke-width="1.45" stroke-linejoin="round"/><polyline points="313.44,476.14 318.68,474.40 322.16,472.65 324.78,470.04 327.40,468.29 330.89,469.16 334.37,471.78 337.86,474.40 342.22,471.78 346.58,470.04 350.07,469.16 354.00,468.29" fill="none" stroke="#1a1a1a" stroke-width="1.45" stroke-linejoin="round"/><polyline points="314.32,479.63 318.68,481.37 323.04,479.63 327.40,477.89 330.89,476.14 334.37,477.89 337.86,479.63 342.22,477.89 346.58,476.14 350.07,474.40 354.00,472.65" fill="none" stroke="#1a1a1a" stroke-width="1.45" stroke-linejoin="round"/><polyline points="299.49,479.63 302.98,479.63 306.47,481.37 309.95,483.99 312.57,488.35 314.32,491.84 315.19,495.33" fill="none" stroke="#1a1a1a" stroke-width="1.45" stroke-linejoin="round"/><polyline points="299.49,483.99 302.98,484.86 305.59,487.48 307.34,491.84 308.21,495.33" fill="none" stroke="#1a1a1a" stroke-width="1.45" stroke-linejoin="round"/><polyline points="333.50,443.00 335.25,446.49 335.25,449.98 334.37,452.59 332.63,448.23 331.76,444.74" fill="none" stroke="#1a1a1a" stroke-width="1.45" stroke-linejoin="round"/><polyline points="322.16,474.40 325.65,477.89 329.14,481.37 332.63,483.99 336.12,481.37 339.61,479.63" fill="none" stroke="#1a1a1a" stroke-width="1.45" stroke-linejoin="round"/><polyline points="323.91,481.37 327.40,479.63 330.89,478.76 334.37,480.50" fill="none" stroke="#1a1a1a" stroke-width="1.45" stroke-linejoin="round"/><polyline points="304.72,443.00 307.34,445.62 309.95,443.87" fill="none" stroke="#1a1a1a" stroke-width="1.45" stroke-linejoin="round"/><polyline points="316.93,443.00 319.55,446.49 322.16,443.87" fill="none" stroke="#1a1a1a" stroke-width="1.45" stroke-linejoin="round"/><polyline points="299.49,464.80 301.23,467.42 300.36,470.91" fill="none" stroke="#1a1a1a" stroke-width="1.45" stroke-linejoin="round"/><polyline points="316.06,484.86 322.16,483.99 325.65,483.12" fill="none" stroke="#1a1a1a" stroke-width="1.45" stroke-linejoin="round"/><polyline points="334.37,488.35 337.86,486.61 341.35,484.86 344.84,483.99" fill="none" stroke="#1a1a1a" stroke-width="1.45" stroke-linejoin="round"/><polygon points="324.78,487.48 329.14,484.86 333.50,487.48 329.14,490.10" fill="#1a1a1a" stroke="#1a1a1a" stroke-width="1.45" stroke-linejoin="round"/><polygon points="316.06,487.48 318.68,485.74 321.29,487.48 318.68,489.22" fill="#cfcfcf" stroke="#1a1a1a" stroke-width="1.45" stroke-linejoin="round"/><ellipse cx="312.57" cy="481.37" rx="0.70" ry="0.70" fill="#333"/><ellipse cx="312.57" cy="462.19" rx="1.22" ry="1.05" fill="#eee" stroke="#1a1a1a" stroke-width="1.1"/><polyline points="377.42,443.00 379.16,448.23 380.91,453.47 382.65,458.70 384.40,460.44 387.89,456.95 389.63,453.47 391.37,449.98 393.12,446.49 394.86,443.00" fill="none" stroke="#1a1a1a" stroke-width="1.45" stroke-linejoin="round"/><polyline points="375.68,443.00 376.55,446.49 379.16,451.72 380.04,456.08 381.78,459.57" fill="none" stroke="#1a1a1a" stroke-width="1.45" stroke-linejoin="round"/><polyline points="393.99,451.72 396.61,449.98 400.10,448.23 403.58,446.49 407.07,444.74" fill="none" stroke="#1a1a1a" stroke-width="1.45" stroke-linejoin="round"/><polyline points="400.10,451.72 403.58,455.21 407.07,456.95" fill="none" stroke="#1a1a1a" stroke-width="1.45" stroke-linejoin="round"/><polyline points="376.55,471.78 378.29,476.14 381.78,479.63 386.14,481.37 389.63,483.99 391.37,487.48 389.63,491.84 387.89,495.33" fill="none" stroke="#1a1a1a" stroke-width="1.45" stroke-linejoin="round"/><polyline points="383.53,476.14 387.89,474.40 391.37,472.65 394.86,470.91 398.35,472.65 400.10,477.89 401.84,482.25 405.33,486.61 407.95,489.22" fill="none" stroke="#1a1a1a" stroke-width="1.45" stroke-linejoin="round"/><polyline points="372.19,495.33 373.06,488.35 376.55,485.74 380.04,483.99 384.40,483.99 387.89,484.86" fill="none" stroke="#1a1a1a" stroke-width="1.45" stroke-linejoin="round"/><polyline points="353.00,472.65 356.49,470.91 359.98,471.78 361.72,472.65 358.23,473.53 354.74,475.27" fill="none" stroke="#1a1a1a" stroke-width="1.45" stroke-linejoin="round"/><polyline points="405.33,464.80 407.07,469.16 408.82,470.91" fill="none" stroke="#1a1a1a" stroke-width="1.45" stroke-linejoin="round"/><polyline points="386.14,443.00 387.89,446.49 389.63,444.74" fill="none" stroke="#1a1a1a" stroke-width="1.45" stroke-linejoin="round"/><polyline points="401.84,491.84 403.58,488.35 406.20,486.61" fill="none" stroke="#1a1a1a" stroke-width="1.45" stroke-linejoin="round"/><polygon points="353.00,488.35 356.49,483.12 359.98,480.50 363.47,481.37 362.59,484.86 359.11,488.35 356.49,491.84 353.00,491.84" fill="#e2e2e2" stroke="#1a1a1a" stroke-width="1.45" stroke-linejoin="round"/><polygon points="381.78,448.23 385.27,446.49 387.01,449.98 384.40,453.47 382.65,451.72" fill="#d6d6d6" stroke="#1a1a1a" stroke-width="1.45" stroke-linejoin="round"/><polygon points="359.54,451.29 361.72,448.67 363.90,451.29 361.72,453.90" fill="#f6f6f6" stroke="#1a1a1a" stroke-width="1.45" stroke-linejoin="round"/><polygon points="364.34,466.55 367.39,463.50 370.44,466.55 367.39,469.60" fill="#222" stroke="#1a1a1a" stroke-width="1.45" stroke-linejoin="round"/><polygon points="366.34,466.55 367.39,465.50 368.44,466.55 367.39,467.59" fill="#bbb"/><polygon points="364.77,477.01 366.95,474.83 369.13,477.01 366.95,479.19" fill="#f6f6f6" stroke="#1a1a1a" stroke-width="1.45" stroke-linejoin="round"/><polygon points="379.16,466.98 383.53,463.06 387.89,466.98 383.53,470.91" fill="#1e1e1e" stroke="#1a1a1a" stroke-width="1.45" stroke-linejoin="round"/><polygon points="382.30,466.98 383.53,465.94 384.75,466.98 383.53,468.03" fill="#bbb"/><polygon points="390.94,460.88 393.99,457.83 397.04,460.88 393.99,463.93" fill="#333" stroke="#1a1a1a" stroke-width="1.45" stroke-linejoin="round"/><polygon points="392.94,460.88 393.99,459.83 395.04,460.88 393.99,461.93" fill="#bbb"/><polygon points="402.28,461.32 405.33,457.83 408.38,461.32 405.33,464.80" fill="#444" stroke="#1a1a1a" stroke-width="1.45" stroke-linejoin="round"/><ellipse cx="393.99" cy="472.65" rx="1.74" ry="1.31" fill="#ddd" stroke="#1a1a1a" stroke-width="1.45"/><ellipse cx="398.35" cy="491.84" rx="2.62" ry="2.62" fill="#e0e0e0" stroke="#1a1a1a" stroke-width="1.45"/><polygon points="374.80,495.33 375.68,488.35 379.16,486.61 382.65,488.35 381.78,495.33" fill="#e4e4e4" stroke="#1a1a1a" stroke-width="1.45" stroke-linejoin="round"/><polyline points="299.46,426.29 304.65,429.74 309.83,433.20 315.02,429.74 320.21,433.20 325.40,430.61 330.58,428.88 335.77,431.47 339.23,429.74 342.69,431.47" fill="none" stroke="#1a1a1a" stroke-width="1.3" stroke-linejoin="round"/><polyline points="301.19,440.11 306.38,436.66 311.56,441.84 316.75,443.57 321.94,440.11 327.13,438.38 332.31,435.79 337.50,433.20 340.96,436.66 344.42,440.11" fill="none" stroke="#1a1a1a" stroke-width="1.3" stroke-linejoin="round"/><polyline points="306.38,447.02 313.29,448.75 318.48,447.02 323.67,443.57 328.85,445.30 334.04,448.75 339.23,447.02 344.42,447.02" fill="none" stroke="#1a1a1a" stroke-width="1.3" stroke-linejoin="round"/><polyline points="302.92,455.66 308.10,452.21 313.29,453.94 318.48,457.39 323.67,455.66 328.85,452.21 334.04,453.94 339.23,457.39 344.42,455.66 347.88,462.58" fill="none" stroke="#1a1a1a" stroke-width="1.3" stroke-linejoin="round"/><polyline points="299.46,434.93 302.92,438.38 306.38,441.84 302.92,445.30 299.46,447.02" fill="none" stroke="#1a1a1a" stroke-width="1.3" stroke-linejoin="round"/><polyline points="313.29,436.66 318.48,434.93 321.94,438.38" fill="none" stroke="#1a1a1a" stroke-width="1.3" stroke-linejoin="round"/><polyline points="299.46,450.48 304.65,449.62 308.10,447.02" fill="none" stroke="#1a1a1a" stroke-width="1.3" stroke-linejoin="round"/><polyline points="308.10,400.37 313.29,398.64 318.48,400.37 321.94,396.91 327.13,398.64" fill="none" stroke="#1a1a1a" stroke-width="1.3" stroke-linejoin="round"/><polyline points="335.77,447.02 338.37,441.84 340.96,436.66" fill="none" stroke="#1a1a1a" stroke-width="1.3" stroke-linejoin="round"/><polyline points="321.94,448.75 325.40,452.21 330.58,450.48" fill="none" stroke="#1a1a1a" stroke-width="1.3" stroke-linejoin="round"/><polyline points="368.63,400.37 372.09,405.55 370.36,410.74 366.90,414.19 370.36,419.38 368.63,424.56 372.09,429.74 377.27,433.20 382.46,438.38 384.19,443.57 387.65,447.02 392.84,450.48 396.29,455.66 399.75,459.12 404.94,460.85" fill="none" stroke="#1a1a1a" stroke-width="1.3" stroke-linejoin="round"/><polyline points="377.27,396.91 382.46,400.37 385.92,405.55 392.84,403.82 399.75,402.10 407.71,405.55" fill="none" stroke="#1a1a1a" stroke-width="1.3" stroke-linejoin="round"/><polyline points="389.38,421.10 396.29,422.83 401.48,426.29 407.71,424.56" fill="none" stroke="#1a1a1a" stroke-width="1.3" stroke-linejoin="round"/><polyline points="399.75,433.20 403.21,438.38 407.71,440.11" fill="none" stroke="#1a1a1a" stroke-width="1.3" stroke-linejoin="round"/><polyline points="385.92,450.48 389.38,455.66 392.84,459.12 398.02,462.58" fill="none" stroke="#1a1a1a" stroke-width="1.3" stroke-linejoin="round"/><polyline points="379.00,462.58 382.46,466.03 387.65,471.22 392.84,472.94 399.75,471.22 406.67,472.94" fill="none" stroke="#1a1a1a" stroke-width="1.3" stroke-linejoin="round"/><polyline points="377.27,471.22 380.73,476.40 385.92,481.58 391.11,486.77 396.29,491.95 401.48,493.68" fill="none" stroke="#1a1a1a" stroke-width="1.3" stroke-linejoin="round"/><polyline points="392.84,479.86 398.02,483.31 403.21,481.58 407.71,483.31" fill="none" stroke="#1a1a1a" stroke-width="1.3" stroke-linejoin="round"/><polyline points="353.06,410.74 356.52,415.92 359.98,421.10 363.44,424.56 366.90,429.74" fill="none" stroke="#1a1a1a" stroke-width="1.3" stroke-linejoin="round"/><polyline points="344.42,415.92 347.88,419.38 353.06,422.83 358.25,426.29 361.71,431.47 365.17,434.93" fill="none" stroke="#1a1a1a" stroke-width="1.3" stroke-linejoin="round"/><polyline points="335.77,400.37 340.96,398.64 347.88,397.78 354.79,400.37 358.25,405.55" fill="none" stroke="#1a1a1a" stroke-width="1.3" stroke-linejoin="round"/>
</svg>
<path d="M299.60,494.70v-2.8M299.60,393.30v2.8M305.15,494.70v-4.8M305.15,393.30v4.8M310.70,494.70v-2.8M310.70,393.30v2.8M316.25,494.70v-2.8M316.25,393.30v2.8M321.80,494.70v-2.8M321.80,393.30v2.8M327.35,494.70v-4.8M327.35,393.30v4.8M332.90,494.70v-2.8M332.90,393.30v2.8M338.45,494.70v-2.8M338.45,393.30v2.8M344.00,494.70v-2.8M344.00,393.30v2.8M349.55,494.70v-4.8M349.55,393.30v4.8M355.10,494.70v-2.8M355.10,393.30v2.8M360.65,494.70v-2.8M360.65,393.30v2.8M366.20,494.70v-2.8M366.20,393.30v2.8M371.75,494.70v-4.8M371.75,393.30v4.8M377.30,494.70v-2.8M377.30,393.30v2.8M382.85,494.70v-2.8M382.85,393.30v2.8M388.40,494.70v-2.8M388.40,393.30v2.8M393.95,494.70v-4.8M393.95,393.30v4.8M399.50,494.70v-2.8M399.50,393.30v2.8M405.05,494.70v-2.8M405.05,393.30v2.8M299.60,494.70h2.8M407.90,494.70h-2.8M299.60,490.64h2.8M407.90,490.64h-2.8M299.60,486.59h2.8M407.90,486.59h-2.8M299.60,482.53h2.8M407.90,482.53h-2.8M299.60,478.48h2.8M407.90,478.48h-2.8M299.60,474.42h4.8M407.90,474.42h-4.8M299.60,470.36h2.8M407.90,470.36h-2.8M299.60,466.31h2.8M407.90,466.31h-2.8M299.60,462.25h2.8M407.90,462.25h-2.8M299.60,458.20h2.8M407.90,458.20h-2.8M299.60,454.14h4.8M407.90,454.14h-4.8M299.60,450.08h2.8M407.90,450.08h-2.8M299.60,446.03h2.8M407.90,446.03h-2.8M299.60,441.97h2.8M407.90,441.97h-2.8M299.60,437.92h2.8M407.90,437.92h-2.8M299.60,433.86h4.8M407.90,433.86h-4.8M299.60,429.80h2.8M407.90,429.80h-2.8M299.60,425.75h2.8M407.90,425.75h-2.8M299.60,421.69h2.8M407.90,421.69h-2.8M299.60,417.64h2.8M407.90,417.64h-2.8M299.60,413.58h4.8M407.90,413.58h-4.8M299.60,409.52h2.8M407.90,409.52h-2.8M299.60,405.47h2.8M407.90,405.47h-2.8M299.60,401.41h2.8M407.90,401.41h-2.8M299.60,397.36h2.8M407.90,397.36h-2.8M299.60,393.30h2.8M407.90,393.30h-2.8" stroke="#222" stroke-width="0.9" fill="none"/>
<rect x="299.60" y="393.30" width="108.3" height="101.4" fill="none" stroke="#1a1a1a" stroke-width="1.1"/>
<path d="M427.70,494.70L427.70,440.42L433.11,440.42L433.11,427.60L438.53,427.60L438.53,439.15L443.94,439.15L443.94,435.54L449.36,435.54L449.36,437.71L454.77,437.71L454.77,437.35L460.19,437.35L460.19,441.32L465.60,441.32L465.60,452.33L471.02,452.33L471.02,447.27L476.43,447.27L476.43,443.30L481.85,443.30L481.85,441.32L487.26,441.32L487.26,429.40L492.68,429.40L492.68,440.60L498.09,440.60L498.09,415.32L503.51,415.32L503.51,402.51L508.92,402.51L508.92,409.01L514.34,409.01L514.34,418.21L519.75,418.21L519.75,417.49L525.17,417.49L525.17,459.37L530.58,459.37L530.58,462.98L536.00,462.98L536.00,494.70" stroke="#333" stroke-width="1.15" fill="none" stroke-linejoin="miter"/>
<path d="M427.70,494.70v-2.8M427.70,393.30v2.8M432.03,494.70v-2.8M432.03,393.30v2.8M436.36,494.70v-2.8M436.36,393.30v2.8M440.70,494.70v-2.8M440.70,393.30v2.8M445.03,494.70v-2.8M445.03,393.30v2.8M449.36,494.70v-4.8M449.36,393.30v4.8M453.69,494.70v-2.8M453.69,393.30v2.8M458.02,494.70v-2.8M458.02,393.30v2.8M462.36,494.70v-2.8M462.36,393.30v2.8M466.69,494.70v-2.8M466.69,393.30v2.8M471.02,494.70v-4.8M471.02,393.30v4.8M475.35,494.70v-2.8M475.35,393.30v2.8M479.68,494.70v-2.8M479.68,393.30v2.8M484.02,494.70v-2.8M484.02,393.30v2.8M488.35,494.70v-2.8M488.35,393.30v2.8M492.68,494.70v-4.8M492.68,393.30v4.8M497.01,494.70v-2.8M497.01,393.30v2.8M501.34,494.70v-2.8M501.34,393.30v2.8M505.68,494.70v-2.8M505.68,393.30v2.8M510.01,494.70v-2.8M510.01,393.30v2.8M514.34,494.70v-4.8M514.34,393.30v4.8M518.67,494.70v-2.8M518.67,393.30v2.8M523.00,494.70v-2.8M523.00,393.30v2.8M527.34,494.70v-2.8M527.34,393.30v2.8M531.67,494.70v-2.8M531.67,393.30v2.8M536.00,494.70v-2.8M536.00,393.30v2.8" stroke="#222" stroke-width="0.9" fill="none"/>
<rect x="427.70" y="393.30" width="108.3" height="101.4" fill="none" stroke="#1a1a1a" stroke-width="1.1"/>
<svg x="43.40" y="519.40" width="108.3" height="101.4" viewBox="43.40 519.40 108.3 101.4" overflow="hidden">
<circle cx="78.5" cy="534.4" r="0.45" fill="#b0b0b0"/><circle cx="113.9" cy="526.5" r="0.45" fill="#b0b0b0"/><circle cx="101.5" cy="556.2" r="0.45" fill="#b0b0b0"/><circle cx="49.7" cy="570.6" r="0.45" fill="#b0b0b0"/><circle cx="47.5" cy="563.1" r="0.45" fill="#b0b0b0"/><circle cx="51.0" cy="528.3" r="0.45" fill="#b0b0b0"/><circle cx="89.4" cy="603.0" r="0.45" fill="#b0b0b0"/><circle cx="56.9" cy="541.8" r="0.45" fill="#b0b0b0"/><circle cx="111.4" cy="615.2" r="0.45" fill="#b0b0b0"/><circle cx="105.9" cy="559.3" r="0.45" fill="#b0b0b0"/><circle cx="149.1" cy="523.8" r="0.45" fill="#b0b0b0"/><circle cx="136.4" cy="548.5" r="0.45" fill="#b0b0b0"/><circle cx="59.1" cy="531.1" r="0.45" fill="#b0b0b0"/><circle cx="76.9" cy="601.9" r="0.45" fill="#b0b0b0"/><circle cx="63.0" cy="578.1" r="0.45" fill="#b0b0b0"/><circle cx="112.6" cy="556.9" r="0.45" fill="#b0b0b0"/><circle cx="102.8" cy="525.5" r="0.45" fill="#b0b0b0"/><circle cx="49.9" cy="540.0" r="0.45" fill="#b0b0b0"/><circle cx="117.1" cy="562.5" r="0.45" fill="#b0b0b0"/><circle cx="77.5" cy="578.5" r="0.45" fill="#b0b0b0"/><circle cx="92.5" cy="549.5" r="0.45" fill="#b0b0b0"/><circle cx="129.4" cy="590.0" r="0.45" fill="#b0b0b0"/><circle cx="69.9" cy="577.4" r="0.45" fill="#b0b0b0"/><circle cx="100.3" cy="607.9" r="0.45" fill="#b0b0b0"/><circle cx="122.4" cy="548.3" r="0.45" fill="#b0b0b0"/><circle cx="149.6" cy="531.1" r="0.45" fill="#b0b0b0"/><circle cx="88.7" cy="595.9" r="0.45" fill="#b0b0b0"/><circle cx="59.9" cy="568.7" r="0.45" fill="#b0b0b0"/><circle cx="47.7" cy="586.9" r="0.45" fill="#b0b0b0"/><circle cx="126.2" cy="577.2" r="0.45" fill="#b0b0b0"/><circle cx="138.2" cy="550.9" r="0.45" fill="#b0b0b0"/><circle cx="118.7" cy="579.4" r="0.45" fill="#b0b0b0"/><circle cx="106.2" cy="565.4" r="0.45" fill="#b0b0b0"/><circle cx="134.4" cy="614.9" r="0.45" fill="#b0b0b0"/><circle cx="94.8" cy="586.5" r="0.45" fill="#b0b0b0"/><circle cx="50.0" cy="590.3" r="0.45" fill="#b0b0b0"/><circle cx="113.5" cy="619.8" r="0.45" fill="#b0b0b0"/><circle cx="132.4" cy="548.0" r="0.45" fill="#b0b0b0"/><circle cx="85.2" cy="586.9" r="0.45" fill="#b0b0b0"/><circle cx="45.9" cy="565.9" r="0.45" fill="#b0b0b0"/><circle cx="61.6" cy="531.0" r="0.45" fill="#b0b0b0"/><circle cx="49.8" cy="597.0" r="0.45" fill="#b0b0b0"/><circle cx="57.5" cy="544.2" r="0.45" fill="#b0b0b0"/><circle cx="85.8" cy="607.5" r="0.45" fill="#b0b0b0"/><circle cx="52.2" cy="564.7" r="0.45" fill="#b0b0b0"/><circle cx="102.9" cy="608.7" r="0.45" fill="#b0b0b0"/><circle cx="132.1" cy="606.7" r="0.45" fill="#b0b0b0"/><circle cx="73.6" cy="561.2" r="0.45" fill="#b0b0b0"/><circle cx="82.3" cy="608.8" r="0.45" fill="#b0b0b0"/><circle cx="147.1" cy="534.4" r="0.45" fill="#b0b0b0"/><circle cx="62.5" cy="542.6" r="0.45" fill="#b0b0b0"/><circle cx="68.7" cy="568.3" r="0.45" fill="#b0b0b0"/><circle cx="107.2" cy="545.8" r="0.45" fill="#b0b0b0"/><circle cx="43.9" cy="561.6" r="0.45" fill="#b0b0b0"/><circle cx="83.4" cy="576.6" r="0.45" fill="#b0b0b0"/><circle cx="146.6" cy="589.2" r="0.45" fill="#b0b0b0"/><circle cx="99.3" cy="581.8" r="0.45" fill="#b0b0b0"/><circle cx="116.7" cy="524.6" r="0.45" fill="#b0b0b0"/><circle cx="140.8" cy="598.2" r="0.45" fill="#b0b0b0"/><circle cx="138.1" cy="600.0" r="0.45" fill="#b0b0b0"/><circle cx="85.9" cy="559.6" r="0.45" fill="#b0b0b0"/><circle cx="54.7" cy="583.4" r="0.45" fill="#b0b0b0"/><circle cx="50.2" cy="525.9" r="0.45" fill="#b0b0b0"/><circle cx="66.1" cy="535.6" r="0.45" fill="#b0b0b0"/><circle cx="80.3" cy="524.4" r="0.45" fill="#b0b0b0"/><circle cx="43.5" cy="534.5" r="0.45" fill="#b0b0b0"/><circle cx="54.4" cy="556.0" r="0.45" fill="#b0b0b0"/><circle cx="46.2" cy="607.8" r="0.45" fill="#b0b0b0"/><circle cx="109.9" cy="534.2" r="0.45" fill="#b0b0b0"/><circle cx="70.8" cy="554.3" r="0.45" fill="#b0b0b0"/><circle cx="82.9" cy="531.6" r="0.45" fill="#b0b0b0"/><circle cx="135.4" cy="619.8" r="0.45" fill="#b0b0b0"/><circle cx="93.9" cy="568.2" r="0.45" fill="#b0b0b0"/><circle cx="52.8" cy="529.5" r="0.45" fill="#b0b0b0"/><circle cx="80.5" cy="546.0" r="0.45" fill="#b0b0b0"/><circle cx="133.2" cy="535.5" r="0.45" fill="#b0b0b0"/><circle cx="46.0" cy="615.6" r="0.45" fill="#b0b0b0"/><circle cx="100.6" cy="534.0" r="0.45" fill="#b0b0b0"/><circle cx="102.3" cy="521.9" r="0.45" fill="#b0b0b0"/><circle cx="100.6" cy="618.4" r="0.45" fill="#b0b0b0"/><circle cx="136.9" cy="589.7" r="0.45" fill="#b0b0b0"/><circle cx="71.7" cy="556.3" r="0.45" fill="#b0b0b0"/><circle cx="61.5" cy="597.4" r="0.45" fill="#b0b0b0"/><circle cx="101.1" cy="598.1" r="0.45" fill="#b0b0b0"/><circle cx="79.1" cy="541.7" r="0.45" fill="#b0b0b0"/><circle cx="131.3" cy="619.0" r="0.45" fill="#b0b0b0"/><circle cx="135.8" cy="600.9" r="0.45" fill="#b0b0b0"/><circle cx="132.0" cy="594.2" r="0.45" fill="#b0b0b0"/><circle cx="68.0" cy="571.6" r="0.45" fill="#b0b0b0"/><circle cx="81.9" cy="522.0" r="0.45" fill="#b0b0b0"/><circle cx="46.5" cy="547.5" r="0.45" fill="#b0b0b0"/><circle cx="71.5" cy="589.4" r="0.45" fill="#b0b0b0"/><circle cx="147.0" cy="564.5" r="0.45" fill="#b0b0b0"/><circle cx="144.9" cy="619.3" r="0.45" fill="#b0b0b0"/><circle cx="146.8" cy="556.1" r="0.45" fill="#b0b0b0"/><circle cx="67.3" cy="542.1" r="0.45" fill="#b0b0b0"/><circle cx="64.8" cy="539.8" r="0.45" fill="#b0b0b0"/><circle cx="111.0" cy="610.4" r="0.45" fill="#b0b0b0"/><circle cx="134.4" cy="567.7" r="0.45" fill="#b0b0b0"/><circle cx="114.1" cy="600.2" r="0.45" fill="#b0b0b0"/><circle cx="52.6" cy="586.1" r="0.45" fill="#b0b0b0"/><circle cx="141.9" cy="598.5" r="0.45" fill="#b0b0b0"/><circle cx="124.7" cy="567.6" r="0.45" fill="#b0b0b0"/><circle cx="62.8" cy="599.2" r="0.45" fill="#b0b0b0"/><circle cx="79.5" cy="600.3" r="0.45" fill="#b0b0b0"/><circle cx="148.6" cy="559.3" r="0.45" fill="#b0b0b0"/><circle cx="86.9" cy="615.1" r="0.45" fill="#b0b0b0"/><circle cx="121.9" cy="536.4" r="0.45" fill="#b0b0b0"/><circle cx="57.2" cy="534.4" r="0.45" fill="#b0b0b0"/><circle cx="141.4" cy="600.9" r="0.45" fill="#b0b0b0"/><circle cx="59.3" cy="602.9" r="0.45" fill="#b0b0b0"/><circle cx="149.6" cy="585.8" r="0.45" fill="#b0b0b0"/><circle cx="81.4" cy="574.8" r="0.45" fill="#b0b0b0"/><circle cx="57.6" cy="520.6" r="0.45" fill="#b0b0b0"/><circle cx="148.6" cy="585.0" r="0.45" fill="#b0b0b0"/><circle cx="100.5" cy="613.8" r="0.45" fill="#b0b0b0"/><circle cx="90.4" cy="607.5" r="0.45" fill="#b0b0b0"/><circle cx="132.9" cy="540.5" r="0.45" fill="#b0b0b0"/><circle cx="70.7" cy="548.8" r="0.45" fill="#b0b0b0"/><circle cx="69.5" cy="578.6" r="0.45" fill="#b0b0b0"/><circle cx="71.5" cy="561.6" r="0.45" fill="#b0b0b0"/><circle cx="57.6" cy="611.4" r="0.45" fill="#b0b0b0"/><circle cx="81.8" cy="565.6" r="0.45" fill="#b0b0b0"/><circle cx="106.6" cy="610.8" r="0.45" fill="#b0b0b0"/><circle cx="89.0" cy="612.2" r="0.45" fill="#b0b0b0"/><circle cx="97.8" cy="573.1" r="0.45" fill="#b0b0b0"/><circle cx="100.1" cy="521.0" r="0.45" fill="#b0b0b0"/><circle cx="91.1" cy="537.7" r="0.45" fill="#b0b0b0"/><circle cx="43.9" cy="600.2" r="0.45" fill="#b0b0b0"/><circle cx="62.1" cy="567.1" r="0.45" fill="#b0b0b0"/><polygon points="64.21,529.82 71.13,525.50 74.58,522.91 81.50,523.78 84.96,526.37 87.55,522.91 91.88,521.18 97.06,522.91 100.52,521.18 105.71,520.32 109.17,517.73 134.24,517.73 135.97,522.91 133.38,528.10 136.84,531.55 140.29,535.01 142.02,540.19 138.56,545.38 140.29,550.56 143.75,554.02 140.29,559.20 142.02,564.38 145.48,571.30 142.02,576.48 138.56,581.66 135.97,586.85 134.24,592.03 136.84,597.22 131.65,600.67 128.19,604.13 124.73,607.58 121.27,611.90 117.81,609.31 110.90,607.58 105.71,610.18 102.25,605.86 98.79,602.40 97.06,597.22 93.61,593.76 91.88,600.67 90.15,605.86 86.69,610.18 79.77,609.31 74.58,607.58 69.40,605.86 65.94,603.26 61.62,598.94 59.02,593.76 55.56,587.71 59.02,584.26 60.75,578.21 58.16,571.30 59.02,566.11 62.48,560.93 59.89,555.74 62.48,550.56 59.02,543.65 60.75,538.46 64.21,533.28" fill="#e9e9e9"/><polygon points="64.86,542.16 70.53,535.19 74.01,529.95 83.61,523.85 87.53,526.90 80.99,530.83 78.37,533.44 76.63,536.93 73.14,539.55 69.65,541.29" fill="#f8f8f8" stroke="#1a1a1a" stroke-width="1.3" stroke-linejoin="round"/><polygon points="85.35,529.95 88.84,526.47 92.33,525.59 98.00,524.72 109.77,521.23 118.49,524.72 122.85,542.16 118.49,559.61 109.77,569.99 88.84,569.99 87.10,564.84 85.35,559.61 81.86,556.99 76.63,556.12 74.89,552.63 73.14,547.40 73.14,542.16 76.63,540.42 80.99,542.16 83.61,545.65 87.10,543.91 87.97,540.42 84.48,537.80 82.74,535.19 83.61,532.57" fill="#d6d6d6"/><polyline points="98.00,524.72 92.33,525.59 88.84,526.47 85.35,529.95 83.61,532.57 82.74,535.19 84.48,537.80 87.97,540.42 87.10,543.91 83.61,545.65 80.99,542.16 76.63,540.42 73.14,542.16 73.14,547.40 74.89,552.63 76.63,556.12 81.86,556.99 85.35,559.61 87.10,564.84 88.84,569.99" fill="none" stroke="#1a1a1a" stroke-width="1.3" stroke-linejoin="round"/><polygon points="65.29,546.53 67.91,545.65 69.65,547.40 70.53,552.63 71.40,556.99 74.01,556.99 74.89,552.63 73.14,547.40" fill="none" stroke="#1a1a1a" stroke-width="1.3" stroke-linejoin="round"/><polygon points="77.50,548.27 78.37,546.53 80.12,550.01 83.61,550.89 87.10,550.01 88.84,547.40 89.71,549.14 87.97,552.63 83.61,554.37 80.12,553.50 78.37,551.76" fill="#c0c0c0" stroke="#1a1a1a" stroke-width="1.3" stroke-linejoin="round"/><ellipse cx="79.25" cy="562.66" rx="5.67" ry="3.92" fill="#9a9a9a" stroke="#1a1a1a" stroke-width="1.3"/><ellipse cx="78.81" cy="562.66" rx="3.92" ry="2.44" fill="#1e1e1e"/><polygon points="86.22,537.37 88.84,535.80 91.46,537.37 88.84,538.94" fill="#f4f4f4" stroke="#1a1a1a" stroke-width="1.3" stroke-linejoin="round"/><ellipse cx="94.51" cy="541.73" rx="0.87" ry="0.87" fill="#333"/><polyline points="94.95,546.53 94.95,554.37" fill="none" stroke="#1a1a1a" stroke-width="1.3" stroke-linejoin="round"/><ellipse cx="94.95" cy="546.96" rx="0.70" ry="0.70" fill="#333"/><polyline points="73.14,519.49 68.78,524.72 64.42,529.95 60.06,536.06 59.62,542.16 61.80,549.14 63.55,553.50 65.29,558.74 64.42,563.10 61.80,564.84 59.19,567.46 60.93,569.99" fill="none" stroke="#1a1a1a" stroke-width="1.3" stroke-linejoin="round"/><polyline points="88.84,564.84 94.07,561.35 98.00,563.10" fill="none" stroke="#1a1a1a" stroke-width="1.3" stroke-linejoin="round"/><polyline points="90.58,568.76 94.07,566.58 98.00,568.33" fill="none" stroke="#1a1a1a" stroke-width="1.3" stroke-linejoin="round"/><polyline points="85.35,569.99 88.84,564.84" fill="none" stroke="#1a1a1a" stroke-width="1.3" stroke-linejoin="round"/><polyline points="92.33,537.80 95.82,535.19 98.00,533.44" fill="none" stroke="#1a1a1a" stroke-width="1.3" stroke-linejoin="round"/><ellipse cx="78.37" cy="521.23" rx="2.18" ry="1.74" fill="#f4f4f4" stroke="#1a1a1a" stroke-width="1.1"/><ellipse cx="89.71" cy="522.11" rx="2.18" ry="1.92" fill="#f4f4f4" stroke="#1a1a1a" stroke-width="1.1"/><polygon points="106.59,526.47 112.70,523.85 119.68,522.98 125.78,524.72 128.40,528.21 125.78,530.83 121.42,532.57 117.93,534.32 114.44,536.06 110.95,535.19 108.34,530.83" fill="#b6b6b6" stroke="#1a1a1a" stroke-width="1.3" stroke-linejoin="round"/><ellipse cx="116.19" cy="529.08" rx="2.18" ry="3.49" fill="#808080" stroke="#1a1a1a" stroke-width="1.1"/><polygon points="115.32,541.29 119.68,540.42 124.91,541.29 126.65,543.04 123.16,545.65 119.68,547.40 117.06,544.78" fill="#555" stroke="#1a1a1a" stroke-width="1.3" stroke-linejoin="round"/><ellipse cx="120.55" cy="542.60" rx="2.18" ry="1.31" fill="#111"/><polygon points="98.74,531.70 102.23,530.83 104.85,533.44 107.47,538.68 108.34,542.16 104.85,543.04 101.36,540.42 99.62,536.06" fill="#f8f8f8" stroke="#1a1a1a" stroke-width="1.3" stroke-linejoin="round"/><polyline points="137.12,519.49 137.99,524.72 135.37,529.08 131.89,531.70 135.37,534.32 138.86,538.68 143.22,542.16 141.48,546.53 140.61,550.89 138.86,554.37 142.35,557.86 144.97,561.35 142.35,564.84 139.74,568.33 138.86,569.99" fill="none" stroke="#1a1a1a" stroke-width="1.3" stroke-linejoin="round"/><polyline points="126.65,530.83 131.89,532.57 136.25,536.06 138.86,538.68" fill="none" stroke="#1a1a1a" stroke-width="1.3" stroke-linejoin="round"/><polyline points="131.89,519.49 133.63,522.98 131.89,527.34 129.27,529.95 125.78,531.70 121.42,533.44 116.19,535.19 112.70,536.93" fill="none" stroke="#1a1a1a" stroke-width="1.3" stroke-linejoin="round"/><polyline points="97.00,524.72 100.49,526.47 104.85,525.59 109.21,522.98 110.95,519.49" fill="none" stroke="#1a1a1a" stroke-width="1.3" stroke-linejoin="round"/><polyline points="97.00,545.65 99.62,547.40 102.23,545.65 104.85,549.14 107.47,550.89 110.08,554.37 114.44,556.12 117.93,553.50 119.68,550.89" fill="none" stroke="#1a1a1a" stroke-width="1.3" stroke-linejoin="round"/><polyline points="114.44,563.10 119.68,564.84 124.91,563.10 128.40,563.97 126.65,566.58 123.16,568.33 119.68,569.99" fill="none" stroke="#1a1a1a" stroke-width="1.3" stroke-linejoin="round"/><polyline points="128.40,546.53 131.89,546.53" fill="none" stroke="#1a1a1a" stroke-width="1.3" stroke-linejoin="round"/><polyline points="97.00,557.86 100.49,556.99 103.98,558.74 107.47,556.99 110.95,558.74 114.44,557.86" fill="none" stroke="#1a1a1a" stroke-width="1.3" stroke-linejoin="round"/><polyline points="112.70,537.80 114.44,539.55" fill="none" stroke="#1a1a1a" stroke-width="1.3" stroke-linejoin="round"/><polygon points="129.27,552.19 131.89,549.58 134.50,552.19 131.89,554.81" fill="#888" stroke="#1a1a1a" stroke-width="1.3" stroke-linejoin="round"/><polygon points="119.68,551.76 124.91,551.76 122.29,555.25" fill="#555" stroke="#1a1a1a" stroke-width="1.3" stroke-linejoin="round"/><ellipse cx="110.95" cy="552.19" rx="1.57" ry="1.92" fill="#555" stroke="#1a1a1a" stroke-width="1.0"/><polygon points="104.41,552.63 105.72,549.14 107.03,552.63" fill="#333" stroke="#1a1a1a" stroke-width="1.0" stroke-linejoin="round"/><ellipse cx="100.49" cy="551.76" rx="0.87" ry="1.74" fill="#555"/><polygon points="98.31,562.22 100.49,560.48 102.67,562.22 100.49,563.97" fill="#f4f4f4" stroke="#1a1a1a" stroke-width="1.3" stroke-linejoin="round"/><polygon points="103.98,564.84 105.72,561.35 107.47,564.84" fill="#eee" stroke="#1a1a1a" stroke-width="1.3" stroke-linejoin="round"/><polygon points="108.77,562.22 110.95,560.48 113.13,562.22 110.95,563.97" fill="#eee" stroke="#1a1a1a" stroke-width="1.3" stroke-linejoin="round"/><ellipse cx="100.49" cy="531.70" rx="1.31" ry="0.87" fill="#444"/><polyline points="60.93,569.00 64.42,572.49 67.91,577.72 66.16,582.95 61.80,587.32 57.44,582.95 54.83,585.57 54.39,587.32 57.44,588.62 61.80,587.75 64.42,591.68 62.68,594.29 59.19,597.78 58.32,602.14 61.80,606.50 66.16,603.89 69.65,599.53 70.53,596.91" fill="none" stroke="#1a1a1a" stroke-width="1.3" stroke-linejoin="round"/><polyline points="67.91,608.25 73.14,609.99 78.37,611.74 83.61,610.86 88.84,609.12 92.33,605.63 95.82,602.14 98.00,600.40" fill="none" stroke="#1a1a1a" stroke-width="1.3" stroke-linejoin="round"/><polyline points="76.63,572.49 81.86,573.36 87.10,575.98 90.58,574.23 94.07,572.49 98.00,571.62" fill="none" stroke="#1a1a1a" stroke-width="1.3" stroke-linejoin="round"/><polyline points="87.10,591.68 92.33,596.91 98.00,600.40" fill="none" stroke="#1a1a1a" stroke-width="1.3" stroke-linejoin="round"/><polyline points="66.16,569.00 67.91,572.49 69.65,575.98" fill="none" stroke="#1a1a1a" stroke-width="1.3" stroke-linejoin="round"/><polygon points="59.62,602.14 60.93,597.78 66.16,594.29 69.65,596.04 70.53,598.65 66.16,603.89 61.80,605.63" fill="#9a9a9a" stroke="#1a1a1a" stroke-width="1.3" stroke-linejoin="round"/><ellipse cx="67.04" cy="597.78" rx="0.70" ry="0.70" fill="#222"/><polygon points="70.53,593.42 73.14,590.80 76.63,593.42 78.37,598.65 79.25,603.89 74.89,607.37 68.78,608.25" fill="#ececec" stroke="#1a1a1a" stroke-width="1.3" stroke-linejoin="round"/><polygon points="80.99,591.68 83.61,588.19 87.10,591.68 87.97,596.91 86.22,603.89 84.48,607.37 81.86,602.14 80.99,596.91" fill="#c2c2c2" stroke="#1a1a1a" stroke-width="1.3" stroke-linejoin="round"/><polygon points="70.53,579.47 73.14,573.36 75.76,579.47 73.14,585.57" fill="#d0d0d0" stroke="#1a1a1a" stroke-width="1.3" stroke-linejoin="round"/><ellipse cx="73.14" cy="577.72" rx="1.22" ry="1.74" fill="#888"/><polygon points="80.12,582.08 83.61,581.21 92.33,581.21 88.84,584.70 83.61,586.44" fill="#c8c8c8" stroke="#1a1a1a" stroke-width="1.3" stroke-linejoin="round"/><polygon points="85.35,588.19 92.33,586.44 88.84,592.55" fill="#f4f4f4" stroke="#1a1a1a" stroke-width="1.3" stroke-linejoin="round"/><polygon points="92.33,574.23 95.82,572.49 97.56,577.72 94.07,579.47" fill="#f4f4f4" stroke="#1a1a1a" stroke-width="1.3" stroke-linejoin="round"/><polygon points="77.50,575.98 83.61,575.11 88.84,578.59 80.99,579.47" fill="#f4f4f4" stroke="#1a1a1a" stroke-width="1.3" stroke-linejoin="round"/><ellipse cx="97.56" cy="587.75" rx="0.70" ry="0.70" fill="#222"/><polygon points="110.08,569.00 123.16,569.00 124.91,574.23 124.04,579.47 121.42,582.08 117.06,580.34 113.57,577.72 111.83,574.23" fill="#b0b0b0" stroke="#1a1a1a" stroke-width="1.3" stroke-linejoin="round"/><polyline points="97.00,582.95 100.49,580.34 103.11,577.72 101.36,572.49 105.72,570.74 108.34,569.00" fill="none" stroke="#1a1a1a" stroke-width="1.3" stroke-linejoin="round"/><polyline points="120.55,569.00 122.29,572.49 126.65,574.23 128.40,578.59 125.78,582.95 127.53,588.19 130.14,591.68 132.76,595.16 135.37,597.78 137.99,602.14 135.37,603.89 131.89,604.76 129.27,605.63 125.78,607.37 122.29,611.74 118.80,608.25 114.44,603.89 110.95,601.27 107.47,605.63 105.72,609.99 102.23,607.37 98.74,604.76 97.00,602.14" fill="none" stroke="#1a1a1a" stroke-width="1.3" stroke-linejoin="round"/><polyline points="142.35,572.49 144.97,574.23 142.35,579.47 137.99,582.95 134.50,586.44 131.89,589.06 133.63,592.55 134.50,595.16 137.99,602.14" fill="none" stroke="#1a1a1a" stroke-width="1.3" stroke-linejoin="round"/><polyline points="130.14,572.49 133.63,575.98 135.37,579.47 131.89,580.34 128.40,579.47" fill="none" stroke="#1a1a1a" stroke-width="1.3" stroke-linejoin="round"/><polyline points="98.74,590.80 102.23,592.55 105.72,591.68 107.47,593.42" fill="none" stroke="#1a1a1a" stroke-width="1.3" stroke-linejoin="round"/><polyline points="100.49,594.29 103.98,595.16 106.59,593.42" fill="none" stroke="#1a1a1a" stroke-width="1.3" stroke-linejoin="round"/><polygon points="113.13,588.62 116.62,584.26 120.11,588.62 116.62,592.98" fill="#888" stroke="#1a1a1a" stroke-width="1.3" stroke-linejoin="round"/><polygon points="115.23,588.62 116.62,586.88 118.02,588.62 116.62,590.37" fill="#444"/><ellipse cx="103.98" cy="587.32" rx="2.62" ry="1.31" fill="#eee" stroke="#1a1a1a" stroke-width="1.3"/><polygon points="109.21,597.78 114.44,596.04 112.70,598.65" fill="#eee" stroke="#1a1a1a" stroke-width="1.3" stroke-linejoin="round"/><polygon points="123.16,598.65 127.53,596.91 126.65,600.40" fill="#eee" stroke="#1a1a1a" stroke-width="1.3" stroke-linejoin="round"/><polygon points="119.41,603.01 121.86,601.44 124.30,603.01 121.86,604.58" fill="#eee" stroke="#1a1a1a" stroke-width="1.3" stroke-linejoin="round"/><ellipse cx="121.42" cy="608.25" rx="1.22" ry="1.05" fill="#444"/><polygon points="104.41,603.89 105.72,601.27 107.03,603.89" fill="#333"/><ellipse cx="105.72" cy="577.72" rx="1.05" ry="1.05" fill="#444"/><ellipse cx="100.49" cy="572.49" rx="1.05" ry="1.05" fill="#444"/><polygon points="131.01,572.49 132.32,569.87 133.63,572.49 132.32,575.11" fill="#f4f4f4" stroke="#1a1a1a" stroke-width="1.3" stroke-linejoin="round"/><polygon points="64.21,529.82 71.13,525.50 74.58,522.91 81.50,523.78 84.96,526.37 87.55,522.91 91.88,521.18 97.06,522.91 100.52,521.18 105.71,520.32 109.17,517.73 134.24,517.73 135.97,522.91 133.38,528.10 136.84,531.55 140.29,535.01 142.02,540.19 138.56,545.38 140.29,550.56 143.75,554.02 140.29,559.20 142.02,564.38 145.48,571.30 142.02,576.48 138.56,581.66 135.97,586.85 134.24,592.03 136.84,597.22 131.65,600.67 128.19,604.13 124.73,607.58 121.27,611.90 117.81,609.31 110.90,607.58 105.71,610.18 102.25,605.86 98.79,602.40 97.06,597.22 93.61,593.76 91.88,600.67 90.15,605.86 86.69,610.18 79.77,609.31 74.58,607.58 69.40,605.86 65.94,603.26 61.62,598.94 59.02,593.76 55.56,587.71 59.02,584.26 60.75,578.21 58.16,571.30 59.02,566.11 62.48,560.93 59.89,555.74 62.48,550.56 59.02,543.65 60.75,538.46 64.21,533.28" fill="none" stroke="#1a1a1a" stroke-width="1.25" stroke-linejoin="round"/>
</svg>
<path d="M48.60,620.80v-4.8M48.60,519.40v4.8M54.97,620.80v-2.8M54.97,519.40v2.8M61.35,620.80v-2.8M61.35,519.40v2.8M67.72,620.80v-2.8M67.72,519.40v2.8M74.10,620.80v-4.8M74.10,519.40v4.8M80.47,620.80v-2.8M80.47,519.40v2.8M86.85,620.80v-2.8M86.85,519.40v2.8M93.22,620.80v-2.8M93.22,519.40v2.8M99.60,620.80v-4.8M99.60,519.40v4.8M105.97,620.80v-2.8M105.97,519.40v2.8M112.35,620.80v-2.8M112.35,519.40v2.8M118.72,620.80v-2.8M118.72,519.40v2.8M125.10,620.80v-4.8M125.10,519.40v4.8M131.47,620.80v-2.8M131.47,519.40v2.8M137.85,620.80v-2.8M137.85,519.40v2.8M144.22,620.80v-2.8M144.22,519.40v2.8M150.60,620.80v-4.8M150.60,519.40v4.8M43.40,615.64h2.8M151.70,615.64h-2.8M43.40,609.19h2.8M151.70,609.19h-2.8M43.40,602.74h2.8M151.70,602.74h-2.8M43.40,596.29h4.8M151.70,596.29h-4.8M43.40,589.84h2.8M151.70,589.84h-2.8M43.40,583.39h2.8M151.70,583.39h-2.8M43.40,576.94h2.8M151.70,576.94h-2.8M43.40,570.49h4.8M151.70,570.49h-4.8M43.40,564.04h2.8M151.70,564.04h-2.8M43.40,557.59h2.8M151.70,557.59h-2.8M43.40,551.14h2.8M151.70,551.14h-2.8M43.40,544.69h4.8M151.70,544.69h-4.8M43.40,538.24h2.8M151.70,538.24h-2.8M43.40,531.78h2.8M151.70,531.78h-2.8M43.40,525.33h2.8M151.70,525.33h-2.8" stroke="#222" stroke-width="0.9" fill="none"/>
<rect x="43.40" y="519.40" width="108.3" height="101.4" fill="none" stroke="#1a1a1a" stroke-width="1.1"/>
<svg x="171.50" y="519.40" width="108.3" height="101.4" viewBox="171.50 519.40 108.3 101.4" overflow="hidden">
<circle cx="222.7" cy="616.7" r="0.45" fill="#b8b8b8"/><circle cx="215.3" cy="590.6" r="0.45" fill="#b8b8b8"/><circle cx="212.3" cy="544.2" r="0.45" fill="#b8b8b8"/><circle cx="279.6" cy="540.4" r="0.45" fill="#b8b8b8"/><circle cx="253.3" cy="565.7" r="0.45" fill="#b8b8b8"/><circle cx="239.4" cy="569.3" r="0.45" fill="#b8b8b8"/><circle cx="220.2" cy="603.4" r="0.45" fill="#b8b8b8"/><circle cx="212.6" cy="542.9" r="0.45" fill="#b8b8b8"/><circle cx="207.5" cy="546.2" r="0.45" fill="#b8b8b8"/><circle cx="236.1" cy="610.6" r="0.45" fill="#b8b8b8"/><circle cx="234.0" cy="530.6" r="0.45" fill="#b8b8b8"/><circle cx="225.1" cy="619.7" r="0.45" fill="#b8b8b8"/><circle cx="210.7" cy="582.0" r="0.45" fill="#b8b8b8"/><circle cx="233.8" cy="586.1" r="0.45" fill="#b8b8b8"/><circle cx="231.0" cy="589.2" r="0.45" fill="#b8b8b8"/><circle cx="242.7" cy="585.0" r="0.45" fill="#b8b8b8"/><circle cx="272.4" cy="578.1" r="0.45" fill="#b8b8b8"/><circle cx="216.5" cy="525.6" r="0.45" fill="#b8b8b8"/><circle cx="275.7" cy="568.7" r="0.45" fill="#b8b8b8"/><circle cx="220.3" cy="615.1" r="0.45" fill="#b8b8b8"/><circle cx="248.7" cy="593.1" r="0.45" fill="#b8b8b8"/><circle cx="270.9" cy="548.1" r="0.45" fill="#b8b8b8"/><circle cx="232.3" cy="608.2" r="0.45" fill="#b8b8b8"/><circle cx="216.0" cy="596.6" r="0.45" fill="#b8b8b8"/><circle cx="213.2" cy="589.1" r="0.45" fill="#b8b8b8"/><circle cx="257.8" cy="615.5" r="0.45" fill="#b8b8b8"/><circle cx="268.2" cy="570.2" r="0.45" fill="#b8b8b8"/><circle cx="220.6" cy="534.3" r="0.45" fill="#b8b8b8"/><circle cx="245.0" cy="570.8" r="0.45" fill="#b8b8b8"/><circle cx="211.3" cy="610.7" r="0.45" fill="#b8b8b8"/><circle cx="243.4" cy="590.2" r="0.45" fill="#b8b8b8"/><circle cx="222.2" cy="543.8" r="0.45" fill="#b8b8b8"/><circle cx="206.9" cy="553.9" r="0.45" fill="#b8b8b8"/><circle cx="225.7" cy="562.1" r="0.45" fill="#b8b8b8"/><circle cx="233.8" cy="603.7" r="0.45" fill="#b8b8b8"/><circle cx="271.7" cy="536.9" r="0.45" fill="#b8b8b8"/><circle cx="235.2" cy="536.0" r="0.45" fill="#b8b8b8"/><circle cx="254.9" cy="618.0" r="0.45" fill="#b8b8b8"/><circle cx="220.9" cy="596.9" r="0.45" fill="#b8b8b8"/><circle cx="228.1" cy="520.5" r="0.45" fill="#b8b8b8"/><circle cx="262.3" cy="553.8" r="0.45" fill="#b8b8b8"/><circle cx="218.6" cy="563.3" r="0.45" fill="#b8b8b8"/><circle cx="223.1" cy="560.7" r="0.45" fill="#b8b8b8"/><circle cx="238.9" cy="561.5" r="0.45" fill="#b8b8b8"/><circle cx="249.4" cy="548.4" r="0.45" fill="#b8b8b8"/><circle cx="213.0" cy="527.8" r="0.45" fill="#b8b8b8"/><circle cx="213.9" cy="572.0" r="0.45" fill="#b8b8b8"/><circle cx="232.6" cy="601.0" r="0.45" fill="#b8b8b8"/><circle cx="243.2" cy="590.9" r="0.45" fill="#b8b8b8"/><circle cx="278.2" cy="525.5" r="0.45" fill="#b8b8b8"/><circle cx="207.3" cy="533.4" r="0.45" fill="#b8b8b8"/><circle cx="234.5" cy="577.3" r="0.45" fill="#b8b8b8"/><circle cx="260.8" cy="554.8" r="0.45" fill="#b8b8b8"/><circle cx="277.1" cy="519.4" r="0.45" fill="#b8b8b8"/><circle cx="267.6" cy="540.4" r="0.45" fill="#b8b8b8"/><circle cx="270.5" cy="522.5" r="0.45" fill="#b8b8b8"/><circle cx="277.1" cy="596.1" r="0.45" fill="#b8b8b8"/><circle cx="279.0" cy="577.9" r="0.45" fill="#b8b8b8"/><circle cx="219.1" cy="617.5" r="0.45" fill="#b8b8b8"/><circle cx="238.6" cy="527.6" r="0.45" fill="#b8b8b8"/><circle cx="250.6" cy="569.5" r="0.45" fill="#b8b8b8"/><circle cx="240.9" cy="534.8" r="0.45" fill="#b8b8b8"/><circle cx="215.0" cy="578.0" r="0.45" fill="#b8b8b8"/><circle cx="239.4" cy="531.9" r="0.45" fill="#b8b8b8"/><circle cx="238.4" cy="592.7" r="0.45" fill="#b8b8b8"/><circle cx="258.7" cy="566.9" r="0.45" fill="#b8b8b8"/><circle cx="235.0" cy="555.7" r="0.45" fill="#b8b8b8"/><circle cx="222.7" cy="539.1" r="0.45" fill="#b8b8b8"/><circle cx="238.9" cy="530.1" r="0.45" fill="#b8b8b8"/><circle cx="259.5" cy="591.0" r="0.45" fill="#b8b8b8"/><circle cx="251.1" cy="521.4" r="0.45" fill="#b8b8b8"/><circle cx="232.9" cy="563.0" r="0.45" fill="#b8b8b8"/><circle cx="212.9" cy="617.3" r="0.45" fill="#b8b8b8"/><circle cx="261.7" cy="570.1" r="0.45" fill="#b8b8b8"/><circle cx="258.0" cy="539.5" r="0.45" fill="#b8b8b8"/><circle cx="222.9" cy="572.4" r="0.45" fill="#b8b8b8"/><circle cx="260.8" cy="584.8" r="0.45" fill="#b8b8b8"/><circle cx="206.5" cy="581.3" r="0.45" fill="#b8b8b8"/><circle cx="273.0" cy="594.5" r="0.45" fill="#b8b8b8"/><circle cx="274.4" cy="618.7" r="0.45" fill="#b8b8b8"/><circle cx="222.5" cy="549.2" r="0.45" fill="#b8b8b8"/><circle cx="246.4" cy="618.2" r="0.45" fill="#b8b8b8"/><circle cx="233.2" cy="614.6" r="0.45" fill="#b8b8b8"/><circle cx="268.7" cy="571.5" r="0.45" fill="#b8b8b8"/><circle cx="252.1" cy="616.2" r="0.45" fill="#b8b8b8"/><circle cx="263.7" cy="549.1" r="0.45" fill="#b8b8b8"/><circle cx="268.3" cy="539.0" r="0.45" fill="#b8b8b8"/><circle cx="233.3" cy="616.3" r="0.45" fill="#b8b8b8"/><circle cx="268.4" cy="550.8" r="0.45" fill="#b8b8b8"/><circle cx="227.4" cy="581.3" r="0.45" fill="#b8b8b8"/><circle cx="268.1" cy="588.5" r="0.45" fill="#b8b8b8"/><circle cx="275.0" cy="593.0" r="0.45" fill="#b8b8b8"/><circle cx="266.5" cy="580.5" r="0.45" fill="#b8b8b8"/><circle cx="232.7" cy="562.5" r="0.45" fill="#b8b8b8"/><circle cx="242.1" cy="572.8" r="0.45" fill="#b8b8b8"/><circle cx="267.8" cy="546.4" r="0.45" fill="#b8b8b8"/><circle cx="211.1" cy="593.5" r="0.45" fill="#b8b8b8"/><circle cx="226.0" cy="561.7" r="0.45" fill="#b8b8b8"/><circle cx="214.7" cy="603.2" r="0.45" fill="#b8b8b8"/><circle cx="226.2" cy="548.7" r="0.45" fill="#b8b8b8"/><circle cx="265.3" cy="570.3" r="0.45" fill="#b8b8b8"/><circle cx="226.5" cy="609.2" r="0.45" fill="#b8b8b8"/><circle cx="236.4" cy="555.8" r="0.45" fill="#b8b8b8"/><circle cx="277.2" cy="599.3" r="0.45" fill="#b8b8b8"/><circle cx="261.1" cy="544.5" r="0.45" fill="#b8b8b8"/><circle cx="266.0" cy="579.6" r="0.45" fill="#b8b8b8"/><circle cx="267.2" cy="556.4" r="0.45" fill="#b8b8b8"/><circle cx="263.6" cy="599.6" r="0.45" fill="#b8b8b8"/><circle cx="234.6" cy="585.5" r="0.45" fill="#b8b8b8"/><circle cx="263.5" cy="619.8" r="0.45" fill="#b8b8b8"/><circle cx="273.8" cy="598.9" r="0.45" fill="#b8b8b8"/><circle cx="216.1" cy="581.0" r="0.45" fill="#b8b8b8"/><circle cx="256.5" cy="527.9" r="0.45" fill="#b8b8b8"/><circle cx="240.1" cy="607.2" r="0.45" fill="#b8b8b8"/><circle cx="272.7" cy="613.0" r="0.45" fill="#b8b8b8"/><circle cx="212.9" cy="580.7" r="0.45" fill="#b8b8b8"/><circle cx="269.8" cy="585.3" r="0.45" fill="#b8b8b8"/><circle cx="229.6" cy="523.0" r="0.45" fill="#b8b8b8"/><circle cx="273.8" cy="606.2" r="0.45" fill="#b8b8b8"/><circle cx="254.2" cy="556.3" r="0.45" fill="#b8b8b8"/><circle cx="267.1" cy="601.8" r="0.45" fill="#b8b8b8"/><circle cx="259.4" cy="579.9" r="0.45" fill="#b8b8b8"/><circle cx="229.6" cy="549.2" r="0.45" fill="#b8b8b8"/><circle cx="232.4" cy="552.3" r="0.45" fill="#b8b8b8"/><circle cx="244.4" cy="530.7" r="0.45" fill="#b8b8b8"/><circle cx="259.2" cy="554.4" r="0.45" fill="#b8b8b8"/><circle cx="217.8" cy="545.0" r="0.45" fill="#b8b8b8"/><circle cx="234.7" cy="562.9" r="0.45" fill="#b8b8b8"/><circle cx="263.7" cy="529.2" r="0.45" fill="#b8b8b8"/><circle cx="222.4" cy="548.8" r="0.45" fill="#b8b8b8"/><circle cx="219.1" cy="595.1" r="0.45" fill="#b8b8b8"/><circle cx="214.1" cy="524.3" r="0.45" fill="#b8b8b8"/><circle cx="247.0" cy="593.8" r="0.45" fill="#b8b8b8"/><circle cx="266.8" cy="575.9" r="0.45" fill="#b8b8b8"/><circle cx="230.1" cy="608.6" r="0.45" fill="#b8b8b8"/><circle cx="260.3" cy="567.7" r="0.45" fill="#b8b8b8"/><circle cx="247.5" cy="614.1" r="0.45" fill="#b8b8b8"/><circle cx="279.5" cy="613.6" r="0.45" fill="#b8b8b8"/><circle cx="215.8" cy="552.3" r="0.45" fill="#b8b8b8"/><circle cx="236.1" cy="536.2" r="0.45" fill="#b8b8b8"/><circle cx="262.2" cy="525.3" r="0.45" fill="#b8b8b8"/><circle cx="271.4" cy="578.5" r="0.45" fill="#b8b8b8"/><circle cx="251.3" cy="561.2" r="0.45" fill="#b8b8b8"/><circle cx="275.0" cy="577.8" r="0.45" fill="#b8b8b8"/><circle cx="272.1" cy="612.7" r="0.45" fill="#b8b8b8"/><circle cx="257.0" cy="618.9" r="0.45" fill="#b8b8b8"/><circle cx="242.1" cy="556.3" r="0.45" fill="#b8b8b8"/><circle cx="268.2" cy="572.7" r="0.45" fill="#b8b8b8"/><circle cx="228.8" cy="588.1" r="0.45" fill="#b8b8b8"/><circle cx="241.1" cy="532.1" r="0.45" fill="#b8b8b8"/><polygon points="202.58,517.73 203.45,524.64 206.04,529.82 209.50,535.01 212.09,536.74 212.96,531.55 214.69,526.37 219.88,523.78 223.33,522.05 226.79,524.64 225.06,529.82 223.33,535.01 223.33,540.19 219.88,545.38 216.42,549.70 213.82,554.02 212.09,559.20 211.23,564.38 209.50,569.57 207.77,574.75 205.18,579.07 204.31,585.12 202.58,590.30 205.18,593.76 209.50,597.22 210.37,602.40 207.77,605.86 202.58,607.58 195.67,608.45 188.75,609.31 181.83,610.18 176.65,611.90 169.73,613.11 169.73,517.73" fill="#ebebeb" stroke="#1a1a1a" stroke-width="1.2" stroke-linejoin="round"/><polygon points="185.29,517.73 187.02,522.91 190.48,526.37 193.94,531.55 196.53,535.87 199.13,541.06 202.58,545.38 201.72,550.56 198.26,554.88 195.67,559.20 193.94,563.52 192.21,567.84 190.48,574.75 193.07,578.21 195.67,581.66 197.40,586.85 198.26,592.03 200.85,596.35 197.40,598.94 190.48,600.67 183.56,602.40 178.38,602.40 174.92,605.86 169.73,607.07 169.73,517.73" fill="#d3d3d3" stroke="#1a1a1a" stroke-width="1.1" stroke-linejoin="round"/><polygon points="169.73,517.73 178.38,517.73 180.97,524.64 183.56,529.82 184.43,535.01 182.70,540.19 180.10,543.65 178.38,547.10 181.83,550.56 185.29,555.74 187.02,560.93 183.56,566.11 182.70,571.30 181.83,576.48 180.10,581.66 176.65,586.85 174.92,592.03 169.73,594.11" fill="#b4b4b4" stroke="#1a1a1a" stroke-width="1.0" stroke-linejoin="round"/><polygon points="169.73,564.38 174.05,563.52 177.51,566.98 176.65,572.16 172.32,573.89 169.73,573.02" fill="#111"/><polygon points="185.81,526.71 189.62,524.29 193.42,526.71 189.62,529.13" fill="#555" stroke="#1a1a1a" stroke-width="0.9" stroke-linejoin="round"/><polygon points="188.23,526.71 189.62,525.68 191.00,526.71 189.62,527.75" fill="#ccc"/><polygon points="175.78,543.65 180.10,540.19 181.83,541.92 177.51,546.24" fill="#eee" stroke="#1a1a1a" stroke-width="1.0" stroke-linejoin="round"/><ellipse cx="173.19" cy="552.29" rx="1.73" ry="1.04" fill="#444" stroke="#1a1a1a" stroke-width="0.9"/><ellipse cx="179.24" cy="556.95" rx="1.73" ry="1.73" fill="#888" stroke="#1a1a1a" stroke-width="0.9"/><polygon points="178.38,598.08 181.83,595.83 190.48,596.87 188.75,599.29 181.83,599.81" fill="#555" stroke="#1a1a1a" stroke-width="1.0" stroke-linejoin="round"/><ellipse cx="174.05" cy="581.66" rx="1.38" ry="1.04" fill="#666" stroke="#1a1a1a" stroke-width="0.9"/><ellipse cx="184.60" cy="576.48" rx="0.86" ry="0.86" fill="#333"/><ellipse cx="189.79" cy="582.01" rx="0.86" ry="0.86" fill="#333"/><ellipse cx="171.46" cy="590.30" rx="1.73" ry="1.38" fill="#888" stroke="#1a1a1a" stroke-width="0.9"/><polygon points="184.43,561.79 187.02,557.47 190.48,558.34 195.67,559.20 192.21,563.52 187.89,565.25" fill="#d8d8d8" stroke="#1a1a1a" stroke-width="1.0" stroke-linejoin="round"/><ellipse cx="190.13" cy="561.79" rx="0.69" ry="0.69" fill="#333"/><ellipse cx="196.53" cy="561.45" rx="2.08" ry="2.07" fill="#bbb" stroke="#1a1a1a" stroke-width="0.9"/><polygon points="231.12,531.55 232.85,529.82 234.57,531.55 232.85,533.28" fill="#f2f2f2" stroke="#1a1a1a" stroke-width="0.9" stroke-linejoin="round"/><polygon points="252.04,542.27 254.46,540.54 256.88,542.27 254.46,543.99" fill="#f2f2f2" stroke="#1a1a1a" stroke-width="0.9" stroke-linejoin="round"/><polygon points="248.06,552.63 250.14,551.25 252.21,552.63 250.14,554.02" fill="#888" stroke="#1a1a1a" stroke-width="0.9" stroke-linejoin="round"/><polygon points="241.66,562.31 244.09,560.58 246.51,562.31 244.09,564.04" fill="#f2f2f2" stroke="#1a1a1a" stroke-width="0.9" stroke-linejoin="round"/><polygon points="220.39,592.90 222.47,590.48 224.55,592.90 222.47,595.32" fill="#f2f2f2" stroke="#1a1a1a" stroke-width="0.9" stroke-linejoin="round"/><polygon points="214.86,603.26 217.28,601.54 219.70,603.26 217.28,604.99" fill="#f2f2f2" stroke="#1a1a1a" stroke-width="0.9" stroke-linejoin="round"/><polygon points="220.74,608.45 222.47,606.03 224.20,608.45 222.47,610.87" fill="#f2f2f2" stroke="#1a1a1a" stroke-width="0.9" stroke-linejoin="round"/><polygon points="214.86,613.63 217.28,611.56 219.70,613.63 217.28,615.71" fill="#f2f2f2" stroke="#1a1a1a" stroke-width="0.9" stroke-linejoin="round"/><polygon points="198.78,537.60 200.85,535.53 202.93,537.60 200.85,539.67" fill="#f2f2f2" stroke="#1a1a1a" stroke-width="0.9" stroke-linejoin="round"/><polygon points="205.01,542.78 206.39,541.06 207.77,542.78 206.39,544.51" fill="#999" stroke="#1a1a1a" stroke-width="0.9" stroke-linejoin="round"/><polygon points="193.25,552.29 195.67,550.91 198.09,552.29 195.67,553.67" fill="#f2f2f2" stroke="#1a1a1a" stroke-width="0.9" stroke-linejoin="round"/><polygon points="197.92,577.34 199.99,575.96 202.07,577.34 199.99,578.73" fill="#f2f2f2" stroke="#1a1a1a" stroke-width="0.9" stroke-linejoin="round"/><polygon points="199.99,582.53 200.85,581.66 201.72,582.53 200.85,583.39" fill="#333" stroke="#1a1a1a" stroke-width="0.9" stroke-linejoin="round"/><polygon points="198.78,603.26 200.85,601.88 202.93,603.26 200.85,604.65" fill="#f2f2f2" stroke="#1a1a1a" stroke-width="0.9" stroke-linejoin="round"/><polygon points="243.22,541.92 245.81,536.74 250.66,535.87 249.27,541.06 244.95,543.30" fill="#f2f2f2" stroke="#1a1a1a" stroke-width="1.0" stroke-linejoin="round"/><polygon points="225.93,553.15 227.66,547.10 230.60,545.38 231.12,550.56 228.52,554.88" fill="#f2f2f2" stroke="#1a1a1a" stroke-width="1.0" stroke-linejoin="round"/><polygon points="218.15,573.02 220.74,566.98 223.33,563.00 225.93,567.84 225.06,574.75 221.61,575.62" fill="#f2f2f2" stroke="#1a1a1a" stroke-width="1.0" stroke-linejoin="round"/><polygon points="233.71,592.90 238.03,590.65 240.28,592.03 238.90,594.62" fill="#f2f2f2" stroke="#1a1a1a" stroke-width="1.0" stroke-linejoin="round"/><polygon points="242.70,603.26 244.43,598.08 246.68,603.26" fill="#f2f2f2" stroke="#1a1a1a" stroke-width="1.0" stroke-linejoin="round"/>
</svg>
<path d="M173.34,620.80v-2.8M173.34,519.40v2.8M178.85,620.80v-4.8M178.85,519.40v4.8M184.37,620.80v-2.8M184.37,519.40v2.8M189.88,620.80v-2.8M189.88,519.40v2.8M195.40,620.80v-2.8M195.40,519.40v2.8M200.91,620.80v-4.8M200.91,519.40v4.8M206.42,620.80v-2.8M206.42,519.40v2.8M211.94,620.80v-2.8M211.94,519.40v2.8M217.45,620.80v-2.8M217.45,519.40v2.8M222.97,620.80v-4.8M222.97,519.40v4.8M228.48,620.80v-2.8M228.48,519.40v2.8M233.99,620.80v-2.8M233.99,519.40v2.8M239.51,620.80v-2.8M239.51,519.40v2.8M245.02,620.80v-4.8M245.02,519.40v4.8M250.54,620.80v-2.8M250.54,519.40v2.8M256.05,620.80v-2.8M256.05,519.40v2.8M261.57,620.80v-2.8M261.57,519.40v2.8M267.08,620.80v-4.8M267.08,519.40v4.8M272.59,620.80v-2.8M272.59,519.40v2.8M278.11,620.80v-2.8M278.11,519.40v2.8M171.50,615.64h2.8M279.80,615.64h-2.8M171.50,609.19h2.8M279.80,609.19h-2.8M171.50,602.74h2.8M279.80,602.74h-2.8M171.50,596.29h4.8M279.80,596.29h-4.8M171.50,589.84h2.8M279.80,589.84h-2.8M171.50,583.39h2.8M279.80,583.39h-2.8M171.50,576.94h2.8M279.80,576.94h-2.8M171.50,570.49h4.8M279.80,570.49h-4.8M171.50,564.04h2.8M279.80,564.04h-2.8M171.50,557.59h2.8M279.80,557.59h-2.8M171.50,551.14h2.8M279.80,551.14h-2.8M171.50,544.69h4.8M279.80,544.69h-4.8M171.50,538.24h2.8M279.80,538.24h-2.8M171.50,531.78h2.8M279.80,531.78h-2.8M171.50,525.33h2.8M279.80,525.33h-2.8" stroke="#222" stroke-width="0.9" fill="none"/>
<rect x="171.50" y="519.40" width="108.3" height="101.4" fill="none" stroke="#1a1a1a" stroke-width="1.1"/>
<svg x="299.60" y="519.40" width="108.3" height="101.4" viewBox="299.60 519.40 108.3 101.4" overflow="hidden">
<circle cx="349.6" cy="587.5" r="0.45" fill="#aaa"/><circle cx="314.5" cy="613.5" r="0.45" fill="#aaa"/><circle cx="300.2" cy="594.3" r="0.45" fill="#aaa"/><circle cx="396.7" cy="572.1" r="0.45" fill="#aaa"/><circle cx="359.5" cy="600.3" r="0.45" fill="#aaa"/><circle cx="303.9" cy="587.8" r="0.45" fill="#aaa"/><circle cx="375.6" cy="591.7" r="0.45" fill="#aaa"/><circle cx="377.9" cy="576.1" r="0.45" fill="#aaa"/><circle cx="325.2" cy="573.7" r="0.45" fill="#aaa"/><circle cx="354.3" cy="616.5" r="0.45" fill="#aaa"/><circle cx="363.4" cy="608.6" r="0.45" fill="#aaa"/><circle cx="341.0" cy="607.2" r="0.45" fill="#aaa"/><circle cx="310.5" cy="583.2" r="0.45" fill="#aaa"/><circle cx="372.4" cy="606.1" r="0.45" fill="#aaa"/><circle cx="345.1" cy="572.5" r="0.45" fill="#aaa"/><circle cx="328.3" cy="578.9" r="0.45" fill="#aaa"/><circle cx="329.9" cy="610.5" r="0.45" fill="#aaa"/><circle cx="321.1" cy="614.6" r="0.45" fill="#aaa"/><circle cx="394.6" cy="570.7" r="0.45" fill="#aaa"/><circle cx="340.5" cy="593.8" r="0.45" fill="#aaa"/><circle cx="302.0" cy="590.2" r="0.45" fill="#aaa"/><circle cx="397.6" cy="573.7" r="0.45" fill="#aaa"/><circle cx="364.1" cy="574.2" r="0.45" fill="#aaa"/><circle cx="362.1" cy="615.0" r="0.45" fill="#aaa"/><circle cx="321.4" cy="568.3" r="0.45" fill="#aaa"/><circle cx="308.5" cy="596.3" r="0.45" fill="#aaa"/><circle cx="301.3" cy="572.3" r="0.45" fill="#aaa"/><circle cx="353.2" cy="616.4" r="0.45" fill="#aaa"/><circle cx="344.9" cy="588.8" r="0.45" fill="#aaa"/><circle cx="368.6" cy="572.8" r="0.45" fill="#aaa"/><circle cx="362.2" cy="576.9" r="0.45" fill="#aaa"/><circle cx="365.4" cy="618.3" r="0.45" fill="#aaa"/><circle cx="305.3" cy="597.1" r="0.45" fill="#aaa"/><circle cx="365.1" cy="575.7" r="0.45" fill="#aaa"/><circle cx="328.5" cy="620.3" r="0.45" fill="#aaa"/><circle cx="407.5" cy="574.2" r="0.45" fill="#aaa"/><circle cx="375.8" cy="618.0" r="0.45" fill="#aaa"/><circle cx="325.1" cy="600.0" r="0.45" fill="#aaa"/><circle cx="304.1" cy="587.1" r="0.45" fill="#aaa"/><circle cx="372.4" cy="598.9" r="0.45" fill="#aaa"/><circle cx="383.3" cy="572.4" r="0.45" fill="#aaa"/><circle cx="337.0" cy="613.4" r="0.45" fill="#aaa"/><circle cx="362.7" cy="591.6" r="0.45" fill="#aaa"/><circle cx="343.0" cy="619.8" r="0.45" fill="#aaa"/><circle cx="361.6" cy="568.8" r="0.45" fill="#aaa"/><circle cx="386.0" cy="585.2" r="0.45" fill="#aaa"/><circle cx="346.4" cy="579.1" r="0.45" fill="#aaa"/><circle cx="347.5" cy="585.0" r="0.45" fill="#aaa"/><circle cx="309.1" cy="601.0" r="0.45" fill="#aaa"/><circle cx="310.6" cy="609.2" r="0.45" fill="#aaa"/><circle cx="302.2" cy="609.0" r="0.45" fill="#aaa"/><circle cx="386.9" cy="594.1" r="0.45" fill="#aaa"/><circle cx="376.3" cy="580.9" r="0.45" fill="#aaa"/><circle cx="379.3" cy="590.2" r="0.45" fill="#aaa"/><circle cx="324.5" cy="618.7" r="0.45" fill="#aaa"/><circle cx="342.9" cy="587.5" r="0.45" fill="#aaa"/><circle cx="392.5" cy="587.3" r="0.45" fill="#aaa"/><circle cx="371.7" cy="576.9" r="0.45" fill="#aaa"/><circle cx="390.7" cy="581.5" r="0.45" fill="#aaa"/><circle cx="304.9" cy="619.2" r="0.45" fill="#aaa"/><circle cx="318.2" cy="617.7" r="0.45" fill="#aaa"/><circle cx="406.2" cy="599.8" r="0.45" fill="#aaa"/><circle cx="300.7" cy="571.1" r="0.45" fill="#aaa"/><circle cx="322.0" cy="588.3" r="0.45" fill="#aaa"/><circle cx="365.7" cy="618.8" r="0.45" fill="#aaa"/><circle cx="337.8" cy="575.3" r="0.45" fill="#aaa"/><circle cx="360.3" cy="575.1" r="0.45" fill="#aaa"/><circle cx="308.8" cy="597.1" r="0.45" fill="#aaa"/><circle cx="374.8" cy="571.3" r="0.45" fill="#aaa"/><circle cx="348.3" cy="604.9" r="0.45" fill="#aaa"/><circle cx="382.2" cy="588.0" r="0.45" fill="#aaa"/><circle cx="395.5" cy="576.8" r="0.45" fill="#aaa"/><circle cx="376.9" cy="608.5" r="0.45" fill="#aaa"/><circle cx="394.7" cy="593.9" r="0.45" fill="#aaa"/><circle cx="310.2" cy="570.4" r="0.45" fill="#aaa"/><circle cx="356.7" cy="577.0" r="0.45" fill="#aaa"/><circle cx="367.6" cy="572.3" r="0.45" fill="#aaa"/><circle cx="383.9" cy="579.6" r="0.45" fill="#aaa"/><circle cx="300.9" cy="577.1" r="0.45" fill="#aaa"/><circle cx="348.9" cy="597.3" r="0.45" fill="#aaa"/><circle cx="341.5" cy="577.0" r="0.45" fill="#aaa"/><circle cx="351.6" cy="617.7" r="0.45" fill="#aaa"/><circle cx="357.4" cy="617.5" r="0.45" fill="#aaa"/><circle cx="302.6" cy="620.2" r="0.45" fill="#aaa"/><circle cx="395.7" cy="596.5" r="0.45" fill="#aaa"/><circle cx="356.1" cy="596.1" r="0.45" fill="#aaa"/><circle cx="397.9" cy="571.3" r="0.45" fill="#aaa"/><circle cx="369.0" cy="596.4" r="0.45" fill="#aaa"/><circle cx="332.0" cy="606.0" r="0.45" fill="#aaa"/><circle cx="377.5" cy="573.3" r="0.45" fill="#aaa"/><circle cx="375.2" cy="591.7" r="0.45" fill="#aaa"/><circle cx="352.5" cy="601.4" r="0.45" fill="#aaa"/><circle cx="305.2" cy="599.6" r="0.45" fill="#aaa"/><circle cx="339.9" cy="614.2" r="0.45" fill="#aaa"/><circle cx="324.5" cy="611.2" r="0.45" fill="#aaa"/><circle cx="378.4" cy="600.8" r="0.45" fill="#aaa"/><circle cx="394.3" cy="569.7" r="0.45" fill="#aaa"/><circle cx="364.1" cy="600.2" r="0.45" fill="#aaa"/><circle cx="372.9" cy="589.3" r="0.45" fill="#aaa"/><circle cx="306.9" cy="577.8" r="0.45" fill="#aaa"/><circle cx="365.3" cy="577.4" r="0.45" fill="#aaa"/><circle cx="306.5" cy="586.5" r="0.45" fill="#aaa"/><circle cx="350.4" cy="596.1" r="0.45" fill="#aaa"/><circle cx="302.3" cy="608.7" r="0.45" fill="#aaa"/><circle cx="335.6" cy="609.1" r="0.45" fill="#aaa"/><circle cx="300.4" cy="618.1" r="0.45" fill="#aaa"/><circle cx="363.4" cy="619.3" r="0.45" fill="#aaa"/><circle cx="406.2" cy="611.7" r="0.45" fill="#aaa"/><circle cx="311.0" cy="586.2" r="0.45" fill="#aaa"/><circle cx="324.5" cy="608.9" r="0.45" fill="#aaa"/><circle cx="320.3" cy="579.5" r="0.45" fill="#aaa"/><circle cx="311.4" cy="574.2" r="0.45" fill="#aaa"/><circle cx="401.0" cy="619.3" r="0.45" fill="#aaa"/><circle cx="339.8" cy="606.9" r="0.45" fill="#aaa"/><circle cx="350.1" cy="595.4" r="0.45" fill="#aaa"/><circle cx="339.5" cy="601.3" r="0.45" fill="#aaa"/><circle cx="325.0" cy="581.4" r="0.45" fill="#aaa"/><circle cx="355.5" cy="578.2" r="0.45" fill="#aaa"/><circle cx="347.0" cy="617.6" r="0.45" fill="#aaa"/><circle cx="301.9" cy="573.3" r="0.45" fill="#aaa"/><circle cx="386.1" cy="570.9" r="0.45" fill="#aaa"/><circle cx="326.7" cy="612.7" r="0.45" fill="#aaa"/><circle cx="365.0" cy="579.5" r="0.45" fill="#aaa"/><circle cx="305.8" cy="582.3" r="0.45" fill="#aaa"/><circle cx="331.9" cy="610.0" r="0.45" fill="#aaa"/><circle cx="405.1" cy="609.3" r="0.45" fill="#aaa"/><circle cx="397.1" cy="616.9" r="0.45" fill="#aaa"/><circle cx="394.3" cy="616.3" r="0.45" fill="#aaa"/><circle cx="404.2" cy="572.8" r="0.45" fill="#aaa"/><circle cx="333.8" cy="580.9" r="0.45" fill="#aaa"/><circle cx="364.9" cy="593.8" r="0.45" fill="#aaa"/><circle cx="337.0" cy="612.0" r="0.45" fill="#aaa"/><circle cx="342.7" cy="578.9" r="0.45" fill="#aaa"/><circle cx="329.4" cy="592.2" r="0.45" fill="#aaa"/><circle cx="365.5" cy="597.8" r="0.45" fill="#aaa"/><circle cx="347.1" cy="577.7" r="0.45" fill="#aaa"/><circle cx="343.0" cy="585.0" r="0.45" fill="#aaa"/><circle cx="317.9" cy="596.5" r="0.45" fill="#aaa"/><circle cx="319.9" cy="605.3" r="0.45" fill="#aaa"/><circle cx="370.8" cy="575.1" r="0.45" fill="#aaa"/><circle cx="367.2" cy="585.6" r="0.45" fill="#aaa"/><circle cx="347.9" cy="599.8" r="0.45" fill="#aaa"/><circle cx="381.9" cy="614.4" r="0.45" fill="#aaa"/><circle cx="378.9" cy="579.0" r="0.45" fill="#aaa"/><circle cx="358.1" cy="585.5" r="0.45" fill="#aaa"/><circle cx="301.5" cy="597.0" r="0.45" fill="#aaa"/><circle cx="350.4" cy="613.5" r="0.45" fill="#aaa"/><circle cx="334.5" cy="611.8" r="0.45" fill="#aaa"/><circle cx="355.1" cy="573.1" r="0.45" fill="#aaa"/><circle cx="377.1" cy="582.8" r="0.45" fill="#aaa"/><circle cx="357.2" cy="571.6" r="0.45" fill="#aaa"/><circle cx="300.6" cy="616.4" r="0.45" fill="#aaa"/><circle cx="304.0" cy="575.7" r="0.45" fill="#aaa"/><circle cx="317.1" cy="572.9" r="0.45" fill="#aaa"/><circle cx="388.7" cy="620.3" r="0.45" fill="#aaa"/><circle cx="369.7" cy="588.7" r="0.45" fill="#aaa"/><circle cx="395.6" cy="594.5" r="0.45" fill="#aaa"/><circle cx="314.1" cy="604.2" r="0.45" fill="#aaa"/><circle cx="338.3" cy="582.1" r="0.45" fill="#aaa"/><circle cx="334.1" cy="588.1" r="0.45" fill="#aaa"/><circle cx="319.2" cy="600.1" r="0.45" fill="#aaa"/><circle cx="393.5" cy="597.9" r="0.45" fill="#aaa"/><circle cx="300.5" cy="603.9" r="0.45" fill="#aaa"/><circle cx="301.6" cy="593.1" r="0.45" fill="#aaa"/><circle cx="393.2" cy="603.5" r="0.45" fill="#aaa"/><circle cx="397.8" cy="607.6" r="0.45" fill="#aaa"/><circle cx="329.0" cy="575.4" r="0.45" fill="#aaa"/><circle cx="348.3" cy="603.7" r="0.45" fill="#aaa"/><circle cx="324.6" cy="585.3" r="0.45" fill="#aaa"/><circle cx="380.4" cy="586.2" r="0.45" fill="#aaa"/><circle cx="364.5" cy="596.6" r="0.45" fill="#aaa"/><circle cx="400.0" cy="569.2" r="0.45" fill="#aaa"/><circle cx="319.6" cy="608.9" r="0.45" fill="#aaa"/><circle cx="371.9" cy="572.9" r="0.45" fill="#aaa"/><circle cx="314.0" cy="578.9" r="0.45" fill="#aaa"/><circle cx="358.3" cy="615.4" r="0.45" fill="#aaa"/><circle cx="322.9" cy="578.5" r="0.45" fill="#aaa"/><circle cx="373.7" cy="590.1" r="0.45" fill="#aaa"/><circle cx="391.1" cy="620.5" r="0.45" fill="#aaa"/><circle cx="400.8" cy="605.6" r="0.45" fill="#aaa"/><circle cx="353.2" cy="571.1" r="0.45" fill="#aaa"/><circle cx="386.9" cy="588.8" r="0.45" fill="#aaa"/><circle cx="349.6" cy="601.2" r="0.45" fill="#aaa"/><circle cx="403.8" cy="597.1" r="0.45" fill="#aaa"/><circle cx="398.8" cy="618.7" r="0.45" fill="#aaa"/><circle cx="308.6" cy="586.5" r="0.45" fill="#aaa"/><circle cx="395.6" cy="608.3" r="0.45" fill="#aaa"/><circle cx="404.4" cy="577.7" r="0.45" fill="#aaa"/><circle cx="357.0" cy="617.0" r="0.45" fill="#aaa"/><circle cx="357.9" cy="603.2" r="0.45" fill="#aaa"/><circle cx="405.0" cy="577.0" r="0.45" fill="#aaa"/><circle cx="305.6" cy="612.8" r="0.45" fill="#aaa"/><circle cx="362.4" cy="578.4" r="0.45" fill="#aaa"/><circle cx="389.6" cy="582.8" r="0.45" fill="#aaa"/><circle cx="313.5" cy="583.5" r="0.45" fill="#aaa"/><circle cx="303.4" cy="589.2" r="0.45" fill="#aaa"/><circle cx="383.8" cy="591.8" r="0.45" fill="#aaa"/><circle cx="403.9" cy="570.0" r="0.45" fill="#aaa"/><circle cx="318.2" cy="575.4" r="0.45" fill="#aaa"/><circle cx="361.6" cy="578.4" r="0.45" fill="#aaa"/><polygon points="297.73,533.28 302.92,528.10 308.10,521.18 309.83,517.73 389.38,517.73 392.84,524.64 399.75,528.10 407.71,529.82 407.71,597.22 403.21,600.67 398.02,604.13 392.84,609.31 387.65,610.18 382.46,609.31 377.27,605.86 373.81,600.67 370.36,595.49 366.90,593.76 363.44,597.22 359.98,598.94 354.79,600.67 351.33,597.22 347.88,592.03 346.15,586.85 342.69,583.39 337.50,581.66 335.77,586.85 337.50,592.90 334.91,590.30 330.58,586.85 325.40,588.58 321.94,594.62 319.34,600.67 316.75,605.86 312.43,609.31 306.38,610.18 301.19,607.58 297.73,605.86" fill="#dcdcdc"/><polygon points="299.49,536.93 306.47,535.19 311.70,536.06 317.80,534.32 322.16,540.42 326.53,537.80 330.89,536.93 333.50,541.29 334.37,545.65 336.12,549.14 341.35,549.14 344.84,552.63 341.35,556.12 336.99,556.12 330.89,554.37 326.53,550.89 322.16,547.40 317.80,545.65 311.70,544.78 304.72,543.91 299.49,543.04" fill="#c4c4c4" stroke="#1a1a1a" stroke-width="1.35" stroke-linejoin="round"/><polygon points="299.49,516.00 301.23,519.49 302.98,526.47 306.47,531.70 301.23,533.44 299.49,534.32" fill="#f6f6f6"/><polyline points="301.23,519.49 302.98,526.47 306.47,531.70 301.23,533.44 299.49,534.32" fill="none" stroke="#1a1a1a" stroke-width="1.6" stroke-linejoin="round"/><polygon points="307.34,523.85 312.57,522.98 316.93,525.59 315.19,529.95 310.83,530.83 308.21,528.21" fill="#a8a8a8" stroke="#1a1a1a" stroke-width="1.35" stroke-linejoin="round"/><polygon points="319.55,526.90 323.04,522.98 326.53,526.90 323.04,530.83" fill="#8a8a8a" stroke="#1a1a1a" stroke-width="1.35" stroke-linejoin="round"/><polygon points="330.89,525.59 334.37,521.23 337.86,525.59 334.37,529.95" fill="#bbb" stroke="#1a1a1a" stroke-width="1.35" stroke-linejoin="round"/><polygon points="343.53,525.59 345.71,523.41 347.89,525.59 345.71,527.77" fill="#999" stroke="#1a1a1a" stroke-width="1.35" stroke-linejoin="round"/><polygon points="338.74,528.21 340.48,526.47 342.22,528.21 340.48,529.95" fill="#ccc" stroke="#1a1a1a" stroke-width="1.35" stroke-linejoin="round"/><polyline points="328.27,519.49 329.14,529.08" fill="none" stroke="#1a1a1a" stroke-width="1.35" stroke-linejoin="round"/><ellipse cx="316.93" cy="541.73" rx="2.62" ry="1.31" fill="#6a6a6a" stroke="#1a1a1a" stroke-width="1.1"/><ellipse cx="329.14" cy="542.16" rx="1.05" ry="1.05" fill="#444"/><polygon points="313.44,551.76 318.68,548.27 323.91,551.76" fill="#f8f8f8" stroke="#1a1a1a" stroke-width="1.35" stroke-linejoin="round"/><polygon points="339.61,539.55 343.10,531.70 346.58,530.83 344.84,538.68 341.35,541.29" fill="#f4f4f4" stroke="#1a1a1a" stroke-width="1.35" stroke-linejoin="round"/><ellipse cx="351.12" cy="536.50" rx="2.62" ry="5.67" fill="#a8a8a8" stroke="#1a1a1a" stroke-width="1.35"/><polyline points="299.49,556.12 303.85,557.86 306.47,561.35 301.23,563.10 299.49,564.84" fill="none" stroke="#1a1a1a" stroke-width="1.35" stroke-linejoin="round"/><polyline points="299.49,544.78 304.72,546.53 309.95,545.65 315.19,547.40 318.68,546.53" fill="none" stroke="#1a1a1a" stroke-width="1.35" stroke-linejoin="round"/><polyline points="348.33,542.16 351.82,546.53 354.00,550.89" fill="none" stroke="#1a1a1a" stroke-width="1.35" stroke-linejoin="round"/><polyline points="348.33,549.14 350.07,552.63 354.00,556.12" fill="none" stroke="#1a1a1a" stroke-width="1.35" stroke-linejoin="round"/><polyline points="299.49,536.93 302.98,533.44 304.72,531.70" fill="none" stroke="#1a1a1a" stroke-width="1.35" stroke-linejoin="round"/><polyline points="309.08,519.49 313.44,521.23 316.93,520.36 320.42,522.11" fill="none" stroke="#1a1a1a" stroke-width="1.35" stroke-linejoin="round"/><polyline points="332.63,519.49 336.99,521.23 341.35,520.36 344.84,522.11 350.07,521.23 354.00,522.98" fill="none" stroke="#1a1a1a" stroke-width="1.35" stroke-linejoin="round"/><ellipse cx="327.40" cy="561.35" rx="4.36" ry="3.05" fill="#d4d4d4" stroke="#1a1a1a" stroke-width="1.35"/><ellipse cx="324.78" cy="562.22" rx="1.22" ry="0.87" fill="#eee" stroke="#1a1a1a" stroke-width="1.0"/><ellipse cx="329.14" cy="559.61" rx="0.87" ry="0.70" fill="#555"/><polygon points="315.19,569.99 318.68,563.10 322.16,569.99" fill="#9a9a9a" stroke="#1a1a1a" stroke-width="1.35" stroke-linejoin="round"/><polygon points="344.84,566.58 350.07,564.84 354.00,565.28 354.00,568.33 348.33,568.33" fill="#aaa" stroke="#1a1a1a" stroke-width="1.35" stroke-linejoin="round"/><polygon points="389.63,519.49 407.51,519.49 407.51,561.35 405.33,560.48 400.10,559.61 396.61,558.74 400.10,556.99 401.84,552.63 403.15,547.40 403.58,542.16 402.71,536.93 400.10,531.70 394.86,527.34 389.63,524.72" fill="#f6f6f6"/><polyline points="389.63,524.72 394.86,527.34 400.10,531.70 402.71,536.93 403.58,542.16 403.15,547.40 401.84,552.63 400.10,556.99 396.61,558.74 400.10,559.61 405.33,560.48 407.51,561.35" fill="none" stroke="#1a1a1a" stroke-width="1.6" stroke-linejoin="round"/><polyline points="356.49,550.89 359.98,546.53 364.34,543.91 370.44,542.16 375.68,541.29 379.16,538.68 382.65,535.19 387.01,531.70 391.37,530.83 395.74,532.57 399.22,536.06 400.97,542.16 400.10,547.40 398.35,552.63 394.86,556.99" fill="none" stroke="#1a1a1a" stroke-width="1.35" stroke-linejoin="round"/><polygon points="370.44,546.53 375.68,543.91 381.78,543.04 387.89,544.78 391.37,547.40 393.12,552.63 392.25,557.86 389.63,561.35 386.14,564.84 380.91,566.58 376.55,564.84 373.06,562.22 370.44,558.74 373.06,554.37 375.68,551.76 372.19,549.14" fill="#bebebe" stroke="#1a1a1a" stroke-width="1.35" stroke-linejoin="round"/><polygon points="364.34,551.76 366.95,549.14 369.57,551.76 366.95,554.37" fill="#ddd" stroke="#1a1a1a" stroke-width="1.35" stroke-linejoin="round"/><polygon points="371.66,552.19 373.06,550.80 374.45,552.19 373.06,553.59" fill="#888" stroke="#1a1a1a" stroke-width="1.0" stroke-linejoin="round"/><polygon points="380.47,556.99 383.53,553.50 386.58,556.99 383.53,560.48" fill="#999" stroke="#1a1a1a" stroke-width="1.35" stroke-linejoin="round"/><ellipse cx="388.32" cy="552.19" rx="1.22" ry="2.44" fill="#aaa" stroke="#1a1a1a" stroke-width="1.1"/><polygon points="391.55,562.22 393.99,559.78 396.43,562.22 393.99,564.67" fill="#555" stroke="#1a1a1a" stroke-width="1.35" stroke-linejoin="round"/><polygon points="383.53,541.29 387.89,535.19 394.86,536.06 390.50,541.29" fill="#f6f6f6" stroke="#1a1a1a" stroke-width="1.35" stroke-linejoin="round"/><polyline points="386.14,540.42 390.50,536.06" fill="none" stroke="#1a1a1a" stroke-width="1.0" stroke-linejoin="round"/><polygon points="397.65,542.16 399.22,537.80 400.79,542.16 399.22,546.53" fill="#ccc" stroke="#1a1a1a" stroke-width="1.35" stroke-linejoin="round"/><polygon points="359.11,521.23 364.34,519.49 368.70,529.08 369.57,537.80 365.21,537.80 360.85,529.08" fill="#cccccc" stroke="#1a1a1a" stroke-width="1.35" stroke-linejoin="round"/><polygon points="372.19,527.34 377.42,526.47 380.91,530.83 379.16,535.19 373.93,535.19" fill="#f6f6f6" stroke="#1a1a1a" stroke-width="1.35" stroke-linejoin="round"/><polyline points="353.00,520.36 355.62,524.72 358.23,529.08 354.74,533.44" fill="none" stroke="#1a1a1a" stroke-width="1.35" stroke-linejoin="round"/><polyline points="353.00,542.16 358.23,538.68 361.72,536.06 366.08,533.44 370.44,534.32" fill="none" stroke="#1a1a1a" stroke-width="1.35" stroke-linejoin="round"/><polyline points="353.00,566.58 357.36,567.46 361.72,568.33" fill="none" stroke="#1a1a1a" stroke-width="1.35" stroke-linejoin="round"/><polyline points="368.70,519.49 372.19,522.98 375.68,521.23 380.91,522.98 386.14,520.36 389.63,521.23" fill="none" stroke="#1a1a1a" stroke-width="1.35" stroke-linejoin="round"/><polygon points="353.00,559.61 356.49,557.86 360.85,556.99 364.34,561.35 360.85,563.10 356.49,563.10" fill="#f6f6f6" stroke="#1a1a1a" stroke-width="1.35" stroke-linejoin="round"/><polygon points="299.49,569.00 324.78,569.00 324.78,575.11 320.42,575.98 315.19,577.72 309.95,579.47 304.72,580.34 299.49,580.34" fill="#c8c8c8"/><polyline points="299.49,580.34 304.72,580.34 309.95,579.47 315.19,577.72 320.42,575.98 324.78,575.11" fill="none" stroke="#1a1a1a" stroke-width="1.6" stroke-linejoin="round"/><polygon points="313.44,569.00 321.29,569.00 320.86,573.36 314.32,572.92" fill="#f4f4f4" stroke="#1a1a1a" stroke-width="1.35" stroke-linejoin="round"/><polygon points="325.65,574.23 329.14,569.87 332.63,573.36 330.89,579.47 328.27,582.08 325.65,578.59" fill="#2c2c2c" stroke="#1a1a1a" stroke-width="1.35" stroke-linejoin="round"/><polygon points="336.99,578.16 340.48,574.23 343.97,578.16 340.48,582.08" fill="#f6f6f6" stroke="#1a1a1a" stroke-width="1.6" stroke-linejoin="round"/><polygon points="328.27,582.08 329.14,588.19 332.63,591.68 336.99,595.16 339.61,592.55 334.37,589.06 331.76,586.44" fill="#bbb" stroke="#1a1a1a" stroke-width="1.35" stroke-linejoin="round"/><polygon points="302.11,592.55 307.34,589.06 313.44,584.70 316.93,582.08 321.29,586.44 322.16,593.42 323.91,597.78 319.55,602.14 315.19,601.27 311.70,602.14 309.08,605.63 307.34,610.86 303.85,607.37 300.36,605.63 301.23,602.14 304.72,600.40 306.47,597.78 303.85,595.16" fill="#cfcfcf" stroke="#1a1a1a" stroke-width="1.35" stroke-linejoin="round"/><polygon points="304.72,595.16 313.44,594.29 310.83,601.27 313.44,609.12 304.72,607.37 307.34,602.14" fill="#8a8a8a" stroke="#1a1a1a" stroke-width="1.1" stroke-linejoin="round"/><polygon points="343.97,587.32 348.33,584.70 351.82,583.83 354.00,584.70 354.00,603.01 350.07,602.14 346.58,596.91 344.84,591.68" fill="#d0d0d0" stroke="#1a1a1a" stroke-width="1.35" stroke-linejoin="round"/><polygon points="347.46,588.19 350.07,585.57 352.69,588.19 350.07,590.80" fill="#777" stroke="#1a1a1a" stroke-width="1.35" stroke-linejoin="round"/><polygon points="348.33,597.78 350.95,594.73 353.56,597.78 350.95,600.83" fill="#666" stroke="#1a1a1a" stroke-width="1.35" stroke-linejoin="round"/><polyline points="316.93,582.08 320.42,579.47 324.78,578.59 328.27,580.34" fill="none" stroke="#1a1a1a" stroke-width="1.35" stroke-linejoin="round"/><polygon points="390.50,569.00 407.51,569.00 407.51,595.16 401.84,590.80 397.48,589.93 393.12,587.32 389.63,582.95 386.14,578.59 387.89,574.23" fill="#bdbdbd"/><polygon points="401.84,580.34 407.51,580.34 407.51,595.16 401.84,594.29" fill="#7a7a7a"/><polyline points="379.16,577.72 384.40,577.72 389.63,582.95 393.12,587.32 397.48,589.93 401.84,590.80 405.33,591.68 407.51,592.55" fill="none" stroke="#1a1a1a" stroke-width="1.6" stroke-linejoin="round"/><polyline points="390.50,569.00 394.86,572.49 391.37,575.98 390.50,579.47 393.99,582.95 398.35,586.44 401.84,588.19" fill="none" stroke="#1a1a1a" stroke-width="1.35" stroke-linejoin="round"/><polygon points="370.44,588.19 375.68,583.83 380.04,579.47 385.27,581.21 388.76,585.57 389.63,592.55 385.27,595.16 380.91,596.91 376.55,598.65 372.19,596.91 370.44,592.55" fill="#d0d0d0" stroke="#1a1a1a" stroke-width="1.35" stroke-linejoin="round"/><polygon points="380.91,592.55 383.09,588.19 384.83,592.55" fill="#bbb" stroke="#1a1a1a" stroke-width="1.0" stroke-linejoin="round"/><ellipse cx="363.47" cy="577.72" rx="3.49" ry="1.74" fill="#aaa" stroke="#1a1a1a" stroke-width="1.35"/><ellipse cx="364.34" cy="587.32" rx="3.49" ry="1.57" fill="#ccc" stroke="#1a1a1a" stroke-width="1.35"/><polygon points="368.70,582.08 373.06,574.23 377.42,576.85 373.06,586.44" fill="#f6f6f6" stroke="#1a1a1a" stroke-width="1.35" stroke-linejoin="round"/><polyline points="353.00,599.53 357.36,602.14 361.72,603.89 364.34,602.14 363.47,597.78 360.85,593.42 358.23,590.80 354.74,589.06 353.00,589.93" fill="none" stroke="#1a1a1a" stroke-width="1.35" stroke-linejoin="round"/><polyline points="353.00,574.23 356.49,577.72 358.23,582.08 356.49,586.44 353.00,587.32" fill="none" stroke="#1a1a1a" stroke-width="1.35" stroke-linejoin="round"/><polyline points="401.84,596.91 407.51,597.78" fill="none" stroke="#1a1a1a" stroke-width="1.35" stroke-linejoin="round"/><polyline points="353.00,609.99 356.49,610.86 358.23,609.99" fill="none" stroke="#1a1a1a" stroke-width="1.35" stroke-linejoin="round"/><polygon points="355.18,582.08 356.49,580.77 357.80,582.08 356.49,583.39" fill="#f4f4f4" stroke="#1a1a1a" stroke-width="1.0" stroke-linejoin="round"/><polygon points="357.80,579.47 359.11,578.16 360.41,579.47 359.11,580.77" fill="#f4f4f4" stroke="#1a1a1a" stroke-width="1.0" stroke-linejoin="round"/><polygon points="355.18,587.32 356.49,586.01 357.80,587.32 356.49,588.62" fill="#f4f4f4" stroke="#1a1a1a" stroke-width="1.0" stroke-linejoin="round"/><polygon points="358.67,585.57 359.98,584.26 361.29,585.57 359.98,586.88" fill="#f4f4f4" stroke="#1a1a1a" stroke-width="1.0" stroke-linejoin="round"/><polygon points="376.55,606.50 379.16,602.14 383.53,601.27 387.89,603.89 387.01,609.99 382.65,611.74 378.29,609.99" fill="#cfcfcf" stroke="#1a1a1a" stroke-width="1.35" stroke-linejoin="round"/><polygon points="389.63,596.91 393.99,594.29 399.22,597.78 397.48,607.37 393.99,609.99 390.50,606.50" fill="#bbb" stroke="#1a1a1a" stroke-width="1.35" stroke-linejoin="round"/><ellipse cx="393.99" cy="602.14" rx="1.22" ry="4.36" fill="#666" stroke="#1a1a1a" stroke-width="1.0"/><ellipse cx="388.32" cy="618.89" rx="2.62" ry="2.44" fill="#333" stroke="#1a1a1a" stroke-width="1.35"/><ellipse cx="388.32" cy="619.15" rx="1.05" ry="1.05" fill="#bbb"/><polygon points="375.68,572.49 378.29,569.00 381.78,572.49" fill="#aaa" stroke="#1a1a1a" stroke-width="1.0" stroke-linejoin="round"/><polyline points="299.46,538.46 306.38,535.01 311.56,540.19 316.75,535.01 321.94,538.46 325.40,533.28 330.58,538.46 335.77,536.74 340.96,541.92 337.50,547.10 334.04,550.56" fill="none" stroke="#1a1a1a" stroke-width="1.3" stroke-linejoin="round"/><polyline points="299.46,550.56 306.38,548.83 313.29,550.56 320.21,552.29 327.13,554.02 334.04,555.74 339.23,554.02 344.42,555.74" fill="none" stroke="#1a1a1a" stroke-width="1.3" stroke-linejoin="round"/><polyline points="299.46,573.02 306.38,574.75 313.29,576.48 320.21,578.21 323.67,573.02 330.58,569.57 337.50,567.84 344.42,564.38 349.61,560.93 354.79,559.20 359.98,562.66 365.17,564.38" fill="none" stroke="#1a1a1a" stroke-width="1.3" stroke-linejoin="round"/><polyline points="347.88,528.10 353.06,533.28 356.52,540.19 354.79,547.10 349.61,550.56 346.15,555.74 351.33,559.20" fill="none" stroke="#1a1a1a" stroke-width="1.3" stroke-linejoin="round"/><polyline points="358.25,545.38 361.71,550.56 356.52,555.74 359.98,559.20 365.17,557.47 368.63,560.93" fill="none" stroke="#1a1a1a" stroke-width="1.3" stroke-linejoin="round"/><polyline points="370.36,533.28 377.27,531.55 382.46,526.37 389.38,528.10 392.84,533.28 398.02,535.01 403.21,536.74 407.71,540.19" fill="none" stroke="#1a1a1a" stroke-width="1.3" stroke-linejoin="round"/><polyline points="368.63,545.38 373.81,543.65 377.27,548.83 372.09,552.29 375.54,557.47 382.46,562.66 385.92,567.84 392.84,569.57 399.75,573.02 406.67,571.30" fill="none" stroke="#1a1a1a" stroke-width="1.3" stroke-linejoin="round"/><polyline points="379.00,581.66 385.92,585.12 391.11,590.30 396.29,595.49 403.21,597.22" fill="none" stroke="#1a1a1a" stroke-width="1.3" stroke-linejoin="round"/><polyline points="330.58,595.49 335.77,600.67 342.69,597.22 347.88,600.67 353.06,595.49" fill="none" stroke="#1a1a1a" stroke-width="1.3" stroke-linejoin="round"/><polyline points="306.38,526.37 311.56,522.91 316.75,526.37 321.94,522.91 327.13,526.37 332.31,522.91 337.50,526.37 342.69,522.91" fill="none" stroke="#1a1a1a" stroke-width="1.3" stroke-linejoin="round"/><polyline points="313.29,559.20 318.48,562.66 323.67,560.93 328.85,564.38 334.04,562.66" fill="none" stroke="#1a1a1a" stroke-width="1.3" stroke-linejoin="round"/><polygon points="297.73,533.28 302.92,528.10 308.10,521.18 309.83,517.73 389.38,517.73 392.84,524.64 399.75,528.10 407.71,529.82 407.71,597.22 403.21,600.67 398.02,604.13 392.84,609.31 387.65,610.18 382.46,609.31 377.27,605.86 373.81,600.67 370.36,595.49 366.90,593.76 363.44,597.22 359.98,598.94 354.79,600.67 351.33,597.22 347.88,592.03 346.15,586.85 342.69,583.39 337.50,581.66 335.77,586.85 337.50,592.90 334.91,590.30 330.58,586.85 325.40,588.58 321.94,594.62 319.34,600.67 316.75,605.86 312.43,609.31 306.38,610.18 301.19,607.58 297.73,605.86" fill="none" stroke="#1a1a1a" stroke-width="1.3" stroke-linejoin="round"/>
</svg>
<path d="M299.60,620.80v-2.8M299.60,519.40v2.8M305.15,620.80v-4.8M305.15,519.40v4.8M310.70,620.80v-2.8M310.70,519.40v2.8M316.25,620.80v-2.8M316.25,519.40v2.8M321.80,620.80v-2.8M321.80,519.40v2.8M327.35,620.80v-4.8M327.35,519.40v4.8M332.90,620.80v-2.8M332.90,519.40v2.8M338.45,620.80v-2.8M338.45,519.40v2.8M344.00,620.80v-2.8M344.00,519.40v2.8M349.55,620.80v-4.8M349.55,519.40v4.8M355.10,620.80v-2.8M355.10,519.40v2.8M360.65,620.80v-2.8M360.65,519.40v2.8M366.20,620.80v-2.8M366.20,519.40v2.8M371.75,620.80v-4.8M371.75,519.40v4.8M377.30,620.80v-2.8M377.30,519.40v2.8M382.85,620.80v-2.8M382.85,519.40v2.8M388.40,620.80v-2.8M388.40,519.40v2.8M393.95,620.80v-4.8M393.95,519.40v4.8M399.50,620.80v-2.8M399.50,519.40v2.8M405.05,620.80v-2.8M405.05,519.40v2.8M299.60,615.64h2.8M407.90,615.64h-2.8M299.60,609.19h2.8M407.90,609.19h-2.8M299.60,602.74h2.8M407.90,602.74h-2.8M299.60,596.29h4.8M407.90,596.29h-4.8M299.60,589.84h2.8M407.90,589.84h-2.8M299.60,583.39h2.8M407.90,583.39h-2.8M299.60,576.94h2.8M407.90,576.94h-2.8M299.60,570.49h4.8M407.90,570.49h-4.8M299.60,564.04h2.8M407.90,564.04h-2.8M299.60,557.59h2.8M407.90,557.59h-2.8M299.60,551.14h2.8M407.90,551.14h-2.8M299.60,544.69h4.8M407.90,544.69h-4.8M299.60,538.24h2.8M407.90,538.24h-2.8M299.60,531.78h2.8M407.90,531.78h-2.8M299.60,525.33h2.8M407.90,525.33h-2.8" stroke="#222" stroke-width="0.9" fill="none"/>
<rect x="299.60" y="519.40" width="108.3" height="101.4" fill="none" stroke="#1a1a1a" stroke-width="1.1"/>
<svg x="427.70" y="519.40" width="108.3" height="101.4" viewBox="427.70 519.40 108.3 101.4" overflow="hidden">
<circle cx="489.3" cy="590.4" r="0.45" fill="#aaa"/><circle cx="490.0" cy="578.7" r="0.45" fill="#aaa"/><circle cx="515.5" cy="611.2" r="0.45" fill="#aaa"/><circle cx="498.2" cy="576.3" r="0.45" fill="#aaa"/><circle cx="483.8" cy="585.1" r="0.45" fill="#aaa"/><circle cx="454.5" cy="618.1" r="0.45" fill="#aaa"/><circle cx="535.3" cy="570.2" r="0.45" fill="#aaa"/><circle cx="520.6" cy="599.6" r="0.45" fill="#aaa"/><circle cx="468.8" cy="582.8" r="0.45" fill="#aaa"/><circle cx="500.5" cy="591.9" r="0.45" fill="#aaa"/><circle cx="501.7" cy="602.7" r="0.45" fill="#aaa"/><circle cx="441.9" cy="608.3" r="0.45" fill="#aaa"/><circle cx="533.8" cy="618.9" r="0.45" fill="#aaa"/><circle cx="493.9" cy="570.2" r="0.45" fill="#aaa"/><circle cx="427.9" cy="574.9" r="0.45" fill="#aaa"/><circle cx="529.3" cy="583.8" r="0.45" fill="#aaa"/><circle cx="467.1" cy="615.2" r="0.45" fill="#aaa"/><circle cx="461.5" cy="596.8" r="0.45" fill="#aaa"/><circle cx="474.7" cy="571.3" r="0.45" fill="#aaa"/><circle cx="490.7" cy="612.3" r="0.45" fill="#aaa"/><circle cx="444.4" cy="579.7" r="0.45" fill="#aaa"/><circle cx="472.2" cy="569.8" r="0.45" fill="#aaa"/><circle cx="481.2" cy="611.0" r="0.45" fill="#aaa"/><circle cx="498.7" cy="596.0" r="0.45" fill="#aaa"/><circle cx="520.0" cy="575.7" r="0.45" fill="#aaa"/><circle cx="488.9" cy="587.6" r="0.45" fill="#aaa"/><circle cx="492.5" cy="573.8" r="0.45" fill="#aaa"/><circle cx="511.4" cy="572.9" r="0.45" fill="#aaa"/><circle cx="445.5" cy="610.4" r="0.45" fill="#aaa"/><circle cx="530.0" cy="590.7" r="0.45" fill="#aaa"/><circle cx="472.3" cy="580.8" r="0.45" fill="#aaa"/><circle cx="457.2" cy="600.4" r="0.45" fill="#aaa"/><circle cx="446.8" cy="574.1" r="0.45" fill="#aaa"/><circle cx="476.8" cy="576.5" r="0.45" fill="#aaa"/><circle cx="497.7" cy="611.1" r="0.45" fill="#aaa"/><circle cx="511.6" cy="593.1" r="0.45" fill="#aaa"/><circle cx="465.1" cy="590.8" r="0.45" fill="#aaa"/><circle cx="428.0" cy="605.4" r="0.45" fill="#aaa"/><circle cx="463.4" cy="584.7" r="0.45" fill="#aaa"/><circle cx="436.1" cy="591.5" r="0.45" fill="#aaa"/><circle cx="490.6" cy="588.4" r="0.45" fill="#aaa"/><circle cx="521.6" cy="603.3" r="0.45" fill="#aaa"/><circle cx="453.6" cy="595.5" r="0.45" fill="#aaa"/><circle cx="526.0" cy="595.3" r="0.45" fill="#aaa"/><circle cx="492.6" cy="571.1" r="0.45" fill="#aaa"/><circle cx="480.4" cy="592.2" r="0.45" fill="#aaa"/><circle cx="470.9" cy="590.0" r="0.45" fill="#aaa"/><circle cx="490.8" cy="596.2" r="0.45" fill="#aaa"/><circle cx="480.5" cy="576.6" r="0.45" fill="#aaa"/><circle cx="475.2" cy="618.9" r="0.45" fill="#aaa"/><circle cx="472.4" cy="569.7" r="0.45" fill="#aaa"/><circle cx="427.8" cy="596.1" r="0.45" fill="#aaa"/><circle cx="432.9" cy="572.7" r="0.45" fill="#aaa"/><circle cx="439.2" cy="591.8" r="0.45" fill="#aaa"/><circle cx="534.9" cy="593.4" r="0.45" fill="#aaa"/><circle cx="477.1" cy="590.8" r="0.45" fill="#aaa"/><circle cx="481.7" cy="591.4" r="0.45" fill="#aaa"/><circle cx="506.1" cy="615.2" r="0.45" fill="#aaa"/><circle cx="503.0" cy="590.2" r="0.45" fill="#aaa"/><circle cx="497.8" cy="615.8" r="0.45" fill="#aaa"/><circle cx="444.1" cy="580.3" r="0.45" fill="#aaa"/><circle cx="494.5" cy="604.0" r="0.45" fill="#aaa"/><circle cx="497.0" cy="598.9" r="0.45" fill="#aaa"/><circle cx="517.2" cy="593.1" r="0.45" fill="#aaa"/><circle cx="514.9" cy="618.6" r="0.45" fill="#aaa"/><circle cx="474.6" cy="613.1" r="0.45" fill="#aaa"/><circle cx="505.2" cy="614.7" r="0.45" fill="#aaa"/><circle cx="432.5" cy="616.0" r="0.45" fill="#aaa"/><circle cx="510.5" cy="618.6" r="0.45" fill="#aaa"/><circle cx="533.7" cy="582.9" r="0.45" fill="#aaa"/><circle cx="500.0" cy="575.3" r="0.45" fill="#aaa"/><circle cx="491.9" cy="616.3" r="0.45" fill="#aaa"/><circle cx="448.2" cy="586.3" r="0.45" fill="#aaa"/><circle cx="436.1" cy="578.1" r="0.45" fill="#aaa"/><circle cx="449.9" cy="572.9" r="0.45" fill="#aaa"/><circle cx="535.7" cy="614.6" r="0.45" fill="#aaa"/><circle cx="477.7" cy="607.0" r="0.45" fill="#aaa"/><circle cx="502.7" cy="595.4" r="0.45" fill="#aaa"/><circle cx="473.3" cy="602.8" r="0.45" fill="#aaa"/><circle cx="487.6" cy="581.9" r="0.45" fill="#aaa"/><circle cx="466.9" cy="600.9" r="0.45" fill="#aaa"/><circle cx="495.3" cy="578.9" r="0.45" fill="#aaa"/><circle cx="493.5" cy="614.0" r="0.45" fill="#aaa"/><circle cx="521.8" cy="602.2" r="0.45" fill="#aaa"/><circle cx="435.1" cy="590.2" r="0.45" fill="#aaa"/><circle cx="437.1" cy="570.8" r="0.45" fill="#aaa"/><circle cx="455.0" cy="591.9" r="0.45" fill="#aaa"/><circle cx="509.7" cy="601.0" r="0.45" fill="#aaa"/><circle cx="458.0" cy="604.5" r="0.45" fill="#aaa"/><circle cx="482.3" cy="594.6" r="0.45" fill="#aaa"/><circle cx="456.0" cy="591.1" r="0.45" fill="#aaa"/><circle cx="464.4" cy="606.1" r="0.45" fill="#aaa"/><circle cx="479.7" cy="591.4" r="0.45" fill="#aaa"/><circle cx="479.1" cy="593.1" r="0.45" fill="#aaa"/><circle cx="502.1" cy="605.8" r="0.45" fill="#aaa"/><circle cx="514.2" cy="589.2" r="0.45" fill="#aaa"/><circle cx="513.4" cy="618.7" r="0.45" fill="#aaa"/><circle cx="534.9" cy="605.8" r="0.45" fill="#aaa"/><circle cx="434.5" cy="612.5" r="0.45" fill="#aaa"/><circle cx="518.0" cy="568.7" r="0.45" fill="#aaa"/><circle cx="462.9" cy="584.8" r="0.45" fill="#aaa"/><circle cx="507.6" cy="600.0" r="0.45" fill="#aaa"/><circle cx="458.0" cy="577.7" r="0.45" fill="#aaa"/><circle cx="445.7" cy="572.9" r="0.45" fill="#aaa"/><circle cx="513.0" cy="617.2" r="0.45" fill="#aaa"/><circle cx="451.3" cy="607.1" r="0.45" fill="#aaa"/><circle cx="530.4" cy="577.9" r="0.45" fill="#aaa"/><circle cx="489.4" cy="591.0" r="0.45" fill="#aaa"/><circle cx="533.0" cy="613.7" r="0.45" fill="#aaa"/><circle cx="429.2" cy="578.5" r="0.45" fill="#aaa"/><circle cx="519.3" cy="598.1" r="0.45" fill="#aaa"/><circle cx="484.1" cy="610.5" r="0.45" fill="#aaa"/><circle cx="510.2" cy="618.2" r="0.45" fill="#aaa"/><circle cx="462.8" cy="570.4" r="0.45" fill="#aaa"/><circle cx="502.4" cy="570.5" r="0.45" fill="#aaa"/><circle cx="488.6" cy="613.2" r="0.45" fill="#aaa"/><circle cx="470.4" cy="599.5" r="0.45" fill="#aaa"/><circle cx="446.0" cy="576.2" r="0.45" fill="#aaa"/><circle cx="493.1" cy="613.4" r="0.45" fill="#aaa"/><circle cx="535.7" cy="569.5" r="0.45" fill="#aaa"/><circle cx="527.2" cy="594.8" r="0.45" fill="#aaa"/><circle cx="465.3" cy="588.8" r="0.45" fill="#aaa"/><circle cx="490.0" cy="586.2" r="0.45" fill="#aaa"/><circle cx="443.2" cy="613.5" r="0.45" fill="#aaa"/><circle cx="503.9" cy="600.0" r="0.45" fill="#aaa"/><circle cx="505.7" cy="619.8" r="0.45" fill="#aaa"/><circle cx="446.4" cy="611.3" r="0.45" fill="#aaa"/><circle cx="516.5" cy="585.9" r="0.45" fill="#aaa"/><circle cx="487.9" cy="592.0" r="0.45" fill="#aaa"/><circle cx="448.5" cy="590.7" r="0.45" fill="#aaa"/><circle cx="444.0" cy="617.0" r="0.45" fill="#aaa"/><circle cx="447.8" cy="601.2" r="0.45" fill="#aaa"/><circle cx="489.2" cy="619.2" r="0.45" fill="#aaa"/><circle cx="513.4" cy="586.8" r="0.45" fill="#aaa"/><circle cx="468.2" cy="570.5" r="0.45" fill="#aaa"/><circle cx="433.1" cy="584.2" r="0.45" fill="#aaa"/><circle cx="530.3" cy="570.5" r="0.45" fill="#aaa"/><circle cx="446.6" cy="601.4" r="0.45" fill="#aaa"/><circle cx="466.5" cy="577.6" r="0.45" fill="#aaa"/><circle cx="530.0" cy="570.1" r="0.45" fill="#aaa"/><circle cx="492.2" cy="590.4" r="0.45" fill="#aaa"/><circle cx="464.8" cy="578.1" r="0.45" fill="#aaa"/><circle cx="445.1" cy="589.2" r="0.45" fill="#aaa"/><circle cx="508.9" cy="592.5" r="0.45" fill="#aaa"/><circle cx="511.6" cy="614.1" r="0.45" fill="#aaa"/><circle cx="446.2" cy="614.2" r="0.45" fill="#aaa"/><circle cx="490.4" cy="590.0" r="0.45" fill="#aaa"/><circle cx="483.0" cy="614.7" r="0.45" fill="#aaa"/><circle cx="469.9" cy="572.8" r="0.45" fill="#aaa"/><circle cx="531.3" cy="574.1" r="0.45" fill="#aaa"/><circle cx="439.0" cy="605.9" r="0.45" fill="#aaa"/><circle cx="461.1" cy="583.1" r="0.45" fill="#aaa"/><circle cx="497.8" cy="614.8" r="0.45" fill="#aaa"/><circle cx="464.9" cy="615.7" r="0.45" fill="#aaa"/><circle cx="494.5" cy="599.9" r="0.45" fill="#aaa"/><circle cx="485.1" cy="568.5" r="0.45" fill="#aaa"/><circle cx="444.6" cy="603.5" r="0.45" fill="#aaa"/><circle cx="502.5" cy="572.9" r="0.45" fill="#aaa"/><circle cx="496.4" cy="592.8" r="0.45" fill="#aaa"/><circle cx="489.9" cy="588.9" r="0.45" fill="#aaa"/><polygon points="425.73,517.73 535.71,517.73 535.71,588.58 527.75,590.30 520.84,597.22 513.92,602.40 507.00,604.13 500.09,607.58 493.17,605.86 489.71,597.22 486.25,588.58 482.79,581.66 481.06,574.75 475.88,571.30 468.96,567.84 465.50,564.38 458.58,562.66 449.94,560.93 441.29,562.66 434.38,559.20 425.73,557.47" fill="#d6d6d6"/><polygon points="425.73,559.20 434.38,560.93 441.29,564.38 449.94,567.84 458.58,573.02 465.50,581.66 467.23,590.30 465.50,598.94 462.04,605.86 458.58,611.90 449.94,613.63 441.29,611.90 432.65,614.50 425.73,613.63" fill="#e6e6e6"/><polygon points="427.49,522.98 432.72,521.23 439.70,521.23 444.06,525.59 444.93,529.95 441.44,534.32 436.21,537.80 430.98,539.55 427.49,539.55" fill="#c4c4c4" stroke="#1a1a1a" stroke-width="1.5" stroke-linejoin="round"/><polygon points="439.70,521.23 444.93,526.47 450.16,524.72 455.40,522.98 460.63,522.11 464.12,522.98 464.99,527.34 460.63,529.95 454.53,529.95 448.42,529.08 444.93,529.08" fill="#b4b4b4" stroke="#1a1a1a" stroke-width="1.5" stroke-linejoin="round"/><ellipse cx="459.76" cy="526.47" rx="2.18" ry="1.22" fill="#555"/><polygon points="464.12,519.49 482.00,519.49 482.00,536.06 479.82,536.93 476.33,537.80 472.84,536.93 469.35,535.19 464.12,533.44 458.89,533.44 454.53,532.57 450.16,531.70 464.12,527.34" fill="#f6f6f6"/><polyline points="444.93,529.95 450.16,531.70 454.53,532.57 458.89,533.44 464.12,533.44 469.35,535.19 472.84,536.93 476.33,537.80 479.82,536.93 482.00,536.06" fill="none" stroke="#1a1a1a" stroke-width="1.5" stroke-linejoin="round"/><polyline points="445.80,535.19 450.16,535.19 458.89,536.06 467.61,537.80 472.84,541.29 476.33,539.55 482.00,538.68" fill="none" stroke="#1a1a1a" stroke-width="1.35" stroke-linejoin="round"/><polygon points="471.10,519.49 472.84,525.59 474.58,519.49" fill="#ddd" stroke="#1a1a1a" stroke-width="1.1" stroke-linejoin="round"/><polygon points="477.20,519.49 478.95,525.59 480.69,519.49" fill="#ddd" stroke="#1a1a1a" stroke-width="1.1" stroke-linejoin="round"/><polygon points="427.49,556.99 432.72,556.99 437.95,555.25 443.19,556.99 448.42,560.48 453.65,560.48 458.89,558.74 462.37,556.12 467.61,556.12 472.84,557.86 478.07,559.61 482.00,561.35 482.00,569.99 427.49,569.99" fill="#ececec"/><polyline points="427.49,556.99 432.72,556.99 437.95,555.25 443.19,556.99 448.42,560.48 453.65,560.48 458.89,558.74 462.37,556.12 467.61,556.12 472.84,557.86 478.07,559.61 482.00,561.35" fill="none" stroke="#1a1a1a" stroke-width="1.5" stroke-linejoin="round"/><polyline points="427.49,554.37 432.72,554.81 437.95,553.50 443.19,554.81 448.42,557.86 453.65,558.30 458.89,556.99" fill="none" stroke="#1a1a1a" stroke-width="1.1" stroke-linejoin="round"/><polygon points="442.32,542.16 446.68,539.55 450.16,542.16 452.78,547.40 450.16,549.14 445.80,546.53" fill="#aaa" stroke="#1a1a1a" stroke-width="1.35" stroke-linejoin="round"/><ellipse cx="446.68" cy="543.04" rx="1.05" ry="0.87" fill="#444"/><polygon points="442.75,556.99 446.24,554.37 449.73,556.99 446.24,559.61" fill="#555" stroke="#1a1a1a" stroke-width="1.35" stroke-linejoin="round"/><polygon points="463.25,546.96 465.86,545.74 468.48,546.96 465.86,548.18" fill="#f4f4f4" stroke="#1a1a1a" stroke-width="1.1" stroke-linejoin="round"/><polygon points="459.76,551.93 462.37,550.71 464.99,551.93 462.37,553.15" fill="#999" stroke="#1a1a1a" stroke-width="1.1" stroke-linejoin="round"/><polygon points="471.97,552.63 473.28,550.45 474.58,552.63 473.28,554.81" fill="#eee" stroke="#1a1a1a" stroke-width="1.1" stroke-linejoin="round"/><ellipse cx="473.71" cy="546.96" rx="1.05" ry="0.87" fill="#444"/><ellipse cx="481.13" cy="547.40" rx="1.05" ry="0.87" fill="#444"/><polygon points="427.49,541.29 434.47,541.29 439.70,545.65 434.47,546.53 427.49,545.65" fill="#f4f4f4" stroke="#1a1a1a" stroke-width="1.35" stroke-linejoin="round"/><polygon points="430.98,561.35 434.47,559.61 437.95,563.10 434.47,569.99 430.11,569.99" fill="#cfcfcf" stroke="#1a1a1a" stroke-width="1.35" stroke-linejoin="round"/><polygon points="465.86,569.99 471.10,563.97 478.07,563.10 482.00,564.84 482.00,569.99" fill="#c4c4c4" stroke="#1a1a1a" stroke-width="1.35" stroke-linejoin="round"/><polyline points="448.42,569.99 452.78,564.84 457.14,563.10" fill="none" stroke="#1a1a1a" stroke-width="1.35" stroke-linejoin="round"/><polygon points="481.00,530.83 486.23,529.08 492.34,526.47 498.44,528.21 500.19,532.57 497.57,538.68 491.47,540.42 484.49,538.68 481.00,537.80" fill="#f4f4f4"/><polygon points="503.68,526.47 507.16,525.59 509.78,530.83 512.40,536.93 513.71,543.91 515.01,549.14 518.50,552.63 521.12,557.86 523.74,564.84 526.35,569.99 519.37,569.99 515.89,563.10 516.76,557.86 514.14,553.50 508.91,550.01 505.86,545.65 507.16,540.42 505.42,535.19 503.68,529.08" fill="#9c9c9c" stroke="#1a1a1a" stroke-width="1.5" stroke-linejoin="round"/><polygon points="521.12,564.84 526.35,564.84 528.10,569.99 521.99,569.99" fill="#1e1e1e"/><polygon points="515.45,543.91 516.76,539.55 518.50,543.91 517.63,546.53" fill="#333" stroke="#1a1a1a" stroke-width="1.0" stroke-linejoin="round"/><polygon points="509.78,545.65 511.09,542.16 512.40,545.65" fill="#333"/><polygon points="493.21,544.78 501.06,545.65 498.44,555.25 494.08,554.37" fill="#f8f8f8" stroke="#1a1a1a" stroke-width="1.35" stroke-linejoin="round"/><polygon points="522.86,526.47 528.10,524.72 533.33,527.34 535.51,528.21 535.51,542.16 533.33,542.16 529.84,538.68 526.35,535.19 524.61,530.83" fill="#eeeeee"/><ellipse cx="532.89" cy="533.44" rx="3.05" ry="2.62" fill="#888" stroke="#1a1a1a" stroke-width="1.35"/><polyline points="481.00,527.34 486.23,525.59 492.34,522.11 496.70,522.98 500.19,527.34 498.44,531.70 493.21,533.44 487.98,531.70 484.49,535.19 481.00,536.06" fill="none" stroke="#1a1a1a" stroke-width="1.35" stroke-linejoin="round"/><polyline points="481.00,540.42 486.23,539.55 491.47,542.16 494.95,544.78 489.72,547.40 484.49,545.65 481.00,546.53" fill="none" stroke="#1a1a1a" stroke-width="1.35" stroke-linejoin="round"/><polyline points="481.00,552.63 486.23,551.76 491.47,553.50 496.70,555.25 501.93,556.99 498.44,559.61 493.21,561.35 487.98,560.48 484.49,563.10 481.00,564.84" fill="none" stroke="#1a1a1a" stroke-width="1.35" stroke-linejoin="round"/><polyline points="517.63,526.47 521.99,523.85 527.22,526.47 524.61,530.83 526.35,535.19 529.84,538.68 533.33,542.16 535.51,543.04" fill="none" stroke="#1a1a1a" stroke-width="1.35" stroke-linejoin="round"/><polyline points="521.12,549.14 526.35,550.89 529.84,554.37 533.33,557.86 535.51,559.61" fill="none" stroke="#1a1a1a" stroke-width="1.35" stroke-linejoin="round"/><polyline points="529.84,544.78 533.33,546.53 535.51,547.40" fill="none" stroke="#1a1a1a" stroke-width="1.35" stroke-linejoin="round"/><polyline points="529.84,550.89 533.33,552.63 535.51,553.50" fill="none" stroke="#1a1a1a" stroke-width="1.35" stroke-linejoin="round"/><polyline points="481.00,519.49 484.49,521.23 488.85,520.36 492.34,519.49" fill="none" stroke="#1a1a1a" stroke-width="1.35" stroke-linejoin="round"/><polyline points="494.95,519.49 497.57,522.98 501.06,521.23" fill="none" stroke="#1a1a1a" stroke-width="1.35" stroke-linejoin="round"/><ellipse cx="511.53" cy="527.34" rx="0.87" ry="0.87" fill="#333"/><ellipse cx="521.99" cy="526.90" rx="3.05" ry="2.18" fill="#bbb" stroke="#1a1a1a" stroke-width="1.1"/><ellipse cx="521.99" cy="526.90" rx="1.05" ry="0.78" fill="#444"/><ellipse cx="495.39" cy="563.10" rx="5.23" ry="3.31" fill="#c4c4c4" stroke="#1a1a1a" stroke-width="1.35"/><ellipse cx="495.39" cy="563.10" rx="1.57" ry="1.22" fill="#444"/><polygon points="501.93,568.33 505.42,563.97 509.78,568.33" fill="#333" stroke="#1a1a1a" stroke-width="1.0" stroke-linejoin="round"/><ellipse cx="486.23" cy="547.40" rx="1.74" ry="1.05" fill="#444"/><polygon points="496.70,542.16 498.44,539.55 501.06,542.16" fill="#f4f4f4" stroke="#1a1a1a" stroke-width="1.0" stroke-linejoin="round"/><ellipse cx="501.93" cy="551.76" rx="1.05" ry="0.70" fill="#444"/><polygon points="427.49,569.00 451.91,569.00 450.16,574.23 446.68,579.47 445.80,582.95 443.19,586.44 437.08,587.32 435.34,589.06 432.72,589.06 427.49,589.93" fill="#d2d2d2"/><polyline points="452.78,569.00 450.16,574.23 446.68,579.47 445.80,582.95 444.06,585.57" fill="none" stroke="#1a1a1a" stroke-width="1.5" stroke-linejoin="round"/><polyline points="439.70,569.00 441.44,572.49 445.80,572.49 448.42,569.00" fill="none" stroke="#1a1a1a" stroke-width="1.35" stroke-linejoin="round"/><polyline points="427.49,580.34 430.98,582.95 434.47,586.44 431.85,589.93 428.36,590.80" fill="none" stroke="#1a1a1a" stroke-width="1.35" stroke-linejoin="round"/><polygon points="431.85,598.65 435.34,596.04 438.83,598.65 435.34,601.27" fill="#f4f4f4" stroke="#1a1a1a" stroke-width="1.6" stroke-linejoin="round"/><polyline points="427.49,602.14 434.47,606.50 429.23,609.99 427.49,610.86" fill="none" stroke="#1a1a1a" stroke-width="1.35" stroke-linejoin="round"/><polygon points="444.06,586.44 450.16,584.70 455.40,583.83 458.89,586.44 457.14,589.93 452.78,594.29 447.55,594.29 444.93,590.80" fill="#c8c8c8" stroke="#1a1a1a" stroke-width="1.35" stroke-linejoin="round"/><polygon points="462.37,572.49 469.35,575.98 467.61,580.34 462.37,579.47" fill="#f6f6f6" stroke="#1a1a1a" stroke-width="1.35" stroke-linejoin="round"/><polyline points="462.37,579.47 458.89,582.95 453.65,585.57" fill="none" stroke="#1a1a1a" stroke-width="1.35" stroke-linejoin="round"/><polygon points="448.42,602.14 452.78,597.78 458.89,596.04 462.37,593.42 467.61,590.80 469.35,592.55 464.12,595.16 461.50,597.78 464.99,601.27 466.74,605.63 464.99,609.12 460.63,610.86 456.27,612.61 452.78,609.99 450.16,605.63" fill="#c4c4c4" stroke="#1a1a1a" stroke-width="1.35" stroke-linejoin="round"/><ellipse cx="451.47" cy="603.01" rx="0.87" ry="0.87" fill="#333"/><ellipse cx="458.01" cy="603.89" rx="0.87" ry="0.87" fill="#333"/><polyline points="457.14,612.61 456.27,617.84 454.53,621.33" fill="none" stroke="#1a1a1a" stroke-width="1.35" stroke-linejoin="round"/><polyline points="458.01,613.48 458.89,621.33" fill="none" stroke="#1a1a1a" stroke-width="1.35" stroke-linejoin="round"/><polygon points="429.23,614.35 434.47,610.86 441.44,609.99 443.19,614.35 439.70,615.22 434.47,613.48 429.23,615.22" fill="#e0e0e0" stroke="#1a1a1a" stroke-width="1.35" stroke-linejoin="round"/><polygon points="471.10,598.65 474.58,595.16 479.82,594.29 482.00,595.16 480.69,600.40 476.33,602.14 473.71,604.76 471.10,602.14" fill="#c8c8c8" stroke="#1a1a1a" stroke-width="1.35" stroke-linejoin="round"/><polygon points="466.74,569.00 482.00,569.00 482.00,574.23 476.33,574.23 471.10,572.49" fill="#c8c8c8" stroke="#1a1a1a" stroke-width="1.35" stroke-linejoin="round"/><polyline points="444.06,586.44 444.93,582.08 446.68,580.34" fill="none" stroke="#1a1a1a" stroke-width="1.35" stroke-linejoin="round"/><polyline points="427.49,619.58 430.98,617.84 434.47,619.58 437.95,617.84 441.44,619.58 444.06,616.10 446.68,614.35" fill="none" stroke="#1a1a1a" stroke-width="1.0" stroke-linejoin="round"/><polygon points="498.44,569.00 513.27,569.00 512.40,574.23 509.78,577.72 505.42,579.47 501.06,580.34 496.70,582.95 495.83,580.34 498.44,575.98 499.32,571.62" fill="#c0c0c0" stroke="#1a1a1a" stroke-width="1.35" stroke-linejoin="round"/><polygon points="481.00,574.23 484.49,572.49 487.98,574.23 492.34,576.85 494.95,582.08 493.21,586.44 489.72,587.32 486.23,583.83 483.62,580.34 481.00,578.59" fill="#d4d4d4" stroke="#1a1a1a" stroke-width="1.35" stroke-linejoin="round"/><polygon points="484.49,588.19 488.85,583.83 494.08,588.19 490.59,592.55 486.23,591.68" fill="#2e2e2e" stroke="#1a1a1a" stroke-width="1.35" stroke-linejoin="round"/><polygon points="494.95,586.44 500.19,585.57 507.16,583.83 511.53,582.95 516.76,587.32 514.14,591.68 517.63,594.29 521.12,597.78 519.37,602.14 516.76,605.63 512.40,603.89 509.78,600.40 507.16,602.14 503.68,603.01 500.19,603.01 498.44,600.40 495.83,596.91 494.95,591.68" fill="#d0d0d0" stroke="#1a1a1a" stroke-width="1.35" stroke-linejoin="round"/><polygon points="507.16,586.44 511.53,583.83 516.76,587.32 514.14,591.68 510.65,595.16 506.29,597.78 501.93,596.91 503.68,592.55" fill="#9c9c9c" stroke="#1a1a1a" stroke-width="1.35" stroke-linejoin="round"/><ellipse cx="499.32" cy="597.78" rx="1.05" ry="1.05" fill="#333"/><polygon points="514.14,595.16 517.63,594.29 520.25,597.78 518.50,602.14 515.45,601.27" fill="#444" stroke="#1a1a1a" stroke-width="1.35" stroke-linejoin="round"/><polygon points="516.76,577.72 521.99,575.98 528.10,576.85 529.84,579.47 524.61,582.95 519.37,581.21" fill="#bbb" stroke="#1a1a1a" stroke-width="1.5" stroke-linejoin="round"/><ellipse cx="521.99" cy="578.77" rx="1.74" ry="1.22" fill="#555"/><polygon points="515.89,570.74 520.25,569.00 528.10,569.00 524.61,572.49 518.50,573.36" fill="#222"/><polygon points="526.35,583.83 528.97,588.19 525.48,589.06 522.86,587.32" fill="#f6f6f6" stroke="#1a1a1a" stroke-width="1.35" stroke-linejoin="round"/><polygon points="492.34,608.25 495.83,603.89 499.32,602.14 507.16,603.01 505.42,607.37 498.44,609.12" fill="#eeeeee" stroke="#1a1a1a" stroke-width="1.35" stroke-linejoin="round"/><polygon points="481.00,596.91 483.62,598.65 481.00,600.40" fill="#333"/><ellipse cx="502.80" cy="576.85" rx="2.62" ry="1.31" fill="#ddd" stroke="#1a1a1a" stroke-width="1.0"/><ellipse cx="494.95" cy="576.85" rx="0.87" ry="0.87" fill="#444"/><ellipse cx="484.49" cy="572.49" rx="1.74" ry="0.87" fill="#eee" stroke="#1a1a1a" stroke-width="1.0"/><polyline points="481.00,585.57 483.62,588.19 482.74,591.68 484.49,593.42" fill="none" stroke="#1a1a1a" stroke-width="1.35" stroke-linejoin="round"/><polyline points="427.46,521.18 434.38,522.91 441.29,521.18 444.75,526.37 441.29,531.55 444.75,535.01 439.56,538.46 434.38,540.19 427.46,541.92" fill="none" stroke="#1a1a1a" stroke-width="1.3" stroke-linejoin="round"/><polyline points="444.75,526.37 451.67,524.64 458.58,522.91 463.77,526.37 467.23,529.82 463.77,533.28 458.58,535.01 451.67,533.28 446.48,535.01" fill="none" stroke="#1a1a1a" stroke-width="1.3" stroke-linejoin="round"/><polyline points="427.46,545.38 434.38,543.65 441.29,538.46 448.21,535.01 455.13,533.28 462.04,535.01 468.96,536.74 475.88,535.01 482.79,533.28 489.71,531.55 496.63,529.82 500.09,526.37" fill="none" stroke="#1a1a1a" stroke-width="1.3" stroke-linejoin="round"/><polyline points="427.46,557.47 434.38,559.20 441.29,557.47 448.21,560.93 455.13,559.20 462.04,557.47 468.96,560.93 475.88,559.20 482.79,557.47 489.71,559.20 496.63,557.47" fill="none" stroke="#1a1a1a" stroke-width="1.3" stroke-linejoin="round"/><polyline points="427.46,567.84 432.65,564.38 437.83,567.84 443.02,564.38 448.21,567.84 453.40,571.30 449.94,576.48 455.13,581.66 460.31,579.94 465.50,585.12 462.04,590.30 465.50,595.49" fill="none" stroke="#1a1a1a" stroke-width="1.3" stroke-linejoin="round"/><polyline points="427.46,581.66 434.38,585.12 439.56,581.66 444.75,586.85 449.94,585.12 451.67,590.30 448.21,595.49 453.40,598.94 458.58,597.22 463.77,602.40 460.31,607.58 455.13,612.77" fill="none" stroke="#1a1a1a" stroke-width="1.3" stroke-linejoin="round"/><polyline points="427.46,592.03 432.65,595.49 437.83,592.03 443.02,597.22 439.56,602.40 434.38,605.86 429.19,609.31" fill="none" stroke="#1a1a1a" stroke-width="1.3" stroke-linejoin="round"/><polyline points="489.71,555.74 493.17,560.93 489.71,566.11 493.17,573.02 486.25,576.48 482.79,581.66 487.98,586.85 493.17,592.03 491.44,597.22 494.90,602.40 500.09,605.86 507.00,607.58 513.92,604.13 519.11,598.94 522.56,593.76 527.75,588.58 534.67,585.12" fill="none" stroke="#1a1a1a" stroke-width="1.3" stroke-linejoin="round"/><polyline points="500.09,529.82 503.54,536.74 501.81,543.65 505.27,550.56 510.46,555.74 515.65,560.93 520.84,564.38 526.02,567.84 531.21,569.57 535.71,573.02" fill="none" stroke="#1a1a1a" stroke-width="1.3" stroke-linejoin="round"/><polyline points="520.84,526.37 526.02,522.91 531.21,526.37 535.71,524.64" fill="none" stroke="#1a1a1a" stroke-width="1.3" stroke-linejoin="round"/><polyline points="524.29,540.19 529.48,543.65 534.67,541.92" fill="none" stroke="#1a1a1a" stroke-width="1.3" stroke-linejoin="round"/><polyline points="524.29,550.56 531.21,554.02 535.71,552.29" fill="none" stroke="#1a1a1a" stroke-width="1.3" stroke-linejoin="round"/>
</svg>
<path d="M427.70,620.80v-2.8M427.70,519.40v2.8M432.03,620.80v-2.8M432.03,519.40v2.8M436.36,620.80v-2.8M436.36,519.40v2.8M440.70,620.80v-2.8M440.70,519.40v2.8M445.03,620.80v-2.8M445.03,519.40v2.8M449.36,620.80v-4.8M449.36,519.40v4.8M453.69,620.80v-2.8M453.69,519.40v2.8M458.02,620.80v-2.8M458.02,519.40v2.8M462.36,620.80v-2.8M462.36,519.40v2.8M466.69,620.80v-2.8M466.69,519.40v2.8M471.02,620.80v-4.8M471.02,519.40v4.8M475.35,620.80v-2.8M475.35,519.40v2.8M479.68,620.80v-2.8M479.68,519.40v2.8M484.02,620.80v-2.8M484.02,519.40v2.8M488.35,620.80v-2.8M488.35,519.40v2.8M492.68,620.80v-4.8M492.68,519.40v4.8M497.01,620.80v-2.8M497.01,519.40v2.8M501.34,620.80v-2.8M501.34,519.40v2.8M505.68,620.80v-2.8M505.68,519.40v2.8M510.01,620.80v-2.8M510.01,519.40v2.8M514.34,620.80v-4.8M514.34,519.40v4.8M518.67,620.80v-2.8M518.67,519.40v2.8M523.00,620.80v-2.8M523.00,519.40v2.8M527.34,620.80v-2.8M527.34,519.40v2.8M531.67,620.80v-2.8M531.67,519.40v2.8M536.00,620.80v-2.8M536.00,519.40v2.8M427.70,615.64h2.8M536.00,615.64h-2.8M427.70,609.19h2.8M536.00,609.19h-2.8M427.70,602.74h2.8M536.00,602.74h-2.8M427.70,596.29h4.8M536.00,596.29h-4.8M427.70,589.84h2.8M536.00,589.84h-2.8M427.70,583.39h2.8M536.00,583.39h-2.8M427.70,576.94h2.8M536.00,576.94h-2.8M427.70,570.49h4.8M536.00,570.49h-4.8M427.70,564.04h2.8M536.00,564.04h-2.8M427.70,557.59h2.8M536.00,557.59h-2.8M427.70,551.14h2.8M536.00,551.14h-2.8M427.70,544.69h4.8M536.00,544.69h-4.8M427.70,538.24h2.8M536.00,538.24h-2.8M427.70,531.78h2.8M536.00,531.78h-2.8M427.70,525.33h2.8M536.00,525.33h-2.8" stroke="#222" stroke-width="0.9" fill="none"/>
<rect x="427.70" y="519.40" width="108.3" height="101.4" fill="none" stroke="#1a1a1a" stroke-width="1.1"/>
<path d="M555.80,620.80L555.80,608.38L561.21,608.38L561.21,606.62L566.63,606.62L566.63,581.47L572.04,581.47L572.04,566.52L577.46,566.52L577.46,550.69L582.87,550.69L582.88,559.13L588.29,559.13L588.29,551.57L593.70,551.57L593.70,554.21L599.12,554.21L599.12,540.14L604.53,540.14L604.53,545.06L609.95,545.06L609.95,528.71L615.36,528.71L615.37,538.38L620.78,538.38L620.78,543.30L626.19,543.30L626.19,530.47L631.61,530.47L631.61,530.47L637.02,530.47L637.02,530.99L642.44,530.99L642.44,539.79L647.85,539.79L647.86,557.73L653.27,557.73L653.27,544.54L658.68,544.54L658.68,564.23L664.10,564.23L664.10,620.80" stroke="#333" stroke-width="1.15" fill="none" stroke-linejoin="miter"/>
<path d="M561.31,620.80v-2.8M561.31,519.40v2.8M568.20,620.80v-2.8M568.20,519.40v2.8M575.09,620.80v-2.8M575.09,519.40v2.8M581.98,620.80v-4.8M581.98,519.40v4.8M588.87,620.80v-2.8M588.87,519.40v2.8M595.76,620.80v-2.8M595.76,519.40v2.8M602.65,620.80v-2.8M602.65,519.40v2.8M609.54,620.80v-4.8M609.54,519.40v4.8M616.43,620.80v-2.8M616.43,519.40v2.8M623.32,620.80v-2.8M623.32,519.40v2.8M630.20,620.80v-2.8M630.20,519.40v2.8M637.09,620.80v-4.8M637.09,519.40v4.8M643.98,620.80v-2.8M643.98,519.40v2.8M650.87,620.80v-2.8M650.87,519.40v2.8M657.76,620.80v-2.8M657.76,519.40v2.8" stroke="#222" stroke-width="0.9" fill="none"/>
<rect x="555.80" y="519.40" width="108.3" height="101.4" fill="none" stroke="#1a1a1a" stroke-width="1.1"/>
<text x="16.60" y="9.60" font-size="10.8" style="font-family:'Liberation Serif',serif" text-anchor="start" fill="#111" textLength="20.5" lengthAdjust="spacingAndGlyphs" >R_pl</text>
<text x="41.50" y="9.60" font-size="10.8" style="font-family:'Liberation Serif',serif" text-anchor="start" fill="#111" textLength="5.6" lengthAdjust="spacingAndGlyphs" >=</text>
<text x="52.10" y="9.60" font-size="10.2" style="font-family:'Liberation Sans',sans-serif" text-anchor="start" fill="#111" textLength="75.9" lengthAdjust="spacingAndGlyphs" >6583531076.92</text>
<text x="129.00" y="5.80" font-size="6.6" style="font-family:'Liberation Sans',sans-serif" text-anchor="start" fill="#111" textLength="50.3" lengthAdjust="spacingAndGlyphs" >+62384180.50</text>
<text x="129.00" y="12.30" font-size="6.6" style="font-family:'Liberation Sans',sans-serif" text-anchor="start" fill="#111" textLength="48.6" lengthAdjust="spacingAndGlyphs" >−95785558.02</text>
<text x="188.60" y="135.30" font-size="10.8" style="font-family:'Liberation Serif',serif" text-anchor="start" fill="#111" textLength="18.1" lengthAdjust="spacingAndGlyphs" >C/O</text>
<text x="210.70" y="135.30" font-size="10.8" style="font-family:'Liberation Serif',serif" text-anchor="start" fill="#111" textLength="5.9" lengthAdjust="spacingAndGlyphs" >=</text>
<text x="221.10" y="135.30" font-size="10.2" style="font-family:'Liberation Sans',sans-serif" text-anchor="start" fill="#111" textLength="20.3" lengthAdjust="spacingAndGlyphs" >0.45</text>
<text x="242.00" y="131.20" font-size="6.6" style="font-family:'Liberation Sans',sans-serif" text-anchor="start" fill="#111" textLength="21.3" lengthAdjust="spacingAndGlyphs" >+0.37</text>
<text x="242.00" y="138.00" font-size="6.6" style="font-family:'Liberation Sans',sans-serif" text-anchor="start" fill="#111" textLength="20.5" lengthAdjust="spacingAndGlyphs" >−0.17</text>
<text x="306.30" y="261.30" font-size="10.8" style="font-family:'Liberation Serif',serif" text-anchor="start" fill="#111" textLength="29.7" lengthAdjust="spacingAndGlyphs" >[Fe/H]</text>
<text x="341.00" y="261.30" font-size="10.8" style="font-family:'Liberation Serif',serif" text-anchor="start" fill="#111" textLength="7.0" lengthAdjust="spacingAndGlyphs" >=</text>
<text x="352.60" y="261.30" font-size="10.2" style="font-family:'Liberation Sans',sans-serif" text-anchor="start" fill="#111" textLength="25.1" lengthAdjust="spacingAndGlyphs" >−0.50</text>
<text x="379.00" y="257.20" font-size="6.6" style="font-family:'Liberation Sans',sans-serif" text-anchor="start" fill="#111" textLength="21.0" lengthAdjust="spacingAndGlyphs" >+1.04</text>
<text x="379.00" y="264.00" font-size="6.6" style="font-family:'Liberation Sans',sans-serif" text-anchor="start" fill="#111" textLength="21.0" lengthAdjust="spacingAndGlyphs" >−1.03</text>
<text x="417.30" y="387.70" font-size="10.8" style="font-family:'Liberation Serif',serif" text-anchor="start" fill="#111" textLength="64.8" lengthAdjust="spacingAndGlyphs" >log_kappa_IR</text>
<text x="485.70" y="387.70" font-size="10.8" style="font-family:'Liberation Serif',serif" text-anchor="start" fill="#111" textLength="6.7" lengthAdjust="spacingAndGlyphs" >=</text>
<text x="496.60" y="387.70" font-size="10.2" style="font-family:'Liberation Sans',sans-serif" text-anchor="start" fill="#111" textLength="28.7" lengthAdjust="spacingAndGlyphs" >−2.28</text>
<text x="526.70" y="383.60" font-size="6.6" style="font-family:'Liberation Sans',sans-serif" text-anchor="start" fill="#111" textLength="19.6" lengthAdjust="spacingAndGlyphs" >+1.35</text>
<text x="526.70" y="390.40" font-size="6.6" style="font-family:'Liberation Sans',sans-serif" text-anchor="start" fill="#111" textLength="19.6" lengthAdjust="spacingAndGlyphs" >−1.91</text>
<text x="564.00" y="513.50" font-size="10.8" style="font-family:'Liberation Serif',serif" text-anchor="start" fill="#111" textLength="34.7" lengthAdjust="spacingAndGlyphs" >gamma</text>
<text x="603.80" y="513.50" font-size="10.8" style="font-family:'Liberation Serif',serif" text-anchor="start" fill="#111" textLength="5.5" lengthAdjust="spacingAndGlyphs" >=</text>
<text x="614.00" y="513.50" font-size="10.2" style="font-family:'Liberation Sans',sans-serif" text-anchor="start" fill="#111" textLength="21.0" lengthAdjust="spacingAndGlyphs" >0.46</text>
<text x="635.70" y="509.40" font-size="6.6" style="font-family:'Liberation Sans',sans-serif" text-anchor="start" fill="#111" textLength="18.9" lengthAdjust="spacingAndGlyphs" >+0.21</text>
<text x="635.70" y="516.20" font-size="6.6" style="font-family:'Liberation Sans',sans-serif" text-anchor="start" fill="#111" textLength="18.9" lengthAdjust="spacingAndGlyphs" >−0.24</text>
<text x="87.70" y="658.30" font-size="10.8" style="font-family:'Liberation Serif',serif" text-anchor="start" fill="#111" textLength="20.5" lengthAdjust="spacingAndGlyphs" >R_pl</text>
<text x="216.70" y="658.30" font-size="10.8" style="font-family:'Liberation Serif',serif" text-anchor="start" fill="#111" textLength="17.8" lengthAdjust="spacingAndGlyphs" >C/O</text>
<text x="338.50" y="658.30" font-size="10.8" style="font-family:'Liberation Serif',serif" text-anchor="start" fill="#111" textLength="30.7" lengthAdjust="spacingAndGlyphs" >[Fe/H]</text>
<text x="449.50" y="658.30" font-size="10.8" style="font-family:'Liberation Serif',serif" text-anchor="start" fill="#111" textLength="64.5" lengthAdjust="spacingAndGlyphs" >log_kappa_IR</text>
<text x="591.70" y="658.30" font-size="10.8" style="font-family:'Liberation Serif',serif" text-anchor="start" fill="#111" textLength="35.4" lengthAdjust="spacingAndGlyphs" >gamma</text>
<text transform="translate(9.3,200.60) rotate(-90)" x="0" y="0" font-size="10.8" style="font-family:'Liberation Serif',serif" fill="#111" textLength="17.10" lengthAdjust="spacingAndGlyphs">C/O</text>
<text transform="translate(9.3,333.50) rotate(-90)" x="0" y="0" font-size="10.8" style="font-family:'Liberation Serif',serif" fill="#111" textLength="29.10" lengthAdjust="spacingAndGlyphs">[Fe/H]</text>
<text transform="translate(9.3,477.30) rotate(-90)" x="0" y="0" font-size="10.8" style="font-family:'Liberation Serif',serif" fill="#111" textLength="65.70" lengthAdjust="spacingAndGlyphs">log_kappa_IR</text>
<text transform="translate(9.3,588.00) rotate(-90)" x="0" y="0" font-size="10.8" style="font-family:'Liberation Serif',serif" fill="#111" textLength="35.80" lengthAdjust="spacingAndGlyphs">gamma</text>
<text x="136.20" y="654.20" font-size="10.8" style="font-family:'Liberation Serif',serif" text-anchor="start" fill="#111" textLength="15.4" lengthAdjust="spacingAndGlyphs" >1e9</text>
<text transform="translate(48.60,634.35) rotate(-45)" x="0" y="3.00" font-size="9.2" style="font-family:'Liberation Serif',serif" fill="#111" text-anchor="middle" textLength="18.77" lengthAdjust="spacingAndGlyphs">6.40</text>
<text transform="translate(74.10,634.35) rotate(-45)" x="0" y="3.00" font-size="9.2" style="font-family:'Liberation Serif',serif" fill="#111" text-anchor="middle" textLength="18.77" lengthAdjust="spacingAndGlyphs">6.48</text>
<text transform="translate(99.60,634.35) rotate(-45)" x="0" y="3.00" font-size="9.2" style="font-family:'Liberation Serif',serif" fill="#111" text-anchor="middle" textLength="18.77" lengthAdjust="spacingAndGlyphs">6.56</text>
<text transform="translate(125.10,634.35) rotate(-45)" x="0" y="3.00" font-size="9.2" style="font-family:'Liberation Serif',serif" fill="#111" text-anchor="middle" textLength="18.77" lengthAdjust="spacingAndGlyphs">6.64</text>
<text transform="translate(150.60,634.35) rotate(-45)" x="0" y="3.00" font-size="9.2" style="font-family:'Liberation Serif',serif" fill="#111" text-anchor="middle" textLength="18.77" lengthAdjust="spacingAndGlyphs">6.72</text>
<text transform="translate(178.85,632.58) rotate(-45)" x="0" y="3.00" font-size="9.2" style="font-family:'Liberation Serif',serif" fill="#111" text-anchor="middle" textLength="13.78" lengthAdjust="spacingAndGlyphs">0.3</text>
<text transform="translate(200.91,632.58) rotate(-45)" x="0" y="3.00" font-size="9.2" style="font-family:'Liberation Serif',serif" fill="#111" text-anchor="middle" textLength="13.78" lengthAdjust="spacingAndGlyphs">0.6</text>
<text transform="translate(222.97,632.58) rotate(-45)" x="0" y="3.00" font-size="9.2" style="font-family:'Liberation Serif',serif" fill="#111" text-anchor="middle" textLength="13.78" lengthAdjust="spacingAndGlyphs">0.9</text>
<text transform="translate(245.02,632.58) rotate(-45)" x="0" y="3.00" font-size="9.2" style="font-family:'Liberation Serif',serif" fill="#111" text-anchor="middle" textLength="13.78" lengthAdjust="spacingAndGlyphs">1.2</text>
<text transform="translate(267.08,632.58) rotate(-45)" x="0" y="3.00" font-size="9.2" style="font-family:'Liberation Serif',serif" fill="#111" text-anchor="middle" textLength="13.78" lengthAdjust="spacingAndGlyphs">1.5</text>
<text transform="translate(305.15,634.91) rotate(-45)" x="0" y="3.00" font-size="9.2" style="font-family:'Liberation Serif',serif" fill="#111" text-anchor="middle" textLength="20.36" lengthAdjust="spacingAndGlyphs">−1.8</text>
<text transform="translate(327.35,634.91) rotate(-45)" x="0" y="3.00" font-size="9.2" style="font-family:'Liberation Serif',serif" fill="#111" text-anchor="middle" textLength="20.36" lengthAdjust="spacingAndGlyphs">−1.2</text>
<text transform="translate(349.55,634.91) rotate(-45)" x="0" y="3.00" font-size="9.2" style="font-family:'Liberation Serif',serif" fill="#111" text-anchor="middle" textLength="20.36" lengthAdjust="spacingAndGlyphs">−0.6</text>
<text transform="translate(371.75,632.58) rotate(-45)" x="0" y="3.00" font-size="9.2" style="font-family:'Liberation Serif',serif" fill="#111" text-anchor="middle" textLength="13.78" lengthAdjust="spacingAndGlyphs">0.0</text>
<text transform="translate(393.95,632.58) rotate(-45)" x="0" y="3.00" font-size="9.2" style="font-family:'Liberation Serif',serif" fill="#111" text-anchor="middle" textLength="13.78" lengthAdjust="spacingAndGlyphs">0.6</text>
<text transform="translate(449.36,632.26) rotate(-45)" x="0" y="3.00" font-size="9.2" style="font-family:'Liberation Serif',serif" fill="#111" text-anchor="middle" textLength="12.87" lengthAdjust="spacingAndGlyphs">−4</text>
<text transform="translate(471.02,632.26) rotate(-45)" x="0" y="3.00" font-size="9.2" style="font-family:'Liberation Serif',serif" fill="#111" text-anchor="middle" textLength="12.87" lengthAdjust="spacingAndGlyphs">−3</text>
<text transform="translate(492.68,632.26) rotate(-45)" x="0" y="3.00" font-size="9.2" style="font-family:'Liberation Serif',serif" fill="#111" text-anchor="middle" textLength="12.87" lengthAdjust="spacingAndGlyphs">−2</text>
<text transform="translate(514.34,632.26) rotate(-45)" x="0" y="3.00" font-size="9.2" style="font-family:'Liberation Serif',serif" fill="#111" text-anchor="middle" textLength="12.87" lengthAdjust="spacingAndGlyphs">−1</text>
<text transform="translate(581.98,632.58) rotate(-45)" x="0" y="3.00" font-size="9.2" style="font-family:'Liberation Serif',serif" fill="#111" text-anchor="middle" textLength="13.78" lengthAdjust="spacingAndGlyphs">0.2</text>
<text transform="translate(609.54,632.58) rotate(-45)" x="0" y="3.00" font-size="9.2" style="font-family:'Liberation Serif',serif" fill="#111" text-anchor="middle" textLength="13.78" lengthAdjust="spacingAndGlyphs">0.4</text>
<text transform="translate(637.09,632.58) rotate(-45)" x="0" y="3.00" font-size="9.2" style="font-family:'Liberation Serif',serif" fill="#111" text-anchor="middle" textLength="13.78" lengthAdjust="spacingAndGlyphs">0.6</text>
<text transform="translate(32.72,241.42) rotate(-45)" x="0" y="3.00" font-size="9.2" style="font-family:'Liberation Serif',serif" fill="#111" text-anchor="middle" textLength="13.78" lengthAdjust="spacingAndGlyphs">0.3</text>
<text transform="translate(32.72,220.76) rotate(-45)" x="0" y="3.00" font-size="9.2" style="font-family:'Liberation Serif',serif" fill="#111" text-anchor="middle" textLength="13.78" lengthAdjust="spacingAndGlyphs">0.6</text>
<text transform="translate(32.72,200.11) rotate(-45)" x="0" y="3.00" font-size="9.2" style="font-family:'Liberation Serif',serif" fill="#111" text-anchor="middle" textLength="13.78" lengthAdjust="spacingAndGlyphs">0.9</text>
<text transform="translate(32.72,179.46) rotate(-45)" x="0" y="3.00" font-size="9.2" style="font-family:'Liberation Serif',serif" fill="#111" text-anchor="middle" textLength="13.78" lengthAdjust="spacingAndGlyphs">1.2</text>
<text transform="translate(32.72,158.81) rotate(-45)" x="0" y="3.00" font-size="9.2" style="font-family:'Liberation Serif',serif" fill="#111" text-anchor="middle" textLength="13.78" lengthAdjust="spacingAndGlyphs">1.5</text>
<text transform="translate(30.39,369.20) rotate(-45)" x="0" y="3.00" font-size="9.2" style="font-family:'Liberation Serif',serif" fill="#111" text-anchor="middle" textLength="20.36" lengthAdjust="spacingAndGlyphs">−1.8</text>
<text transform="translate(30.39,348.42) rotate(-45)" x="0" y="3.00" font-size="9.2" style="font-family:'Liberation Serif',serif" fill="#111" text-anchor="middle" textLength="20.36" lengthAdjust="spacingAndGlyphs">−1.2</text>
<text transform="translate(30.39,327.63) rotate(-45)" x="0" y="3.00" font-size="9.2" style="font-family:'Liberation Serif',serif" fill="#111" text-anchor="middle" textLength="20.36" lengthAdjust="spacingAndGlyphs">−0.6</text>
<text transform="translate(32.72,306.85) rotate(-45)" x="0" y="3.00" font-size="9.2" style="font-family:'Liberation Serif',serif" fill="#111" text-anchor="middle" textLength="13.78" lengthAdjust="spacingAndGlyphs">0.0</text>
<text transform="translate(32.72,286.06) rotate(-45)" x="0" y="3.00" font-size="9.2" style="font-family:'Liberation Serif',serif" fill="#111" text-anchor="middle" textLength="13.78" lengthAdjust="spacingAndGlyphs">0.6</text>
<text transform="translate(33.04,480.22) rotate(-45)" x="0" y="3.00" font-size="9.2" style="font-family:'Liberation Serif',serif" fill="#111" text-anchor="middle" textLength="12.87" lengthAdjust="spacingAndGlyphs">−4</text>
<text transform="translate(33.04,459.94) rotate(-45)" x="0" y="3.00" font-size="9.2" style="font-family:'Liberation Serif',serif" fill="#111" text-anchor="middle" textLength="12.87" lengthAdjust="spacingAndGlyphs">−3</text>
<text transform="translate(33.04,439.66) rotate(-45)" x="0" y="3.00" font-size="9.2" style="font-family:'Liberation Serif',serif" fill="#111" text-anchor="middle" textLength="12.87" lengthAdjust="spacingAndGlyphs">−2</text>
<text transform="translate(33.04,419.38) rotate(-45)" x="0" y="3.00" font-size="9.2" style="font-family:'Liberation Serif',serif" fill="#111" text-anchor="middle" textLength="12.87" lengthAdjust="spacingAndGlyphs">−1</text>
<text transform="translate(32.72,602.09) rotate(-45)" x="0" y="3.00" font-size="9.2" style="font-family:'Liberation Serif',serif" fill="#111" text-anchor="middle" textLength="13.78" lengthAdjust="spacingAndGlyphs">0.2</text>
<text transform="translate(32.72,576.29) rotate(-45)" x="0" y="3.00" font-size="9.2" style="font-family:'Liberation Serif',serif" fill="#111" text-anchor="middle" textLength="13.78" lengthAdjust="spacingAndGlyphs">0.4</text>
<text transform="translate(32.72,550.49) rotate(-45)" x="0" y="3.00" font-size="9.2" style="font-family:'Liberation Serif',serif" fill="#111" text-anchor="middle" textLength="13.78" lengthAdjust="spacingAndGlyphs">0.6</text>
</svg></body></html>
